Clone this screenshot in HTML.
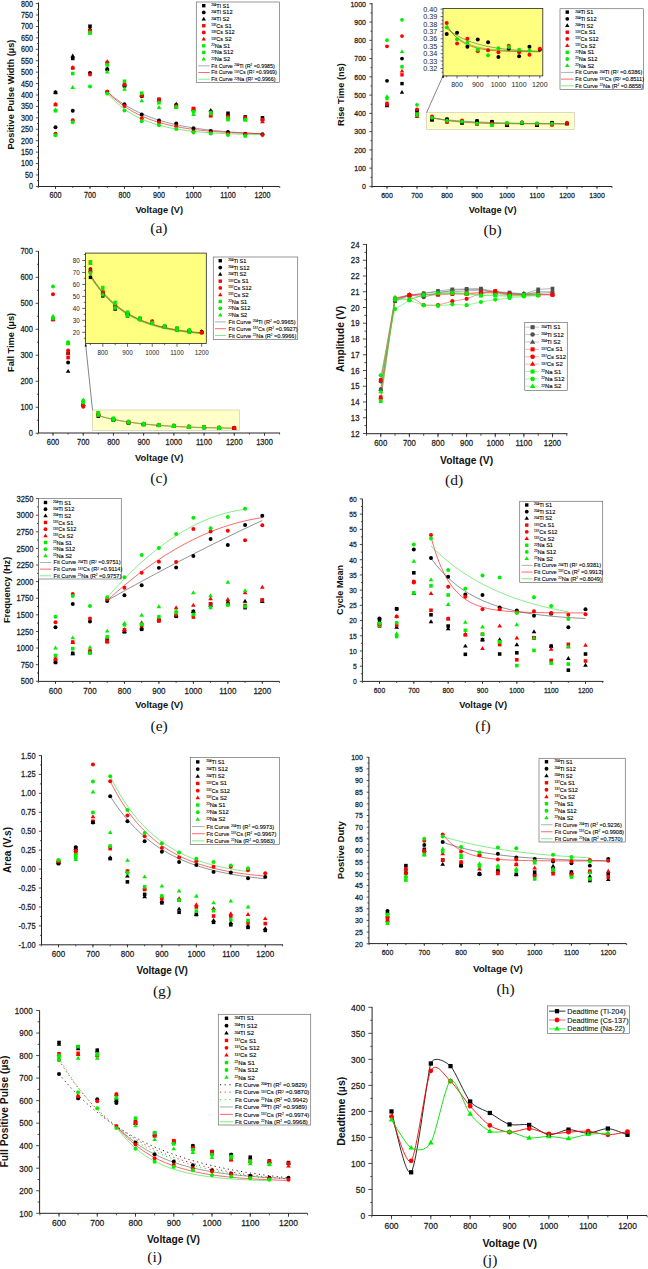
<!DOCTYPE html><html><head><meta charset="utf-8"><style>
html,body{margin:0;padding:0;background:#fff;width:648px;height:1269px;overflow:hidden}
svg{display:block;font-family:"Liberation Sans",sans-serif}
</style></head><body>
<svg width="648" height="1269" viewBox="0 0 648 1269">
<path d="M38.5 2.5V186.5H279.5" fill="none" stroke="#262626" stroke-width="1"/>
<path d="M55.50 186.5v2.6M90.00 186.5v2.6M124.50 186.5v2.6M159.00 186.5v2.6M193.50 186.5v2.6M228.00 186.5v2.6M262.50 186.5v2.6M38.25 186.5v1.5M55.50 186.5v1.5M72.75 186.5v1.5M90.00 186.5v1.5M107.25 186.5v1.5M124.50 186.5v1.5M141.75 186.5v1.5M159.00 186.5v1.5M176.25 186.5v1.5M193.50 186.5v1.5M210.75 186.5v1.5M228.00 186.5v1.5M245.25 186.5v1.5M262.50 186.5v1.5M279.75 186.5v1.5M38.5 186.40h-2.6M38.5 174.97h-2.6M38.5 163.55h-2.6M38.5 152.12h-2.6M38.5 140.70h-2.6M38.5 129.28h-2.6M38.5 117.85h-2.6M38.5 106.42h-2.6M38.5 95.00h-2.6M38.5 83.58h-2.6M38.5 72.15h-2.6M38.5 60.73h-2.6M38.5 49.30h-2.6M38.5 37.88h-2.6M38.5 26.45h-2.6M38.5 15.03h-2.6M38.5 3.60h-2.6M38.5 180.69h-1.5M38.5 169.26h-1.5M38.5 157.84h-1.5M38.5 146.41h-1.5M38.5 134.99h-1.5M38.5 123.56h-1.5M38.5 112.14h-1.5M38.5 100.71h-1.5M38.5 89.29h-1.5M38.5 77.86h-1.5M38.5 66.44h-1.5M38.5 55.01h-1.5M38.5 43.59h-1.5M38.5 32.16h-1.5M38.5 20.74h-1.5M38.5 9.31h-1.5" stroke="#262626" stroke-width="0.8"/>
<text transform="translate(55.50 198.00) scale(1 1.15)" font-size="7.2" text-anchor="middle" fill="#222" stroke="#222" stroke-width="0.22">600</text>
<text transform="translate(90.00 198.00) scale(1 1.15)" font-size="7.2" text-anchor="middle" fill="#222" stroke="#222" stroke-width="0.22">700</text>
<text transform="translate(124.50 198.00) scale(1 1.15)" font-size="7.2" text-anchor="middle" fill="#222" stroke="#222" stroke-width="0.22">800</text>
<text transform="translate(159.00 198.00) scale(1 1.15)" font-size="7.2" text-anchor="middle" fill="#222" stroke="#222" stroke-width="0.22">900</text>
<text transform="translate(193.50 198.00) scale(1 1.15)" font-size="7.2" text-anchor="middle" fill="#222" stroke="#222" stroke-width="0.22">1000</text>
<text transform="translate(228.00 198.00) scale(1 1.15)" font-size="7.2" text-anchor="middle" fill="#222" stroke="#222" stroke-width="0.22">1100</text>
<text transform="translate(262.50 198.00) scale(1 1.15)" font-size="7.2" text-anchor="middle" fill="#222" stroke="#222" stroke-width="0.22">1200</text>
<text transform="translate(33.10 189.34) scale(1 1.15)" font-size="7.2" text-anchor="end" fill="#222" stroke="#222" stroke-width="0.22">0</text>
<text transform="translate(33.10 177.91) scale(1 1.15)" font-size="7.2" text-anchor="end" fill="#222" stroke="#222" stroke-width="0.22">50</text>
<text transform="translate(33.10 166.49) scale(1 1.15)" font-size="7.2" text-anchor="end" fill="#222" stroke="#222" stroke-width="0.22">100</text>
<text transform="translate(33.10 155.06) scale(1 1.15)" font-size="7.2" text-anchor="end" fill="#222" stroke="#222" stroke-width="0.22">150</text>
<text transform="translate(33.10 143.64) scale(1 1.15)" font-size="7.2" text-anchor="end" fill="#222" stroke="#222" stroke-width="0.22">200</text>
<text transform="translate(33.10 132.21) scale(1 1.15)" font-size="7.2" text-anchor="end" fill="#222" stroke="#222" stroke-width="0.22">250</text>
<text transform="translate(33.10 120.79) scale(1 1.15)" font-size="7.2" text-anchor="end" fill="#222" stroke="#222" stroke-width="0.22">300</text>
<text transform="translate(33.10 109.36) scale(1 1.15)" font-size="7.2" text-anchor="end" fill="#222" stroke="#222" stroke-width="0.22">350</text>
<text transform="translate(33.10 97.94) scale(1 1.15)" font-size="7.2" text-anchor="end" fill="#222" stroke="#222" stroke-width="0.22">400</text>
<text transform="translate(33.10 86.51) scale(1 1.15)" font-size="7.2" text-anchor="end" fill="#222" stroke="#222" stroke-width="0.22">450</text>
<text transform="translate(33.10 75.09) scale(1 1.15)" font-size="7.2" text-anchor="end" fill="#222" stroke="#222" stroke-width="0.22">500</text>
<text transform="translate(33.10 63.66) scale(1 1.15)" font-size="7.2" text-anchor="end" fill="#222" stroke="#222" stroke-width="0.22">550</text>
<text transform="translate(33.10 52.24) scale(1 1.15)" font-size="7.2" text-anchor="end" fill="#222" stroke="#222" stroke-width="0.22">600</text>
<text transform="translate(33.10 40.81) scale(1 1.15)" font-size="7.2" text-anchor="end" fill="#222" stroke="#222" stroke-width="0.22">650</text>
<text transform="translate(33.10 29.39) scale(1 1.15)" font-size="7.2" text-anchor="end" fill="#222" stroke="#222" stroke-width="0.22">700</text>
<text transform="translate(33.10 17.96) scale(1 1.15)" font-size="7.2" text-anchor="end" fill="#222" stroke="#222" stroke-width="0.22">750</text>
<text transform="translate(33.10 6.54) scale(1 1.15)" font-size="7.2" text-anchor="end" fill="#222" stroke="#222" stroke-width="0.22">800</text>
<text x="159.20" y="212.90" font-size="9.25" font-weight="bold" text-anchor="middle" fill="#111">Voltage (V)</text>
<text transform="translate(14.40 94.60) rotate(-90)" font-size="9.24" font-weight="bold" text-anchor="middle" fill="#111">Positive Pulse Width (µs)</text>
<text x="158.90" y="233.30" style="font-family:&quot;Liberation Serif&quot;,serif" font-size="15.6" text-anchor="middle" fill="#111">(a)</text>
<path d="M107.25 91.80L109.84 94.02L112.42 96.13L115.01 98.13L117.60 100.03L120.19 101.83L122.78 103.54L125.36 105.17L127.95 106.71L130.54 108.17L133.12 109.56L135.71 110.88L138.30 112.14L140.89 113.33L143.47 114.46L146.06 115.53L148.65 116.55L151.24 117.52L153.82 118.44L156.41 119.31L159.00 120.14L161.59 120.92L164.18 121.67L166.76 122.38L169.35 123.05L171.94 123.69L174.53 124.29L177.11 124.87L179.70 125.41L182.29 125.93L184.88 126.43L187.46 126.89L190.05 127.34L192.64 127.76L195.22 128.16L197.81 128.54L200.40 128.90L202.99 129.24L205.57 129.57L208.16 129.88L210.75 130.17L213.34 130.45L215.93 130.71L218.51 130.96L221.10 131.20L223.69 131.43L226.28 131.64L228.86 131.85L231.45 132.04L234.04 132.22L236.62 132.40L239.21 132.56L241.80 132.72L244.39 132.87L246.97 133.01L249.56 133.15L252.15 133.27L254.74 133.40L257.32 133.51L259.91 133.62L262.50 133.72" fill="none" stroke="#555" stroke-width="0.6"/>
<path d="M107.25 91.80L109.84 94.40L112.42 96.84L115.01 99.13L117.60 101.29L120.19 103.31L122.78 105.21L125.36 107.00L127.95 108.68L130.54 110.25L133.12 111.74L135.71 113.13L138.30 114.44L140.89 115.66L143.47 116.82L146.06 117.90L148.65 118.92L151.24 119.88L153.82 120.78L156.41 121.63L159.00 122.42L161.59 123.17L164.18 123.87L166.76 124.53L169.35 125.14L171.94 125.73L174.53 126.27L177.11 126.79L179.70 127.27L182.29 127.72L184.88 128.15L187.46 128.55L190.05 128.92L192.64 129.27L195.22 129.61L197.81 129.92L200.40 130.21L202.99 130.49L205.57 130.74L208.16 130.99L210.75 131.21L213.34 131.43L215.93 131.63L218.51 131.82L221.10 132.00L223.69 132.16L226.28 132.32L228.86 132.47L231.45 132.61L234.04 132.74L236.62 132.86L239.21 132.97L241.80 133.08L244.39 133.18L246.97 133.28L249.56 133.37L252.15 133.45L254.74 133.53L257.32 133.61L259.91 133.68L262.50 133.74" fill="none" stroke="#ff0000" stroke-width="0.6"/>
<path d="M107.25 93.17L109.84 96.07L112.42 98.78L115.01 101.29L117.60 103.63L120.19 105.81L122.78 107.84L125.36 109.73L127.95 111.49L130.54 113.13L133.12 114.66L135.71 116.08L138.30 117.40L140.89 118.63L143.47 119.77L146.06 120.84L148.65 121.83L151.24 122.76L153.82 123.62L156.41 124.42L159.00 125.16L161.59 125.86L164.18 126.50L166.76 127.10L169.35 127.66L171.94 128.19L174.53 128.67L177.11 129.12L179.70 129.54L182.29 129.93L184.88 130.30L187.46 130.64L190.05 130.95L192.64 131.25L195.22 131.52L197.81 131.78L200.40 132.02L202.99 132.24L205.57 132.44L208.16 132.63L210.75 132.81L213.34 132.98L215.93 133.13L218.51 133.28L221.10 133.41L223.69 133.53L226.28 133.65L228.86 133.76L231.45 133.86L234.04 133.95L236.62 134.04L239.21 134.12L241.80 134.20L244.39 134.27L246.97 134.33L249.56 134.39L252.15 134.45L254.74 134.50L257.32 134.55L259.91 134.60L262.50 134.64" fill="none" stroke="#22dd22" stroke-width="0.6"/>
<path d="M55.50 89.79L57.84 93.74L53.16 93.74Z" fill="#000"/>
<path d="M72.75 53.46L75.09 57.41L70.41 57.41Z" fill="#000"/>
<path d="M90.00 26.27L92.34 30.22L87.66 30.22Z" fill="#000"/>
<path d="M107.25 66.26L109.59 70.20L104.91 70.20Z" fill="#000"/>
<path d="M124.50 82.25L126.84 86.20L122.16 86.20Z" fill="#000"/>
<path d="M141.75 92.53L144.09 96.48L139.41 96.48Z" fill="#000"/>
<path d="M159.00 97.56L161.34 101.51L156.66 101.51Z" fill="#000"/>
<path d="M176.25 101.67L178.59 105.62L173.91 105.62Z" fill="#000"/>
<path d="M193.50 107.38L195.84 111.33L191.16 111.33Z" fill="#000"/>
<path d="M210.75 108.07L213.09 112.02L208.41 112.02Z" fill="#000"/>
<path d="M228.00 111.95L230.34 115.90L225.66 115.90Z" fill="#000"/>
<path d="M245.25 115.38L247.59 119.33L242.91 119.33Z" fill="#000"/>
<path d="M262.50 116.53L264.84 120.47L260.16 120.47Z" fill="#000"/>
<rect x="53.72" y="90.70" width="3.57" height="3.57" fill="#000"/>
<rect x="70.97" y="56.66" width="3.57" height="3.57" fill="#000"/>
<rect x="88.22" y="24.44" width="3.57" height="3.57" fill="#000"/>
<rect x="105.47" y="67.62" width="3.57" height="3.57" fill="#000"/>
<rect x="122.72" y="84.08" width="3.57" height="3.57" fill="#000"/>
<rect x="139.97" y="94.36" width="3.57" height="3.57" fill="#000"/>
<rect x="157.22" y="97.79" width="3.57" height="3.57" fill="#000"/>
<rect x="174.47" y="103.50" width="3.57" height="3.57" fill="#000"/>
<rect x="191.72" y="107.38" width="3.57" height="3.57" fill="#000"/>
<rect x="208.97" y="110.35" width="3.57" height="3.57" fill="#000"/>
<rect x="226.22" y="111.50" width="3.57" height="3.57" fill="#000"/>
<rect x="243.47" y="115.15" width="3.57" height="3.57" fill="#000"/>
<rect x="260.71" y="116.07" width="3.57" height="3.57" fill="#000"/>
<circle cx="55.50" cy="127.22" r="1.99" fill="#000"/>
<circle cx="72.75" cy="110.77" r="1.99" fill="#000"/>
<circle cx="90.00" cy="73.06" r="1.99" fill="#000"/>
<circle cx="107.25" cy="91.80" r="1.99" fill="#000"/>
<circle cx="124.50" cy="104.14" r="1.99" fill="#000"/>
<circle cx="141.75" cy="114.42" r="1.99" fill="#000"/>
<circle cx="159.00" cy="120.59" r="1.99" fill="#000"/>
<circle cx="176.25" cy="123.56" r="1.99" fill="#000"/>
<circle cx="193.50" cy="128.36" r="1.99" fill="#000"/>
<circle cx="210.75" cy="130.87" r="1.99" fill="#000"/>
<circle cx="228.00" cy="132.02" r="1.99" fill="#000"/>
<circle cx="245.25" cy="133.84" r="1.99" fill="#000"/>
<circle cx="262.50" cy="134.30" r="1.99" fill="#000"/>
<path d="M55.50 101.67L57.84 105.62L53.16 105.62Z" fill="#ff0000"/>
<path d="M72.75 65.11L75.09 69.06L70.41 69.06Z" fill="#ff0000"/>
<path d="M90.00 27.64L92.34 31.59L87.66 31.59Z" fill="#ff0000"/>
<path d="M107.25 58.94L109.59 62.89L104.91 62.89Z" fill="#ff0000"/>
<path d="M124.50 81.56L126.84 85.51L122.16 85.51Z" fill="#ff0000"/>
<path d="M141.75 92.53L144.09 96.48L139.41 96.48Z" fill="#ff0000"/>
<path d="M159.00 97.56L161.34 101.51L156.66 101.51Z" fill="#ff0000"/>
<path d="M176.25 103.50L178.59 107.45L173.91 107.45Z" fill="#ff0000"/>
<path d="M193.50 106.70L195.84 110.65L191.16 110.65Z" fill="#ff0000"/>
<path d="M210.75 112.64L213.09 116.59L208.41 116.59Z" fill="#ff0000"/>
<path d="M228.00 115.38L230.34 119.33L225.66 119.33Z" fill="#ff0000"/>
<path d="M245.25 116.53L247.59 120.47L242.91 120.47Z" fill="#ff0000"/>
<path d="M262.50 119.27L264.84 123.22L260.16 123.22Z" fill="#ff0000"/>
<rect x="53.72" y="102.81" width="3.57" height="3.57" fill="#ff0000"/>
<rect x="70.97" y="66.25" width="3.57" height="3.57" fill="#ff0000"/>
<rect x="88.22" y="29.23" width="3.57" height="3.57" fill="#ff0000"/>
<rect x="105.47" y="61.23" width="3.57" height="3.57" fill="#ff0000"/>
<rect x="122.72" y="82.93" width="3.57" height="3.57" fill="#ff0000"/>
<rect x="139.97" y="93.90" width="3.57" height="3.57" fill="#ff0000"/>
<rect x="157.22" y="97.56" width="3.57" height="3.57" fill="#ff0000"/>
<rect x="174.47" y="104.64" width="3.57" height="3.57" fill="#ff0000"/>
<rect x="191.72" y="106.70" width="3.57" height="3.57" fill="#ff0000"/>
<rect x="208.97" y="114.01" width="3.57" height="3.57" fill="#ff0000"/>
<rect x="226.22" y="114.69" width="3.57" height="3.57" fill="#ff0000"/>
<rect x="243.47" y="116.07" width="3.57" height="3.57" fill="#ff0000"/>
<rect x="260.71" y="117.89" width="3.57" height="3.57" fill="#ff0000"/>
<circle cx="55.50" cy="133.62" r="1.99" fill="#ff0000"/>
<circle cx="72.75" cy="120.36" r="1.99" fill="#ff0000"/>
<circle cx="90.00" cy="74.44" r="1.99" fill="#ff0000"/>
<circle cx="107.25" cy="91.80" r="1.99" fill="#ff0000"/>
<circle cx="124.50" cy="105.97" r="1.99" fill="#ff0000"/>
<circle cx="141.75" cy="118.31" r="1.99" fill="#ff0000"/>
<circle cx="159.00" cy="122.42" r="1.99" fill="#ff0000"/>
<circle cx="176.25" cy="126.30" r="1.99" fill="#ff0000"/>
<circle cx="193.50" cy="131.56" r="1.99" fill="#ff0000"/>
<circle cx="210.75" cy="132.70" r="1.99" fill="#ff0000"/>
<circle cx="228.00" cy="133.84" r="1.99" fill="#ff0000"/>
<circle cx="245.25" cy="134.30" r="1.99" fill="#ff0000"/>
<circle cx="262.50" cy="134.99" r="1.99" fill="#ff0000"/>
<path d="M55.50 107.38L57.84 111.33L53.16 111.33Z" fill="#00ee00"/>
<path d="M72.75 84.99L75.09 88.94L70.41 88.94Z" fill="#00ee00"/>
<path d="M90.00 30.84L92.34 34.79L87.66 34.79Z" fill="#00ee00"/>
<path d="M107.25 69.45L109.59 73.40L104.91 73.40Z" fill="#00ee00"/>
<path d="M124.50 86.82L126.84 90.77L122.16 90.77Z" fill="#00ee00"/>
<path d="M141.75 98.25L144.09 102.19L139.41 102.19Z" fill="#00ee00"/>
<path d="M159.00 105.10L161.34 109.05L156.66 109.05Z" fill="#00ee00"/>
<path d="M176.25 105.10L178.59 109.05L173.91 109.05Z" fill="#00ee00"/>
<path d="M193.50 111.95L195.84 115.90L191.16 115.90Z" fill="#00ee00"/>
<path d="M210.75 111.27L213.09 115.22L208.41 115.22Z" fill="#00ee00"/>
<path d="M228.00 115.38L230.34 119.33L225.66 119.33Z" fill="#00ee00"/>
<path d="M245.25 117.67L247.59 121.62L242.91 121.62Z" fill="#00ee00"/>
<rect x="53.72" y="108.98" width="3.57" height="3.57" fill="#00ee00"/>
<rect x="70.97" y="71.74" width="3.57" height="3.57" fill="#00ee00"/>
<rect x="88.22" y="30.83" width="3.57" height="3.57" fill="#00ee00"/>
<rect x="105.47" y="63.05" width="3.57" height="3.57" fill="#00ee00"/>
<rect x="122.72" y="79.51" width="3.57" height="3.57" fill="#00ee00"/>
<rect x="139.97" y="91.39" width="3.57" height="3.57" fill="#00ee00"/>
<rect x="157.22" y="100.98" width="3.57" height="3.57" fill="#00ee00"/>
<rect x="174.47" y="105.33" width="3.57" height="3.57" fill="#00ee00"/>
<rect x="191.72" y="109.90" width="3.57" height="3.57" fill="#00ee00"/>
<rect x="208.97" y="110.81" width="3.57" height="3.57" fill="#00ee00"/>
<rect x="226.22" y="117.89" width="3.57" height="3.57" fill="#00ee00"/>
<rect x="243.47" y="117.89" width="3.57" height="3.57" fill="#00ee00"/>
<circle cx="55.50" cy="135.22" r="1.99" fill="#00ee00"/>
<circle cx="72.75" cy="122.19" r="1.99" fill="#00ee00"/>
<circle cx="90.00" cy="86.55" r="1.99" fill="#00ee00"/>
<circle cx="107.25" cy="93.63" r="1.99" fill="#00ee00"/>
<circle cx="124.50" cy="110.54" r="1.99" fill="#00ee00"/>
<circle cx="141.75" cy="121.28" r="1.99" fill="#00ee00"/>
<circle cx="159.00" cy="125.16" r="1.99" fill="#00ee00"/>
<circle cx="176.25" cy="129.05" r="1.99" fill="#00ee00"/>
<circle cx="193.50" cy="132.47" r="1.99" fill="#00ee00"/>
<circle cx="210.75" cy="133.62" r="1.99" fill="#00ee00"/>
<circle cx="228.00" cy="134.99" r="1.99" fill="#00ee00"/>
<circle cx="245.25" cy="135.90" r="1.99" fill="#00ee00"/>
<rect x="196.25" y="2" width="83.25" height="80.5" fill="#fff" stroke="#555" stroke-width="0.6"/>
<rect x="202.05" y="4.00" width="3.40" height="3.40" fill="#000"/>
<text x="211.2" y="7.72" font-size="5.6" fill="#000" stroke="#000" stroke-width="0.12"><tspan font-size="3.08" dy="-1.57">204</tspan><tspan dy="1.57">Tl S1</tspan></text>
<circle cx="203.75" cy="12.38" r="1.90" fill="#000"/>
<text x="211.2" y="14.40" font-size="5.6" fill="#000" stroke="#000" stroke-width="0.12"><tspan font-size="3.08" dy="-1.57">204</tspan><tspan dy="1.57">Tl S12</tspan></text>
<path d="M203.75 16.71L205.98 20.47L201.52 20.47Z" fill="#000"/>
<text x="211.2" y="21.08" font-size="5.6" fill="#000" stroke="#000" stroke-width="0.12"><tspan font-size="3.08" dy="-1.57">204</tspan><tspan dy="1.57">Tl S2</tspan></text>
<rect x="202.05" y="24.05" width="3.40" height="3.40" fill="#ff0000"/>
<text x="211.2" y="27.76" font-size="5.6" fill="#000" stroke="#000" stroke-width="0.12"><tspan font-size="3.08" dy="-1.57">137</tspan><tspan dy="1.57">Cs S1</tspan></text>
<circle cx="203.75" cy="32.43" r="1.90" fill="#ff0000"/>
<text x="211.2" y="34.44" font-size="5.6" fill="#000" stroke="#000" stroke-width="0.12"><tspan font-size="3.08" dy="-1.57">137</tspan><tspan dy="1.57">Cs S12</tspan></text>
<path d="M203.75 36.76L205.98 40.52L201.52 40.52Z" fill="#ff0000"/>
<text x="211.2" y="41.13" font-size="5.6" fill="#000" stroke="#000" stroke-width="0.12"><tspan font-size="3.08" dy="-1.57">137</tspan><tspan dy="1.57">Cs S2</tspan></text>
<rect x="202.05" y="44.09" width="3.40" height="3.40" fill="#00ee00"/>
<text x="211.2" y="47.81" font-size="5.6" fill="#000" stroke="#000" stroke-width="0.12"><tspan font-size="3.08" dy="-1.57">22</tspan><tspan dy="1.57">Na S1</tspan></text>
<circle cx="203.75" cy="52.47" r="1.90" fill="#00ee00"/>
<text x="211.2" y="54.49" font-size="5.6" fill="#000" stroke="#000" stroke-width="0.12"><tspan font-size="3.08" dy="-1.57">22</tspan><tspan dy="1.57">Na S12</tspan></text>
<path d="M203.75 56.80L205.98 60.56L201.52 60.56Z" fill="#00ee00"/>
<text x="211.2" y="61.17" font-size="5.6" fill="#000" stroke="#000" stroke-width="0.12"><tspan font-size="3.08" dy="-1.57">22</tspan><tspan dy="1.57">Na S2</tspan></text>
<line x1="198.25" y1="65.84" x2="209.8" y2="65.84" stroke="#777" stroke-width="0.6"/>
<text x="211.3" y="67.74" font-size="5.3" fill="#000" stroke="#000" stroke-width="0.1">Fit Curve <tspan font-size="2.92" dy="-1.48">204</tspan><tspan dy="1.48">Tl (R</tspan><tspan font-size="2.92" dy="-1.48">2</tspan><tspan dy="1.48"> =0.9985)</tspan></text>
<line x1="198.25" y1="72.52" x2="209.8" y2="72.52" stroke="#ff0000" stroke-width="0.6"/>
<text x="211.3" y="74.43" font-size="5.3" fill="#000" stroke="#000" stroke-width="0.1">Fit Curve <tspan font-size="2.92" dy="-1.48">137</tspan><tspan dy="1.48">Cs (R</tspan><tspan font-size="2.92" dy="-1.48">2</tspan><tspan dy="1.48"> =0.9969)</tspan></text>
<line x1="198.25" y1="79.20" x2="209.8" y2="79.20" stroke="#33dd33" stroke-width="0.6"/>
<text x="211.3" y="81.11" font-size="5.3" fill="#000" stroke="#000" stroke-width="0.1">Fit Curve <tspan font-size="2.92" dy="-1.48">22</tspan><tspan dy="1.48">Na (R</tspan><tspan font-size="2.92" dy="-1.48">2</tspan><tspan dy="1.48"> =0.9966)</tspan></text>
<path d="M372 3V186.5H612" fill="none" stroke="#262626" stroke-width="1"/>
<path d="M387.00 186.5v2.7M417.00 186.5v2.7M447.00 186.5v2.7M477.00 186.5v2.7M507.00 186.5v2.7M537.00 186.5v2.7M567.00 186.5v2.7M597.00 186.5v2.7M372.00 186.5v1.5M387.00 186.5v1.5M402.00 186.5v1.5M417.00 186.5v1.5M432.00 186.5v1.5M447.00 186.5v1.5M462.00 186.5v1.5M477.00 186.5v1.5M492.00 186.5v1.5M507.00 186.5v1.5M522.00 186.5v1.5M537.00 186.5v1.5M552.00 186.5v1.5M567.00 186.5v1.5M582.00 186.5v1.5M597.00 186.5v1.5M612.00 186.5v1.5M372 186.40h-2.7M372 168.14h-2.7M372 149.88h-2.7M372 131.62h-2.7M372 113.36h-2.7M372 95.10h-2.7M372 76.84h-2.7M372 58.58h-2.7M372 40.32h-2.7M372 22.06h-2.7M372 3.80h-2.7M372 177.27h-1.5M372 159.01h-1.5M372 140.75h-1.5M372 122.49h-1.5M372 104.23h-1.5M372 85.97h-1.5M372 67.71h-1.5M372 49.45h-1.5M372 31.19h-1.5M372 12.93h-1.5" stroke="#262626" stroke-width="0.8"/>
<text transform="translate(387.00 198.00) scale(1 1.15)" font-size="7.0" text-anchor="middle" fill="#222" stroke="#222" stroke-width="0.22">600</text>
<text transform="translate(417.00 198.00) scale(1 1.15)" font-size="7.0" text-anchor="middle" fill="#222" stroke="#222" stroke-width="0.22">700</text>
<text transform="translate(447.00 198.00) scale(1 1.15)" font-size="7.0" text-anchor="middle" fill="#222" stroke="#222" stroke-width="0.22">800</text>
<text transform="translate(477.00 198.00) scale(1 1.15)" font-size="7.0" text-anchor="middle" fill="#222" stroke="#222" stroke-width="0.22">900</text>
<text transform="translate(507.00 198.00) scale(1 1.15)" font-size="7.0" text-anchor="middle" fill="#222" stroke="#222" stroke-width="0.22">1000</text>
<text transform="translate(537.00 198.00) scale(1 1.15)" font-size="7.0" text-anchor="middle" fill="#222" stroke="#222" stroke-width="0.22">1100</text>
<text transform="translate(567.00 198.00) scale(1 1.15)" font-size="7.0" text-anchor="middle" fill="#222" stroke="#222" stroke-width="0.22">1200</text>
<text transform="translate(597.00 198.00) scale(1 1.15)" font-size="7.0" text-anchor="middle" fill="#222" stroke="#222" stroke-width="0.22">1300</text>
<text transform="translate(366.00 189.26) scale(1 1.15)" font-size="7.0" text-anchor="end" fill="#222" stroke="#222" stroke-width="0.22">0</text>
<text transform="translate(366.00 171.00) scale(1 1.15)" font-size="7.0" text-anchor="end" fill="#222" stroke="#222" stroke-width="0.22">100</text>
<text transform="translate(366.00 152.74) scale(1 1.15)" font-size="7.0" text-anchor="end" fill="#222" stroke="#222" stroke-width="0.22">200</text>
<text transform="translate(366.00 134.48) scale(1 1.15)" font-size="7.0" text-anchor="end" fill="#222" stroke="#222" stroke-width="0.22">300</text>
<text transform="translate(366.00 116.22) scale(1 1.15)" font-size="7.0" text-anchor="end" fill="#222" stroke="#222" stroke-width="0.22">400</text>
<text transform="translate(366.00 97.96) scale(1 1.15)" font-size="7.0" text-anchor="end" fill="#222" stroke="#222" stroke-width="0.22">500</text>
<text transform="translate(366.00 79.70) scale(1 1.15)" font-size="7.0" text-anchor="end" fill="#222" stroke="#222" stroke-width="0.22">600</text>
<text transform="translate(366.00 61.44) scale(1 1.15)" font-size="7.0" text-anchor="end" fill="#222" stroke="#222" stroke-width="0.22">700</text>
<text transform="translate(366.00 43.18) scale(1 1.15)" font-size="7.0" text-anchor="end" fill="#222" stroke="#222" stroke-width="0.22">800</text>
<text transform="translate(366.00 24.92) scale(1 1.15)" font-size="7.0" text-anchor="end" fill="#222" stroke="#222" stroke-width="0.22">900</text>
<text transform="translate(366.00 6.66) scale(1 1.15)" font-size="7.0" text-anchor="end" fill="#222" stroke="#222" stroke-width="0.22">1000</text>
<text x="492.70" y="213.00" font-size="9.3" font-weight="bold" text-anchor="middle" fill="#111">Voltage (V)</text>
<text transform="translate(344.20 94.60) rotate(-90)" font-size="9.21" font-weight="bold" text-anchor="middle" fill="#111">Rise Time (ns)</text>
<text x="492.60" y="235.20" style="font-family:&quot;Liberation Serif&quot;,serif" font-size="15.6" text-anchor="middle" fill="#111">(b)</text>
<rect x="426.4" y="112.6" width="148" height="16.8" fill="#ffffc8" stroke="#c4c4b0" stroke-width="0.6"/>
<line x1="426.6" y1="112.6" x2="443" y2="75.9" stroke="#333" stroke-width="0.6"/>
<path d="M441.6 77.6L443.6 74.6L444.2 77.8Z" fill="#111"/>
<path d="M432.00 118.11L434.25 118.41L436.50 118.69L438.75 118.96L441.00 119.22L443.25 119.47L445.50 119.70L447.75 119.92L450.00 120.13L452.25 120.32L454.50 120.51L456.75 120.69L459.00 120.86L461.25 121.02L463.50 121.17L465.75 121.32L468.00 121.46L470.25 121.59L472.50 121.71L474.75 121.83L477.00 121.94L479.25 122.05L481.50 122.15L483.75 122.25L486.00 122.34L488.25 122.42L490.50 122.50L492.75 122.58L495.00 122.66L497.25 122.73L499.50 122.79L501.75 122.86L504.00 122.92L506.25 122.97L508.50 123.03L510.75 123.08L513.00 123.13L515.25 123.17L517.50 123.22L519.75 123.26L522.00 123.30L524.25 123.34L526.50 123.37L528.75 123.41L531.00 123.44L533.25 123.47L535.50 123.50L537.75 123.53L540.00 123.55L542.25 123.58L544.50 123.60L546.75 123.62L549.00 123.64L551.25 123.66L553.50 123.68L555.75 123.70L558.00 123.72L560.25 123.73L562.50 123.75L564.75 123.77L567.00 123.78" fill="none" stroke="#555" stroke-width="0.6"/>
<path d="M432.00 117.19L434.25 117.83L436.50 118.41L438.75 118.94L441.00 119.41L443.25 119.84L445.50 120.22L447.75 120.57L450.00 120.89L452.25 121.17L454.50 121.43L456.75 121.66L459.00 121.87L461.25 122.07L463.50 122.24L465.75 122.39L468.00 122.53L470.25 122.66L472.50 122.78L474.75 122.88L477.00 122.97L479.25 123.06L481.50 123.14L483.75 123.21L486.00 123.27L488.25 123.33L490.50 123.38L492.75 123.42L495.00 123.46L497.25 123.50L499.50 123.54L501.75 123.57L504.00 123.60L506.25 123.62L508.50 123.64L510.75 123.66L513.00 123.68L515.25 123.70L517.50 123.72L519.75 123.73L522.00 123.74L524.25 123.75L526.50 123.76L528.75 123.77L531.00 123.78L533.25 123.79L535.50 123.80L537.75 123.80L540.00 123.81L542.25 123.81L544.50 123.82L546.75 123.82L549.00 123.82L551.25 123.83L553.50 123.83L555.75 123.83L558.00 123.84L560.25 123.84L562.50 123.84L564.75 123.84L567.00 123.84" fill="none" stroke="#ff0000" stroke-width="0.6"/>
<path d="M432.00 117.65L434.25 118.16L436.50 118.63L438.75 119.06L441.00 119.45L443.25 119.81L445.50 120.14L447.75 120.44L450.00 120.72L452.25 120.97L454.50 121.21L456.75 121.42L459.00 121.62L461.25 121.79L463.50 121.96L465.75 122.11L468.00 122.25L470.25 122.37L472.50 122.49L474.75 122.60L477.00 122.69L479.25 122.78L481.50 122.87L483.75 122.94L486.00 123.01L488.25 123.07L490.50 123.13L492.75 123.18L495.00 123.23L497.25 123.28L499.50 123.32L501.75 123.36L504.00 123.39L506.25 123.42L508.50 123.45L510.75 123.48L513.00 123.50L515.25 123.52L517.50 123.54L519.75 123.56L522.00 123.58L524.25 123.60L526.50 123.61L528.75 123.62L531.00 123.64L533.25 123.65L535.50 123.66L537.75 123.67L540.00 123.67L542.25 123.68L544.50 123.69L546.75 123.70L549.00 123.70L551.25 123.71L553.50 123.71L555.75 123.72L558.00 123.72L560.25 123.73L562.50 123.73L564.75 123.73L567.00 123.74" fill="none" stroke="#22dd22" stroke-width="0.6"/>
<path d="M387.00 103.52L389.23 107.28L384.77 107.28Z" fill="#000"/>
<path d="M402.00 90.01L404.23 93.77L399.77 93.77Z" fill="#000"/>
<path d="M417.00 112.47L419.23 116.23L414.77 116.23Z" fill="#000"/>
<path d="M432.00 117.66L434.23 121.42L429.77 121.42Z" fill="#000"/>
<path d="M447.00 117.40L449.23 121.16L444.77 121.16Z" fill="#000"/>
<path d="M462.00 120.82L464.23 124.58L459.77 124.58Z" fill="#000"/>
<path d="M477.00 119.01L479.23 122.77L474.77 122.77Z" fill="#000"/>
<path d="M492.00 119.74L494.23 123.50L489.77 123.50Z" fill="#000"/>
<path d="M507.00 123.35L509.23 127.11L504.77 127.11Z" fill="#000"/>
<path d="M522.00 121.29L524.23 125.05L519.77 125.05Z" fill="#000"/>
<path d="M537.00 123.15L539.23 126.91L534.77 126.91Z" fill="#000"/>
<path d="M552.00 120.82L554.23 124.58L549.77 124.58Z" fill="#000"/>
<path d="M567.00 121.56L569.23 125.32L564.77 125.32Z" fill="#000"/>
<rect x="385.30" y="103.44" width="3.40" height="3.40" fill="#000"/>
<rect x="400.30" y="81.90" width="3.40" height="3.40" fill="#000"/>
<rect x="415.30" y="110.75" width="3.40" height="3.40" fill="#000"/>
<rect x="430.30" y="117.94" width="3.40" height="3.40" fill="#000"/>
<rect x="445.30" y="117.69" width="3.40" height="3.40" fill="#000"/>
<rect x="460.30" y="121.10" width="3.40" height="3.40" fill="#000"/>
<rect x="475.30" y="119.29" width="3.40" height="3.40" fill="#000"/>
<rect x="490.30" y="120.02" width="3.40" height="3.40" fill="#000"/>
<rect x="505.30" y="123.64" width="3.40" height="3.40" fill="#000"/>
<rect x="520.30" y="121.58" width="3.40" height="3.40" fill="#000"/>
<rect x="535.30" y="123.44" width="3.40" height="3.40" fill="#000"/>
<rect x="550.30" y="121.10" width="3.40" height="3.40" fill="#000"/>
<rect x="565.30" y="121.85" width="3.40" height="3.40" fill="#000"/>
<path d="M387.00 102.43L389.23 106.19L384.77 106.19Z" fill="#ff0000"/>
<path d="M402.00 68.83L404.23 72.59L399.77 72.59Z" fill="#ff0000"/>
<path d="M417.00 114.30L419.23 118.06L414.77 118.06Z" fill="#ff0000"/>
<path d="M432.00 114.06L434.23 117.82L429.77 117.82Z" fill="#ff0000"/>
<path d="M447.00 119.08L449.23 122.84L444.77 122.84Z" fill="#ff0000"/>
<path d="M462.00 117.95L464.23 121.71L459.77 121.71Z" fill="#ff0000"/>
<path d="M477.00 121.03L479.23 124.79L474.77 124.79Z" fill="#ff0000"/>
<path d="M492.00 120.74L494.23 124.50L489.77 124.50Z" fill="#ff0000"/>
<path d="M507.00 121.24L509.23 125.00L504.77 125.00Z" fill="#ff0000"/>
<path d="M522.00 119.65L524.23 123.41L519.77 123.41Z" fill="#ff0000"/>
<path d="M537.00 121.27L539.23 125.03L534.77 125.03Z" fill="#ff0000"/>
<path d="M552.00 121.86L554.23 125.62L549.77 125.62Z" fill="#ff0000"/>
<path d="M567.00 120.38L569.23 124.14L564.77 124.14Z" fill="#ff0000"/>
<rect x="385.30" y="101.62" width="3.40" height="3.40" fill="#ff0000"/>
<rect x="400.30" y="73.13" width="3.40" height="3.40" fill="#ff0000"/>
<rect x="415.30" y="112.57" width="3.40" height="3.40" fill="#ff0000"/>
<rect x="430.30" y="115.44" width="3.40" height="3.40" fill="#ff0000"/>
<rect x="445.30" y="120.46" width="3.40" height="3.40" fill="#ff0000"/>
<rect x="460.30" y="119.33" width="3.40" height="3.40" fill="#ff0000"/>
<rect x="475.30" y="122.42" width="3.40" height="3.40" fill="#ff0000"/>
<rect x="490.30" y="122.12" width="3.40" height="3.40" fill="#ff0000"/>
<rect x="505.30" y="122.62" width="3.40" height="3.40" fill="#ff0000"/>
<rect x="520.30" y="121.03" width="3.40" height="3.40" fill="#ff0000"/>
<rect x="535.30" y="122.65" width="3.40" height="3.40" fill="#ff0000"/>
<rect x="550.30" y="123.24" width="3.40" height="3.40" fill="#ff0000"/>
<rect x="565.30" y="121.76" width="3.40" height="3.40" fill="#ff0000"/>
<path d="M387.00 94.21L389.23 97.97L384.77 97.97Z" fill="#00ee00"/>
<path d="M402.00 49.29L404.23 53.05L399.77 53.05Z" fill="#00ee00"/>
<path d="M417.00 113.02L419.23 116.78L414.77 116.78Z" fill="#00ee00"/>
<path d="M432.00 116.23L434.23 119.99L429.77 119.99Z" fill="#00ee00"/>
<path d="M447.00 119.15L449.23 122.91L444.77 122.91Z" fill="#00ee00"/>
<path d="M462.00 120.03L464.23 123.79L459.77 123.79Z" fill="#00ee00"/>
<path d="M477.00 121.75L479.23 125.51L474.77 125.51Z" fill="#00ee00"/>
<path d="M492.00 123.10L494.23 126.86L489.77 126.86Z" fill="#00ee00"/>
<path d="M507.00 121.38L509.23 125.14L504.77 125.14Z" fill="#00ee00"/>
<path d="M522.00 121.05L524.23 124.81L519.77 124.81Z" fill="#00ee00"/>
<path d="M537.00 121.75L539.23 125.51L534.77 125.51Z" fill="#00ee00"/>
<path d="M552.00 121.98L554.23 125.74L549.77 125.74Z" fill="#00ee00"/>
<rect x="385.30" y="96.87" width="3.40" height="3.40" fill="#00ee00"/>
<rect x="400.30" y="65.10" width="3.40" height="3.40" fill="#00ee00"/>
<rect x="415.30" y="111.66" width="3.40" height="3.40" fill="#00ee00"/>
<rect x="430.30" y="116.33" width="3.40" height="3.40" fill="#00ee00"/>
<rect x="445.30" y="119.26" width="3.40" height="3.40" fill="#00ee00"/>
<rect x="460.30" y="120.13" width="3.40" height="3.40" fill="#00ee00"/>
<rect x="475.30" y="121.85" width="3.40" height="3.40" fill="#00ee00"/>
<rect x="490.30" y="123.20" width="3.40" height="3.40" fill="#00ee00"/>
<rect x="505.30" y="121.48" width="3.40" height="3.40" fill="#00ee00"/>
<rect x="520.30" y="121.16" width="3.40" height="3.40" fill="#00ee00"/>
<rect x="535.30" y="121.85" width="3.40" height="3.40" fill="#00ee00"/>
<rect x="550.30" y="122.09" width="3.40" height="3.40" fill="#00ee00"/>
<circle cx="387.00" cy="80.86" r="1.90" fill="#000"/>
<circle cx="402.00" cy="58.58" r="1.90" fill="#000"/>
<circle cx="417.00" cy="110.44" r="1.90" fill="#000"/>
<circle cx="432.00" cy="119.46" r="1.90" fill="#000"/>
<circle cx="447.00" cy="119.20" r="1.90" fill="#000"/>
<circle cx="462.00" cy="122.62" r="1.90" fill="#000"/>
<circle cx="477.00" cy="120.81" r="1.90" fill="#000"/>
<circle cx="492.00" cy="121.54" r="1.90" fill="#000"/>
<circle cx="507.00" cy="125.16" r="1.90" fill="#000"/>
<circle cx="522.00" cy="123.09" r="1.90" fill="#000"/>
<circle cx="537.00" cy="124.96" r="1.90" fill="#000"/>
<circle cx="552.00" cy="122.62" r="1.90" fill="#000"/>
<circle cx="567.00" cy="123.37" r="1.90" fill="#000"/>
<circle cx="387.00" cy="46.35" r="1.90" fill="#ff0000"/>
<circle cx="402.00" cy="36.12" r="1.90" fill="#ff0000"/>
<circle cx="417.00" cy="109.34" r="1.90" fill="#ff0000"/>
<circle cx="432.00" cy="116.77" r="1.90" fill="#ff0000"/>
<circle cx="447.00" cy="121.80" r="1.90" fill="#ff0000"/>
<circle cx="462.00" cy="120.66" r="1.90" fill="#ff0000"/>
<circle cx="477.00" cy="123.75" r="1.90" fill="#ff0000"/>
<circle cx="492.00" cy="123.46" r="1.90" fill="#ff0000"/>
<circle cx="507.00" cy="123.95" r="1.90" fill="#ff0000"/>
<circle cx="522.00" cy="122.36" r="1.90" fill="#ff0000"/>
<circle cx="537.00" cy="123.99" r="1.90" fill="#ff0000"/>
<circle cx="552.00" cy="124.57" r="1.90" fill="#ff0000"/>
<circle cx="567.00" cy="123.09" r="1.90" fill="#ff0000"/>
<circle cx="387.00" cy="40.14" r="1.90" fill="#00ee00"/>
<circle cx="402.00" cy="19.87" r="1.90" fill="#00ee00"/>
<circle cx="417.00" cy="104.78" r="1.90" fill="#00ee00"/>
<circle cx="432.00" cy="117.85" r="1.90" fill="#00ee00"/>
<circle cx="447.00" cy="120.77" r="1.90" fill="#00ee00"/>
<circle cx="462.00" cy="121.65" r="1.90" fill="#00ee00"/>
<circle cx="477.00" cy="123.37" r="1.90" fill="#00ee00"/>
<circle cx="492.00" cy="124.72" r="1.90" fill="#00ee00"/>
<circle cx="507.00" cy="123.00" r="1.90" fill="#00ee00"/>
<circle cx="522.00" cy="122.67" r="1.90" fill="#00ee00"/>
<circle cx="537.00" cy="123.37" r="1.90" fill="#00ee00"/>
<circle cx="552.00" cy="123.60" r="1.90" fill="#00ee00"/>
<rect x="443" y="8.4" width="99.79999999999995" height="67.5" fill="#ffff80" stroke="#262626" stroke-width="0.8"/>
<path d="M457.05 75.9v2.4M477.74 75.9v2.4M498.42 75.9v2.4M519.11 75.9v2.4M539.80 75.9v2.4M446.71 75.9v1.4M467.39 75.9v1.4M488.08 75.9v1.4M508.77 75.9v1.4M529.46 75.9v1.4M443 68.50h-2.4M443 61.07h-2.4M443 53.65h-2.4M443 46.23h-2.4M443 38.80h-2.4M443 31.38h-2.4M443 23.95h-2.4M443 16.53h-2.4M443 9.10h-2.4M443 72.21h-1.4M443 64.79h-1.4M443 57.36h-1.4M443 49.94h-1.4M443 42.51h-1.4M443 35.09h-1.4M443 27.66h-1.4M443 20.24h-1.4M443 12.81h-1.4" stroke="#262626" stroke-width="0.7"/>
<text x="457.05" y="87.30" font-size="7" text-anchor="middle" fill="#222">800</text>
<text x="477.74" y="87.30" font-size="7" text-anchor="middle" fill="#222">900</text>
<text x="498.42" y="87.30" font-size="7" text-anchor="middle" fill="#222">1000</text>
<text x="519.11" y="87.30" font-size="7" text-anchor="middle" fill="#222">1100</text>
<text x="539.80" y="87.30" font-size="7" text-anchor="middle" fill="#222">1200</text>
<text x="423.30" y="71.13" font-size="7.4" textLength="14.1" lengthAdjust="spacingAndGlyphs" fill="#222">0.32</text>
<text x="423.30" y="63.70" font-size="7.4" textLength="14.1" lengthAdjust="spacingAndGlyphs" fill="#222">0.33</text>
<text x="423.30" y="56.28" font-size="7.4" textLength="14.1" lengthAdjust="spacingAndGlyphs" fill="#222">0.34</text>
<text x="423.30" y="48.85" font-size="7.4" textLength="14.1" lengthAdjust="spacingAndGlyphs" fill="#222">0.35</text>
<text x="423.30" y="41.43" font-size="7.4" textLength="14.1" lengthAdjust="spacingAndGlyphs" fill="#222">0.36</text>
<text x="423.30" y="34.00" font-size="7.4" textLength="14.1" lengthAdjust="spacingAndGlyphs" fill="#222">0.37</text>
<text x="423.30" y="26.58" font-size="7.4" textLength="14.1" lengthAdjust="spacingAndGlyphs" fill="#222">0.38</text>
<text x="423.30" y="19.15" font-size="7.4" textLength="14.1" lengthAdjust="spacingAndGlyphs" fill="#222">0.39</text>
<text x="423.30" y="11.73" font-size="7.4" textLength="14.1" lengthAdjust="spacingAndGlyphs" fill="#222">0.40</text>
<path d="M446.71 28.41L448.26 29.63L449.81 30.79L451.36 31.89L452.91 32.93L454.46 33.92L456.02 34.87L457.57 35.76L459.12 36.61L460.67 37.42L462.22 38.18L463.77 38.91L465.32 39.60L466.88 40.25L468.43 40.87L469.98 41.47L471.53 42.03L473.08 42.56L474.63 43.06L476.19 43.54L477.74 44.00L479.29 44.43L480.84 44.84L482.39 45.23L483.94 45.60L485.50 45.95L487.05 46.28L488.60 46.60L490.15 46.90L491.70 47.19L493.25 47.46L494.80 47.71L496.36 47.96L497.91 48.19L499.46 48.41L501.01 48.62L502.56 48.82L504.11 49.01L505.67 49.18L507.22 49.35L508.77 49.51L510.32 49.67L511.87 49.81L513.42 49.95L514.98 50.08L516.53 50.21L518.08 50.32L519.63 50.44L521.18 50.54L522.73 50.64L524.28 50.74L525.84 50.83L527.39 50.92L528.94 51.00L530.49 51.08L532.04 51.15L533.59 51.22L535.15 51.29L536.70 51.35L538.25 51.41L539.80 51.47" fill="none" stroke="#555" stroke-width="0.6"/>
<path d="M446.71 24.69L448.26 27.29L449.81 29.65L451.36 31.77L452.91 33.70L454.46 35.43L456.02 37.00L457.57 38.43L459.12 39.71L460.67 40.87L462.22 41.92L463.77 42.87L465.32 43.72L466.88 44.50L468.43 45.20L469.98 45.83L471.53 46.40L473.08 46.92L474.63 47.39L476.19 47.81L477.74 48.20L479.29 48.54L480.84 48.85L482.39 49.14L483.94 49.39L485.50 49.62L487.05 49.83L488.60 50.02L490.15 50.19L491.70 50.34L493.25 50.48L494.80 50.61L496.36 50.72L497.91 50.83L499.46 50.92L501.01 51.00L502.56 51.08L504.11 51.15L505.67 51.21L507.22 51.27L508.77 51.32L510.32 51.36L511.87 51.40L513.42 51.44L514.98 51.47L516.53 51.51L518.08 51.53L519.63 51.56L521.18 51.58L522.73 51.60L524.28 51.62L525.84 51.64L527.39 51.65L528.94 51.67L530.49 51.68L532.04 51.69L533.59 51.70L535.15 51.71L536.70 51.72L538.25 51.72L539.80 51.73" fill="none" stroke="#e03000" stroke-width="0.7"/>
<path d="M446.71 26.55L448.26 28.62L449.81 30.52L451.36 32.26L452.91 33.86L454.46 35.32L456.02 36.67L457.57 37.90L459.12 39.02L460.67 40.06L462.22 41.00L463.77 41.87L465.32 42.67L466.88 43.40L468.43 44.07L469.98 44.68L471.53 45.24L473.08 45.76L474.63 46.23L476.19 46.66L477.74 47.06L479.29 47.42L480.84 47.75L482.39 48.06L483.94 48.34L485.50 48.60L487.05 48.83L488.60 49.05L490.15 49.25L491.70 49.43L493.25 49.59L494.80 49.75L496.36 49.89L497.91 50.01L499.46 50.13L501.01 50.24L502.56 50.34L504.11 50.43L505.67 50.51L507.22 50.59L508.77 50.66L510.32 50.72L511.87 50.78L513.42 50.83L514.98 50.88L516.53 50.93L518.08 50.97L519.63 51.01L521.18 51.04L522.73 51.07L524.28 51.10L525.84 51.13L527.39 51.15L528.94 51.18L530.49 51.20L532.04 51.21L533.59 51.23L535.15 51.25L536.70 51.26L538.25 51.28L539.80 51.29" fill="none" stroke="#22cc22" stroke-width="0.7"/>
<circle cx="446.71" cy="33.90" r="1.99" fill="#000"/>
<circle cx="457.05" cy="32.86" r="1.99" fill="#000"/>
<circle cx="467.39" cy="46.74" r="1.99" fill="#000"/>
<circle cx="477.74" cy="39.39" r="1.99" fill="#000"/>
<circle cx="488.08" cy="42.36" r="1.99" fill="#000"/>
<circle cx="498.42" cy="57.07" r="1.99" fill="#000"/>
<circle cx="508.77" cy="48.68" r="1.99" fill="#000"/>
<circle cx="519.11" cy="56.25" r="1.99" fill="#000"/>
<circle cx="529.46" cy="46.74" r="1.99" fill="#000"/>
<circle cx="539.80" cy="49.79" r="1.99" fill="#000"/>
<circle cx="446.71" cy="22.98" r="1.99" fill="#ff0000"/>
<circle cx="457.05" cy="43.40" r="1.99" fill="#ff0000"/>
<circle cx="467.39" cy="38.80" r="1.99" fill="#ff0000"/>
<circle cx="477.74" cy="51.35" r="1.99" fill="#ff0000"/>
<circle cx="488.08" cy="50.16" r="1.99" fill="#ff0000"/>
<circle cx="498.42" cy="52.16" r="1.99" fill="#ff0000"/>
<circle cx="508.77" cy="45.71" r="1.99" fill="#ff0000"/>
<circle cx="519.11" cy="52.31" r="1.99" fill="#ff0000"/>
<circle cx="529.46" cy="54.69" r="1.99" fill="#ff0000"/>
<circle cx="539.80" cy="48.68" r="1.99" fill="#ff0000"/>
<circle cx="446.71" cy="27.37" r="1.99" fill="#00ee00"/>
<circle cx="457.05" cy="39.25" r="1.99" fill="#00ee00"/>
<circle cx="467.39" cy="42.81" r="1.99" fill="#00ee00"/>
<circle cx="477.74" cy="49.79" r="1.99" fill="#00ee00"/>
<circle cx="488.08" cy="55.28" r="1.99" fill="#00ee00"/>
<circle cx="498.42" cy="48.30" r="1.99" fill="#00ee00"/>
<circle cx="508.77" cy="46.97" r="1.99" fill="#00ee00"/>
<circle cx="519.11" cy="49.79" r="1.99" fill="#00ee00"/>
<circle cx="529.46" cy="50.75" r="1.99" fill="#00ee00"/>
<rect x="560" y="8.75" width="83.5" height="80.75" fill="#fff" stroke="#555" stroke-width="0.6"/>
<rect x="565.55" y="10.40" width="3.40" height="3.40" fill="#000"/>
<text x="575.25" y="14.12" font-size="5.6" fill="#000" stroke="#000" stroke-width="0.12"><tspan font-size="3.08" dy="-1.57">204</tspan><tspan dy="1.57">Tl S1</tspan></text>
<circle cx="567.25" cy="18.80" r="1.90" fill="#000"/>
<text x="575.25" y="20.82" font-size="5.6" fill="#000" stroke="#000" stroke-width="0.12"><tspan font-size="3.08" dy="-1.57">204</tspan><tspan dy="1.57">Tl S12</tspan></text>
<path d="M567.25 23.15L569.48 26.91L565.02 26.91Z" fill="#000"/>
<text x="575.25" y="27.52" font-size="5.6" fill="#000" stroke="#000" stroke-width="0.12"><tspan font-size="3.08" dy="-1.57">204</tspan><tspan dy="1.57">Tl S2</tspan></text>
<rect x="565.55" y="30.50" width="3.40" height="3.40" fill="#ff0000"/>
<text x="575.25" y="34.22" font-size="5.6" fill="#000" stroke="#000" stroke-width="0.12"><tspan font-size="3.08" dy="-1.57">137</tspan><tspan dy="1.57">Cs S1</tspan></text>
<circle cx="567.25" cy="38.90" r="1.90" fill="#ff0000"/>
<text x="575.25" y="40.92" font-size="5.6" fill="#000" stroke="#000" stroke-width="0.12"><tspan font-size="3.08" dy="-1.57">137</tspan><tspan dy="1.57">Cs S12</tspan></text>
<path d="M567.25 43.25L569.48 47.01L565.02 47.01Z" fill="#ff0000"/>
<text x="575.25" y="47.62" font-size="5.6" fill="#000" stroke="#000" stroke-width="0.12"><tspan font-size="3.08" dy="-1.57">137</tspan><tspan dy="1.57">Cs S2</tspan></text>
<rect x="565.55" y="50.60" width="3.40" height="3.40" fill="#00ee00"/>
<text x="575.25" y="54.32" font-size="5.6" fill="#000" stroke="#000" stroke-width="0.12"><tspan font-size="3.08" dy="-1.57">22</tspan><tspan dy="1.57">Na S1</tspan></text>
<circle cx="567.25" cy="59.00" r="1.90" fill="#00ee00"/>
<text x="575.25" y="61.02" font-size="5.6" fill="#000" stroke="#000" stroke-width="0.12"><tspan font-size="3.08" dy="-1.57">22</tspan><tspan dy="1.57">Na S12</tspan></text>
<path d="M567.25 63.35L569.48 67.11L565.02 67.11Z" fill="#00ee00"/>
<text x="575.25" y="67.72" font-size="5.6" fill="#000" stroke="#000" stroke-width="0.12"><tspan font-size="3.08" dy="-1.57">22</tspan><tspan dy="1.57">Na S2</tspan></text>
<line x1="561" y1="72.40" x2="573.6" y2="72.40" stroke="#777" stroke-width="0.6"/>
<text x="575.25" y="74.42" font-size="5.6" fill="#000" stroke="#000" stroke-width="0.1">Fit Curve <tspan font-size="3.08" dy="-1.57">204</tspan><tspan dy="1.57">Tl (R</tspan><tspan font-size="3.08" dy="-1.57">2</tspan><tspan dy="1.57"> =0.6386)</tspan></text>
<line x1="561" y1="79.10" x2="573.6" y2="79.10" stroke="#ff0000" stroke-width="0.6"/>
<text x="575.25" y="81.12" font-size="5.6" fill="#000" stroke="#000" stroke-width="0.1">Fit Curve <tspan font-size="3.08" dy="-1.57">137</tspan><tspan dy="1.57">Cs (R</tspan><tspan font-size="3.08" dy="-1.57">2</tspan><tspan dy="1.57"> =0.8511)</tspan></text>
<line x1="561" y1="85.80" x2="573.6" y2="85.80" stroke="#33dd33" stroke-width="0.6"/>
<text x="575.25" y="87.82" font-size="5.6" fill="#000" stroke="#000" stroke-width="0.1">Fit Curve <tspan font-size="3.08" dy="-1.57">22</tspan><tspan dy="1.57">Na (R</tspan><tspan font-size="3.08" dy="-1.57">2</tspan><tspan dy="1.57"> =0.8858)</tspan></text>
<path d="M38.5 251V433H280" fill="none" stroke="#262626" stroke-width="1"/>
<path d="M53.00 433v2.9M83.21 433v2.9M113.43 433v2.9M143.64 433v2.9M173.86 433v2.9M204.07 433v2.9M234.29 433v2.9M264.50 433v2.9M37.89 433v1.5M53.00 433v1.5M68.11 433v1.5M83.21 433v1.5M98.32 433v1.5M113.43 433v1.5M128.54 433v1.5M143.64 433v1.5M158.75 433v1.5M173.86 433v1.5M188.96 433v1.5M204.07 433v1.5M219.18 433v1.5M234.29 433v1.5M249.39 433v1.5M264.50 433v1.5M279.61 433v1.5M38.5 433.25h-2.9M38.5 407.26h-2.9M38.5 381.26h-2.9M38.5 355.27h-2.9M38.5 329.28h-2.9M38.5 303.29h-2.9M38.5 277.29h-2.9M38.5 251.30h-2.9M38.5 420.25h-1.5M38.5 394.26h-1.5M38.5 368.27h-1.5M38.5 342.27h-1.5M38.5 316.28h-1.5M38.5 290.29h-1.5M38.5 264.30h-1.5" stroke="#262626" stroke-width="0.8"/>
<text transform="translate(53.00 444.50) scale(1 1.15)" font-size="7.5" text-anchor="middle" fill="#222" stroke="#222" stroke-width="0.22">600</text>
<text transform="translate(83.21 444.50) scale(1 1.15)" font-size="7.5" text-anchor="middle" fill="#222" stroke="#222" stroke-width="0.22">700</text>
<text transform="translate(113.43 444.50) scale(1 1.15)" font-size="7.5" text-anchor="middle" fill="#222" stroke="#222" stroke-width="0.22">800</text>
<text transform="translate(143.64 444.50) scale(1 1.15)" font-size="7.5" text-anchor="middle" fill="#222" stroke="#222" stroke-width="0.22">900</text>
<text transform="translate(173.86 444.50) scale(1 1.15)" font-size="7.5" text-anchor="middle" fill="#222" stroke="#222" stroke-width="0.22">1000</text>
<text transform="translate(204.07 444.50) scale(1 1.15)" font-size="7.5" text-anchor="middle" fill="#222" stroke="#222" stroke-width="0.22">1100</text>
<text transform="translate(234.29 444.50) scale(1 1.15)" font-size="7.5" text-anchor="middle" fill="#222" stroke="#222" stroke-width="0.22">1200</text>
<text transform="translate(264.50 444.50) scale(1 1.15)" font-size="7.5" text-anchor="middle" fill="#222" stroke="#222" stroke-width="0.22">1300</text>
<text transform="translate(32.90 436.31) scale(1 1.15)" font-size="7.5" text-anchor="end" fill="#222" stroke="#222" stroke-width="0.22">0</text>
<text transform="translate(32.90 410.32) scale(1 1.15)" font-size="7.5" text-anchor="end" fill="#222" stroke="#222" stroke-width="0.22">100</text>
<text transform="translate(32.90 384.33) scale(1 1.15)" font-size="7.5" text-anchor="end" fill="#222" stroke="#222" stroke-width="0.22">200</text>
<text transform="translate(32.90 358.33) scale(1 1.15)" font-size="7.5" text-anchor="end" fill="#222" stroke="#222" stroke-width="0.22">300</text>
<text transform="translate(32.90 332.34) scale(1 1.15)" font-size="7.5" text-anchor="end" fill="#222" stroke="#222" stroke-width="0.22">400</text>
<text transform="translate(32.90 306.35) scale(1 1.15)" font-size="7.5" text-anchor="end" fill="#222" stroke="#222" stroke-width="0.22">500</text>
<text transform="translate(32.90 280.35) scale(1 1.15)" font-size="7.5" text-anchor="end" fill="#222" stroke="#222" stroke-width="0.22">600</text>
<text transform="translate(32.90 254.36) scale(1 1.15)" font-size="7.5" text-anchor="end" fill="#222" stroke="#222" stroke-width="0.22">700</text>
<text x="159.20" y="460.60" font-size="9.4" font-weight="bold" text-anchor="middle" fill="#111">Voltage (V)</text>
<text transform="translate(13.60 342.40) rotate(-90)" font-size="9.26" font-weight="bold" text-anchor="middle" fill="#111">Fall Time (µs)</text>
<text x="158.90" y="482.70" style="font-family:&quot;Liberation Serif&quot;,serif" font-size="15.6" text-anchor="middle" fill="#111">(c)</text>
<rect x="92.5" y="410" width="147" height="20.5" fill="#ffffc8" stroke="#c4c4b0" stroke-width="0.6"/>
<line x1="92.5" y1="410" x2="85.6" y2="344" stroke="#333" stroke-width="0.6"/>
<path d="M84.6 346.6L85.7 343.6L86.9 346.6Z" fill="#111"/>
<path d="M98.32 415.57L100.59 416.21L102.85 416.82L105.12 417.40L107.39 417.95L109.65 418.47L111.92 418.97L114.18 419.45L116.45 419.90L118.72 420.33L120.98 420.74L123.25 421.13L125.51 421.50L127.78 421.85L130.05 422.19L132.31 422.51L134.58 422.81L136.84 423.10L139.11 423.38L141.38 423.64L143.64 423.89L145.91 424.13L148.18 424.36L150.44 424.57L152.71 424.78L154.97 424.97L157.24 425.16L159.51 425.34L161.77 425.50L164.04 425.66L166.30 425.82L168.57 425.96L170.84 426.10L173.10 426.23L175.37 426.36L177.63 426.48L179.90 426.59L182.17 426.70L184.43 426.80L186.70 426.90L188.96 426.99L191.23 427.08L193.50 427.16L195.76 427.24L198.03 427.32L200.29 427.39L202.56 427.46L204.83 427.53L207.09 427.59L209.36 427.65L211.62 427.71L213.89 427.76L216.16 427.81L218.42 427.86L220.69 427.91L222.96 427.95L225.22 428.00L227.49 428.04L229.75 428.07L232.02 428.11L234.29 428.15" fill="none" stroke="#ff0000" stroke-width="0.6"/>
<path d="M98.32 415.70L100.59 416.36L102.85 416.98L105.12 417.58L107.39 418.14L109.65 418.67L111.92 419.18L114.18 419.67L116.45 420.12L118.72 420.56L120.98 420.98L123.25 421.37L125.51 421.75L127.78 422.10L130.05 422.44L132.31 422.76L134.58 423.07L136.84 423.36L139.11 423.64L141.38 423.90L143.64 424.15L145.91 424.39L148.18 424.62L150.44 424.83L152.71 425.04L154.97 425.23L157.24 425.41L159.51 425.59L161.77 425.76L164.04 425.91L166.30 426.06L168.57 426.21L170.84 426.34L173.10 426.47L175.37 426.60L177.63 426.71L179.90 426.82L182.17 426.93L184.43 427.03L186.70 427.13L188.96 427.22L191.23 427.30L193.50 427.39L195.76 427.46L198.03 427.54L200.29 427.61L202.56 427.67L204.83 427.74L207.09 427.80L209.36 427.86L211.62 427.91L213.89 427.96L216.16 428.01L218.42 428.06L220.69 428.10L222.96 428.15L225.22 428.19L227.49 428.22L229.75 428.26L232.02 428.30L234.29 428.33" fill="none" stroke="#22dd22" stroke-width="0.6"/>
<rect x="51.22" y="317.62" width="3.57" height="3.57" fill="#000"/>
<rect x="66.32" y="351.67" width="3.57" height="3.57" fill="#000"/>
<rect x="81.43" y="402.87" width="3.57" height="3.57" fill="#000"/>
<rect x="96.54" y="414.34" width="3.57" height="3.57" fill="#000"/>
<rect x="111.64" y="418.36" width="3.57" height="3.57" fill="#000"/>
<rect x="126.75" y="421.22" width="3.57" height="3.57" fill="#000"/>
<rect x="141.86" y="422.73" width="3.57" height="3.57" fill="#000"/>
<rect x="156.97" y="423.49" width="3.57" height="3.57" fill="#000"/>
<rect x="172.07" y="424.24" width="3.57" height="3.57" fill="#000"/>
<rect x="187.18" y="425.15" width="3.57" height="3.57" fill="#000"/>
<rect x="202.29" y="425.75" width="3.57" height="3.57" fill="#000"/>
<rect x="217.39" y="426.16" width="3.57" height="3.57" fill="#000"/>
<rect x="232.50" y="426.32" width="3.57" height="3.57" fill="#000"/>
<path d="M53.00 316.41L55.34 320.36L50.66 320.36Z" fill="#000"/>
<path d="M68.11 368.92L70.45 372.87L65.76 372.87Z" fill="#000"/>
<path d="M83.21 401.67L85.56 405.62L80.87 405.62Z" fill="#000"/>
<path d="M98.32 412.17L100.67 416.12L95.98 416.12Z" fill="#000"/>
<path d="M113.43 417.01L115.77 420.95L111.08 420.95Z" fill="#000"/>
<path d="M128.54 419.74L130.88 423.68L126.19 423.68Z" fill="#000"/>
<path d="M143.64 421.56L145.99 425.50L141.30 425.50Z" fill="#000"/>
<path d="M158.75 422.72L161.09 426.67L156.41 426.67Z" fill="#000"/>
<path d="M173.86 423.50L176.20 427.45L171.51 427.45Z" fill="#000"/>
<path d="M188.96 424.28L191.31 428.23L186.62 428.23Z" fill="#000"/>
<path d="M204.07 424.80L206.42 428.75L201.73 428.75Z" fill="#000"/>
<path d="M219.18 425.19L221.52 429.14L216.83 429.14Z" fill="#000"/>
<path d="M234.29 425.45L236.63 429.40L231.94 429.40Z" fill="#000"/>
<circle cx="53.00" cy="318.88" r="1.99" fill="#000"/>
<circle cx="68.11" cy="362.55" r="1.99" fill="#000"/>
<circle cx="83.21" cy="405.18" r="1.99" fill="#000"/>
<circle cx="98.32" cy="414.33" r="1.99" fill="#000"/>
<circle cx="113.43" cy="419.73" r="1.99" fill="#000"/>
<circle cx="128.54" cy="422.33" r="1.99" fill="#000"/>
<circle cx="143.64" cy="424.02" r="1.99" fill="#000"/>
<circle cx="158.75" cy="425.19" r="1.99" fill="#000"/>
<circle cx="173.86" cy="425.97" r="1.99" fill="#000"/>
<circle cx="188.96" cy="426.75" r="1.99" fill="#000"/>
<circle cx="204.07" cy="427.27" r="1.99" fill="#000"/>
<circle cx="219.18" cy="427.66" r="1.99" fill="#000"/>
<circle cx="234.29" cy="427.92" r="1.99" fill="#000"/>
<rect x="51.22" y="317.62" width="3.57" height="3.57" fill="#ff0000"/>
<rect x="66.32" y="355.83" width="3.57" height="3.57" fill="#ff0000"/>
<rect x="81.43" y="402.87" width="3.57" height="3.57" fill="#ff0000"/>
<rect x="96.54" y="411.06" width="3.57" height="3.57" fill="#ff0000"/>
<rect x="111.64" y="417.43" width="3.57" height="3.57" fill="#ff0000"/>
<rect x="126.75" y="420.47" width="3.57" height="3.57" fill="#ff0000"/>
<rect x="141.86" y="422.13" width="3.57" height="3.57" fill="#ff0000"/>
<rect x="156.97" y="423.28" width="3.57" height="3.57" fill="#ff0000"/>
<rect x="172.07" y="423.90" width="3.57" height="3.57" fill="#ff0000"/>
<rect x="187.18" y="424.97" width="3.57" height="3.57" fill="#ff0000"/>
<rect x="202.29" y="425.49" width="3.57" height="3.57" fill="#ff0000"/>
<rect x="217.39" y="426.01" width="3.57" height="3.57" fill="#ff0000"/>
<rect x="232.50" y="426.32" width="3.57" height="3.57" fill="#ff0000"/>
<path d="M53.00 316.93L55.34 320.88L50.66 320.88Z" fill="#ff0000"/>
<path d="M68.11 350.98L70.45 354.93L65.76 354.93Z" fill="#ff0000"/>
<path d="M83.21 401.67L85.56 405.62L80.87 405.62Z" fill="#ff0000"/>
<path d="M98.32 411.91L100.67 415.86L95.98 415.86Z" fill="#ff0000"/>
<path d="M113.43 416.75L115.77 420.69L111.08 420.69Z" fill="#ff0000"/>
<path d="M128.54 419.79L130.88 423.74L126.19 423.74Z" fill="#ff0000"/>
<path d="M143.64 421.45L145.99 425.40L141.30 425.40Z" fill="#ff0000"/>
<path d="M158.75 422.59L161.09 426.54L156.41 426.54Z" fill="#ff0000"/>
<path d="M173.86 423.22L176.20 427.17L171.51 427.17Z" fill="#ff0000"/>
<path d="M188.96 424.28L191.31 428.23L186.62 428.23Z" fill="#ff0000"/>
<path d="M204.07 424.80L206.42 428.75L201.73 428.75Z" fill="#ff0000"/>
<path d="M219.18 425.32L221.52 429.27L216.83 429.27Z" fill="#ff0000"/>
<path d="M234.29 425.64L236.63 429.58L231.94 429.58Z" fill="#ff0000"/>
<circle cx="53.00" cy="294.19" r="1.99" fill="#ff0000"/>
<circle cx="68.11" cy="350.59" r="1.99" fill="#ff0000"/>
<circle cx="83.21" cy="406.74" r="1.99" fill="#ff0000"/>
<circle cx="98.32" cy="415.13" r="1.99" fill="#ff0000"/>
<circle cx="113.43" cy="419.29" r="1.99" fill="#ff0000"/>
<circle cx="128.54" cy="422.26" r="1.99" fill="#ff0000"/>
<circle cx="143.64" cy="423.92" r="1.99" fill="#ff0000"/>
<circle cx="158.75" cy="425.06" r="1.99" fill="#ff0000"/>
<circle cx="173.86" cy="425.69" r="1.99" fill="#ff0000"/>
<circle cx="188.96" cy="426.75" r="1.99" fill="#ff0000"/>
<circle cx="204.07" cy="427.27" r="1.99" fill="#ff0000"/>
<circle cx="219.18" cy="427.79" r="1.99" fill="#ff0000"/>
<circle cx="234.29" cy="428.10" r="1.99" fill="#ff0000"/>
<rect x="51.22" y="316.58" width="3.57" height="3.57" fill="#00ee00"/>
<rect x="66.32" y="341.27" width="3.57" height="3.57" fill="#00ee00"/>
<rect x="81.43" y="400.79" width="3.57" height="3.57" fill="#00ee00"/>
<rect x="96.54" y="410.93" width="3.57" height="3.57" fill="#00ee00"/>
<rect x="111.64" y="416.52" width="3.57" height="3.57" fill="#00ee00"/>
<rect x="126.75" y="419.77" width="3.57" height="3.57" fill="#00ee00"/>
<rect x="141.86" y="421.87" width="3.57" height="3.57" fill="#00ee00"/>
<rect x="156.97" y="423.15" width="3.57" height="3.57" fill="#00ee00"/>
<rect x="172.07" y="424.24" width="3.57" height="3.57" fill="#00ee00"/>
<rect x="187.18" y="424.81" width="3.57" height="3.57" fill="#00ee00"/>
<rect x="202.29" y="425.30" width="3.57" height="3.57" fill="#00ee00"/>
<rect x="217.39" y="425.80" width="3.57" height="3.57" fill="#00ee00"/>
<path d="M53.00 313.81L55.34 317.76L50.66 317.76Z" fill="#00ee00"/>
<path d="M68.11 341.37L70.45 345.32L65.76 345.32Z" fill="#00ee00"/>
<path d="M83.21 397.51L85.56 401.46L80.87 401.46Z" fill="#00ee00"/>
<path d="M98.32 410.64L100.67 414.59L95.98 414.59Z" fill="#00ee00"/>
<path d="M113.43 416.28L115.77 420.23L111.08 420.23Z" fill="#00ee00"/>
<path d="M128.54 419.42L130.88 423.37L126.19 423.37Z" fill="#00ee00"/>
<path d="M143.64 421.69L145.99 425.63L141.30 425.63Z" fill="#00ee00"/>
<path d="M158.75 422.80L161.09 426.75L156.41 426.75Z" fill="#00ee00"/>
<path d="M173.86 423.63L176.20 427.58L171.51 427.58Z" fill="#00ee00"/>
<path d="M188.96 424.47L191.31 428.41L186.62 428.41Z" fill="#00ee00"/>
<path d="M204.07 425.06L206.42 429.01L201.73 429.01Z" fill="#00ee00"/>
<path d="M219.18 425.48L221.52 429.43L216.83 429.43Z" fill="#00ee00"/>
<circle cx="53.00" cy="286.39" r="1.99" fill="#00ee00"/>
<circle cx="68.11" cy="342.27" r="1.99" fill="#00ee00"/>
<circle cx="83.21" cy="400.76" r="1.99" fill="#00ee00"/>
<circle cx="98.32" cy="415.13" r="1.99" fill="#00ee00"/>
<circle cx="113.43" cy="419.92" r="1.99" fill="#00ee00"/>
<circle cx="128.54" cy="422.77" r="1.99" fill="#00ee00"/>
<circle cx="143.64" cy="424.52" r="1.99" fill="#00ee00"/>
<circle cx="158.75" cy="425.27" r="1.99" fill="#00ee00"/>
<circle cx="173.86" cy="426.02" r="1.99" fill="#00ee00"/>
<circle cx="188.96" cy="426.93" r="1.99" fill="#00ee00"/>
<circle cx="204.07" cy="427.53" r="1.99" fill="#00ee00"/>
<circle cx="219.18" cy="427.95" r="1.99" fill="#00ee00"/>
<rect x="85.5" y="253.1" width="120.80000000000001" height="90.4" fill="#ffff80" stroke="#262626" stroke-width="0.8"/>
<path d="M102.80 343.5v3.3M127.53 343.5v3.3M152.25 343.5v3.3M176.97 343.5v3.3M201.70 343.5v3.3M90.44 343.5v1.7M115.16 343.5v1.7M139.89 343.5v1.7M164.61 343.5v1.7M189.34 343.5v1.7M85.5 332.30h-3.3M85.5 320.33h-3.3M85.5 308.37h-3.3M85.5 296.40h-3.3M85.5 284.43h-3.3M85.5 272.47h-3.3M85.5 260.50h-3.3M85.5 338.28h-1.7M85.5 326.32h-1.7M85.5 314.35h-1.7M85.5 302.38h-1.7M85.5 290.42h-1.7M85.5 278.45h-1.7M85.5 266.48h-1.7M85.5 254.52h-1.7" stroke="#262626" stroke-width="0.7"/>
<text x="102.80" y="355.00" font-size="6.3" text-anchor="middle" fill="#222">800</text>
<text x="127.53" y="355.00" font-size="6.3" text-anchor="middle" fill="#222">900</text>
<text x="152.25" y="355.00" font-size="6.3" text-anchor="middle" fill="#222">1000</text>
<text x="176.97" y="355.00" font-size="6.3" text-anchor="middle" fill="#222">1100</text>
<text x="201.70" y="355.00" font-size="6.3" text-anchor="middle" fill="#222">1200</text>
<text x="79.70" y="334.54" font-size="6.3" text-anchor="end" fill="#222">20</text>
<text x="79.70" y="322.57" font-size="6.3" text-anchor="end" fill="#222">30</text>
<text x="79.70" y="310.60" font-size="6.3" text-anchor="end" fill="#222">40</text>
<text x="79.70" y="298.64" font-size="6.3" text-anchor="end" fill="#222">50</text>
<text x="79.70" y="286.67" font-size="6.3" text-anchor="end" fill="#222">60</text>
<text x="79.70" y="274.70" font-size="6.3" text-anchor="end" fill="#222">70</text>
<text x="79.70" y="262.74" font-size="6.3" text-anchor="end" fill="#222">80</text>
<path d="M90.44 276.65L92.29 279.48L94.15 282.17L96.00 284.74L97.86 287.18L99.71 289.51L101.56 291.73L103.42 293.84L105.27 295.86L107.13 297.78L108.98 299.60L110.84 301.35L112.69 303.01L114.54 304.59L116.40 306.09L118.25 307.53L120.11 308.90L121.96 310.20L123.82 311.44L125.67 312.62L127.53 313.75L129.38 314.83L131.23 315.85L133.09 316.82L134.94 317.75L136.80 318.64L138.65 319.48L140.51 320.28L142.36 321.05L144.21 321.78L146.07 322.47L147.92 323.13L149.78 323.77L151.63 324.37L153.49 324.94L155.34 325.48L157.19 326.00L159.05 326.50L160.90 326.97L162.76 327.42L164.61 327.85L166.47 328.26L168.32 328.65L170.18 329.02L172.03 329.37L173.88 329.70L175.74 330.03L177.59 330.33L179.45 330.62L181.30 330.90L183.16 331.16L185.01 331.41L186.87 331.65L188.72 331.88L190.57 332.10L192.43 332.31L194.28 332.50L196.14 332.69L197.99 332.87L199.85 333.04L201.70 333.21" fill="none" stroke="#444" stroke-width="0.6"/>
<path d="M90.44 274.86L92.29 277.80L94.15 280.60L96.00 283.26L97.86 285.80L99.71 288.21L101.56 290.51L103.42 292.69L105.27 294.77L107.13 296.75L108.98 298.64L110.84 300.43L112.69 302.14L114.54 303.77L116.40 305.31L118.25 306.79L120.11 308.19L121.96 309.52L123.82 310.79L125.67 312.00L127.53 313.15L129.38 314.25L131.23 315.29L133.09 316.28L134.94 317.23L136.80 318.13L138.65 318.98L140.51 319.80L142.36 320.57L144.21 321.31L146.07 322.01L147.92 322.68L149.78 323.32L151.63 323.92L153.49 324.50L155.34 325.05L157.19 325.57L159.05 326.07L160.90 326.54L162.76 326.99L164.61 327.42L166.47 327.83L168.32 328.22L170.18 328.59L172.03 328.94L173.88 329.27L175.74 329.59L177.59 329.89L179.45 330.18L181.30 330.46L183.16 330.72L185.01 330.97L186.87 331.21L188.72 331.43L190.57 331.65L192.43 331.85L194.28 332.05L196.14 332.23L197.99 332.41L199.85 332.57L201.70 332.73" fill="none" stroke="#e03000" stroke-width="0.7"/>
<path d="M90.44 275.46L92.29 278.48L94.15 281.34L96.00 284.07L97.86 286.66L99.71 289.12L101.56 291.47L103.42 293.69L105.27 295.81L107.13 297.82L108.98 299.73L110.84 301.55L112.69 303.28L114.54 304.92L116.40 306.48L118.25 307.96L120.11 309.37L121.96 310.71L123.82 311.99L125.67 313.20L127.53 314.35L129.38 315.44L131.23 316.48L133.09 317.47L134.94 318.41L136.80 319.31L138.65 320.16L140.51 320.96L142.36 321.73L144.21 322.46L146.07 323.15L147.92 323.81L149.78 324.44L151.63 325.04L153.49 325.60L155.34 326.14L157.19 326.65L159.05 327.14L160.90 327.60L162.76 328.04L164.61 328.46L166.47 328.85L168.32 329.23L170.18 329.59L172.03 329.93L173.88 330.26L175.74 330.56L177.59 330.86L179.45 331.14L181.30 331.40L183.16 331.65L185.01 331.89L186.87 332.12L188.72 332.33L190.57 332.54L192.43 332.73L194.28 332.92L196.14 333.10L197.99 333.26L199.85 333.42L201.70 333.58" fill="none" stroke="#22cc22" stroke-width="0.7"/>
<rect x="88.74" y="275.67" width="3.40" height="3.40" fill="#000"/>
<rect x="101.10" y="294.22" width="3.40" height="3.40" fill="#000"/>
<rect x="113.46" y="307.38" width="3.40" height="3.40" fill="#000"/>
<rect x="125.83" y="314.33" width="3.40" height="3.40" fill="#000"/>
<rect x="138.19" y="317.80" width="3.40" height="3.40" fill="#000"/>
<rect x="150.55" y="321.27" width="3.40" height="3.40" fill="#000"/>
<rect x="162.91" y="325.45" width="3.40" height="3.40" fill="#000"/>
<rect x="175.28" y="328.21" width="3.40" height="3.40" fill="#000"/>
<rect x="187.64" y="330.12" width="3.40" height="3.40" fill="#000"/>
<rect x="200.00" y="330.84" width="3.40" height="3.40" fill="#000"/>
<path d="M90.44 268.20L92.67 271.96L88.20 271.96Z" fill="#000"/>
<path d="M102.80 290.46L105.03 294.22L100.57 294.22Z" fill="#000"/>
<path d="M115.16 303.02L117.39 306.79L112.93 306.79Z" fill="#000"/>
<path d="M127.53 311.40L129.76 315.16L125.29 315.16Z" fill="#000"/>
<path d="M139.89 316.79L142.12 320.55L137.66 320.55Z" fill="#000"/>
<path d="M152.25 320.38L154.48 324.14L150.02 324.14Z" fill="#000"/>
<path d="M164.61 323.97L166.84 327.73L162.38 327.73Z" fill="#000"/>
<path d="M176.97 326.36L179.21 330.12L174.74 330.12Z" fill="#000"/>
<path d="M189.34 328.15L191.57 331.92L187.10 331.92Z" fill="#000"/>
<path d="M201.70 329.35L203.93 333.11L199.47 333.11Z" fill="#000"/>
<circle cx="90.44" cy="269.12" r="1.90" fill="#000"/>
<circle cx="102.80" cy="294.01" r="1.90" fill="#000"/>
<circle cx="115.16" cy="305.97" r="1.90" fill="#000"/>
<circle cx="127.53" cy="313.75" r="1.90" fill="#000"/>
<circle cx="139.89" cy="319.14" r="1.90" fill="#000"/>
<circle cx="152.25" cy="322.73" r="1.90" fill="#000"/>
<circle cx="164.61" cy="326.32" r="1.90" fill="#000"/>
<circle cx="176.97" cy="328.71" r="1.90" fill="#000"/>
<circle cx="189.34" cy="330.50" r="1.90" fill="#000"/>
<circle cx="201.70" cy="331.70" r="1.90" fill="#000"/>
<rect x="88.74" y="260.59" width="3.40" height="3.40" fill="#ff0000"/>
<rect x="101.10" y="289.91" width="3.40" height="3.40" fill="#ff0000"/>
<rect x="113.46" y="303.91" width="3.40" height="3.40" fill="#ff0000"/>
<rect x="125.83" y="311.57" width="3.40" height="3.40" fill="#ff0000"/>
<rect x="138.19" y="316.84" width="3.40" height="3.40" fill="#ff0000"/>
<rect x="150.55" y="319.71" width="3.40" height="3.40" fill="#ff0000"/>
<rect x="162.91" y="324.62" width="3.40" height="3.40" fill="#ff0000"/>
<rect x="175.28" y="327.01" width="3.40" height="3.40" fill="#ff0000"/>
<rect x="187.64" y="329.40" width="3.40" height="3.40" fill="#ff0000"/>
<rect x="200.00" y="330.84" width="3.40" height="3.40" fill="#ff0000"/>
<path d="M90.44 267.01L92.67 270.77L88.20 270.77Z" fill="#ff0000"/>
<path d="M102.80 289.26L105.03 293.02L100.57 293.02Z" fill="#ff0000"/>
<path d="M115.16 303.26L117.39 307.02L112.93 307.02Z" fill="#ff0000"/>
<path d="M127.53 310.92L129.76 314.68L125.29 314.68Z" fill="#ff0000"/>
<path d="M139.89 316.19L142.12 319.95L137.66 319.95Z" fill="#ff0000"/>
<path d="M152.25 319.06L154.48 322.82L150.02 322.82Z" fill="#ff0000"/>
<path d="M164.61 323.97L166.84 327.73L162.38 327.73Z" fill="#ff0000"/>
<path d="M176.97 326.36L179.21 330.12L174.74 330.12Z" fill="#ff0000"/>
<path d="M189.34 328.75L191.57 332.51L187.10 332.51Z" fill="#ff0000"/>
<path d="M201.70 330.19L203.93 333.95L199.47 333.95Z" fill="#ff0000"/>
<circle cx="90.44" cy="272.83" r="1.90" fill="#ff0000"/>
<circle cx="102.80" cy="291.97" r="1.90" fill="#ff0000"/>
<circle cx="115.16" cy="305.61" r="1.90" fill="#ff0000"/>
<circle cx="127.53" cy="313.27" r="1.90" fill="#ff0000"/>
<circle cx="139.89" cy="318.54" r="1.90" fill="#ff0000"/>
<circle cx="152.25" cy="321.41" r="1.90" fill="#ff0000"/>
<circle cx="164.61" cy="326.32" r="1.90" fill="#ff0000"/>
<circle cx="176.97" cy="328.71" r="1.90" fill="#ff0000"/>
<circle cx="189.34" cy="331.10" r="1.90" fill="#ff0000"/>
<circle cx="201.70" cy="332.54" r="1.90" fill="#ff0000"/>
<rect x="88.74" y="260.00" width="3.40" height="3.40" fill="#00ee00"/>
<rect x="101.10" y="285.73" width="3.40" height="3.40" fill="#00ee00"/>
<rect x="113.46" y="300.68" width="3.40" height="3.40" fill="#00ee00"/>
<rect x="125.83" y="310.38" width="3.40" height="3.40" fill="#00ee00"/>
<rect x="138.19" y="316.24" width="3.40" height="3.40" fill="#00ee00"/>
<rect x="150.55" y="321.27" width="3.40" height="3.40" fill="#00ee00"/>
<rect x="162.91" y="323.90" width="3.40" height="3.40" fill="#00ee00"/>
<rect x="175.28" y="326.17" width="3.40" height="3.40" fill="#00ee00"/>
<rect x="187.64" y="328.45" width="3.40" height="3.40" fill="#00ee00"/>
<path d="M90.44 261.14L92.67 264.90L88.20 264.90Z" fill="#00ee00"/>
<path d="M102.80 287.11L105.03 290.87L100.57 290.87Z" fill="#00ee00"/>
<path d="M115.16 301.59L117.39 305.35L112.93 305.35Z" fill="#00ee00"/>
<path d="M127.53 312.00L129.76 315.76L125.29 315.76Z" fill="#00ee00"/>
<path d="M139.89 317.15L142.12 320.91L137.66 320.91Z" fill="#00ee00"/>
<path d="M152.25 320.97L154.48 324.74L150.02 324.74Z" fill="#00ee00"/>
<path d="M164.61 324.80L166.84 328.56L162.38 328.56Z" fill="#00ee00"/>
<path d="M176.97 327.56L179.21 331.32L174.74 331.32Z" fill="#00ee00"/>
<path d="M189.34 329.47L191.57 333.23L187.10 333.23Z" fill="#00ee00"/>
<circle cx="90.44" cy="272.83" r="1.90" fill="#00ee00"/>
<circle cx="102.80" cy="294.84" r="1.90" fill="#00ee00"/>
<circle cx="115.16" cy="308.01" r="1.90" fill="#00ee00"/>
<circle cx="127.53" cy="316.03" r="1.90" fill="#00ee00"/>
<circle cx="139.89" cy="319.50" r="1.90" fill="#00ee00"/>
<circle cx="152.25" cy="322.97" r="1.90" fill="#00ee00"/>
<circle cx="164.61" cy="327.15" r="1.90" fill="#00ee00"/>
<circle cx="176.97" cy="329.91" r="1.90" fill="#00ee00"/>
<circle cx="189.34" cy="331.82" r="1.90" fill="#00ee00"/>
<rect x="213.25" y="257" width="84.5" height="82.5" fill="#fff" stroke="#555" stroke-width="0.6"/>
<rect x="218.55" y="259.05" width="3.40" height="3.40" fill="#000"/>
<text x="228.25" y="262.77" font-size="5.6" fill="#000" stroke="#000" stroke-width="0.12"><tspan font-size="3.08" dy="-1.57">204</tspan><tspan dy="1.57">Tl S1</tspan></text>
<circle cx="220.25" cy="267.55" r="1.90" fill="#000"/>
<text x="228.25" y="269.56" font-size="5.6" fill="#000" stroke="#000" stroke-width="0.12"><tspan font-size="3.08" dy="-1.57">204</tspan><tspan dy="1.57">Tl S12</tspan></text>
<path d="M220.25 271.99L222.48 275.75L218.02 275.75Z" fill="#000"/>
<text x="228.25" y="276.36" font-size="5.6" fill="#000" stroke="#000" stroke-width="0.12"><tspan font-size="3.08" dy="-1.57">204</tspan><tspan dy="1.57">Tl S2</tspan></text>
<rect x="218.55" y="279.44" width="3.40" height="3.40" fill="#ff0000"/>
<text x="228.25" y="283.15" font-size="5.6" fill="#000" stroke="#000" stroke-width="0.12"><tspan font-size="3.08" dy="-1.57">137</tspan><tspan dy="1.57">Cs S1</tspan></text>
<circle cx="220.25" cy="287.93" r="1.90" fill="#ff0000"/>
<text x="228.25" y="289.95" font-size="5.6" fill="#000" stroke="#000" stroke-width="0.12"><tspan font-size="3.08" dy="-1.57">137</tspan><tspan dy="1.57">Cs S12</tspan></text>
<path d="M220.25 292.38L222.48 296.14L218.02 296.14Z" fill="#ff0000"/>
<text x="228.25" y="296.74" font-size="5.6" fill="#000" stroke="#000" stroke-width="0.12"><tspan font-size="3.08" dy="-1.57">137</tspan><tspan dy="1.57">Cs S2</tspan></text>
<rect x="218.55" y="299.82" width="3.40" height="3.40" fill="#00ee00"/>
<text x="228.25" y="303.54" font-size="5.6" fill="#000" stroke="#000" stroke-width="0.12"><tspan font-size="3.08" dy="-1.57">22</tspan><tspan dy="1.57">Na S1</tspan></text>
<circle cx="220.25" cy="308.32" r="1.90" fill="#00ee00"/>
<text x="228.25" y="310.33" font-size="5.6" fill="#000" stroke="#000" stroke-width="0.12"><tspan font-size="3.08" dy="-1.57">22</tspan><tspan dy="1.57">Na S12</tspan></text>
<path d="M220.25 312.76L222.48 316.52L218.02 316.52Z" fill="#00ee00"/>
<text x="228.25" y="317.13" font-size="5.6" fill="#000" stroke="#000" stroke-width="0.12"><tspan font-size="3.08" dy="-1.57">22</tspan><tspan dy="1.57">Na S2</tspan></text>
<line x1="215" y1="321.91" x2="226" y2="321.91" stroke="#777" stroke-width="0.6"/>
<text x="228.5" y="323.93" font-size="5.6" fill="#000" stroke="#000" stroke-width="0.1">Fit Curve <tspan font-size="3.08" dy="-1.57">204</tspan><tspan dy="1.57">Tl (R</tspan><tspan font-size="3.08" dy="-1.57">2</tspan><tspan dy="1.57"> =0.9965)</tspan></text>
<line x1="215" y1="328.70" x2="226" y2="328.70" stroke="#ff0000" stroke-width="0.6"/>
<text x="228.5" y="330.72" font-size="5.6" fill="#000" stroke="#000" stroke-width="0.1">Fit Curve <tspan font-size="3.08" dy="-1.57">137</tspan><tspan dy="1.57">Cs (R</tspan><tspan font-size="3.08" dy="-1.57">2</tspan><tspan dy="1.57"> =0.9927)</tspan></text>
<line x1="215" y1="335.50" x2="226" y2="335.50" stroke="#33dd33" stroke-width="0.6"/>
<text x="228.5" y="337.52" font-size="5.6" fill="#000" stroke="#000" stroke-width="0.1">Fit Curve <tspan font-size="3.08" dy="-1.57">22</tspan><tspan dy="1.57">Na (R</tspan><tspan font-size="3.08" dy="-1.57">2</tspan><tspan dy="1.57"> =0.9966)</tspan></text>
<path d="M366.5 244V433.7H567.5" fill="none" stroke="#262626" stroke-width="1"/>
<path d="M380.75 433.7v3.6M409.38 433.7v3.6M438.00 433.7v3.6M466.62 433.7v3.6M495.25 433.7v3.6M523.88 433.7v3.6M552.50 433.7v3.6M366.44 433.7v2.1M380.75 433.7v2.1M395.06 433.7v2.1M409.38 433.7v2.1M423.69 433.7v2.1M438.00 433.7v2.1M452.31 433.7v2.1M466.62 433.7v2.1M480.94 433.7v2.1M495.25 433.7v2.1M509.56 433.7v2.1M523.88 433.7v2.1M538.19 433.7v2.1M552.50 433.7v2.1M566.81 433.7v2.1M366.5 433.50h-3.6M366.5 417.75h-3.6M366.5 402.00h-3.6M366.5 386.25h-3.6M366.5 370.50h-3.6M366.5 354.75h-3.6M366.5 339.00h-3.6M366.5 323.25h-3.6M366.5 307.50h-3.6M366.5 291.75h-3.6M366.5 276.00h-3.6M366.5 260.25h-3.6M366.5 244.50h-3.6M366.5 425.62h-2.1M366.5 409.88h-2.1M366.5 394.12h-2.1M366.5 378.38h-2.1M366.5 362.62h-2.1M366.5 346.88h-2.1M366.5 331.12h-2.1M366.5 315.38h-2.1M366.5 299.62h-2.1M366.5 283.88h-2.1M366.5 268.12h-2.1M366.5 252.38h-2.1" stroke="#262626" stroke-width="0.8"/>
<text transform="translate(380.75 446.00) scale(1 1.15)" font-size="7.8" text-anchor="middle" fill="#222" stroke="#222" stroke-width="0.22">600</text>
<text transform="translate(409.38 446.00) scale(1 1.15)" font-size="7.8" text-anchor="middle" fill="#222" stroke="#222" stroke-width="0.22">700</text>
<text transform="translate(438.00 446.00) scale(1 1.15)" font-size="7.8" text-anchor="middle" fill="#222" stroke="#222" stroke-width="0.22">800</text>
<text transform="translate(466.62 446.00) scale(1 1.15)" font-size="7.8" text-anchor="middle" fill="#222" stroke="#222" stroke-width="0.22">900</text>
<text transform="translate(495.25 446.00) scale(1 1.15)" font-size="7.8" text-anchor="middle" fill="#222" stroke="#222" stroke-width="0.22">1000</text>
<text transform="translate(523.88 446.00) scale(1 1.15)" font-size="7.8" text-anchor="middle" fill="#222" stroke="#222" stroke-width="0.22">1100</text>
<text transform="translate(552.50 446.00) scale(1 1.15)" font-size="7.8" text-anchor="middle" fill="#222" stroke="#222" stroke-width="0.22">1200</text>
<text transform="translate(359.50 436.68) scale(1 1.15)" font-size="7.8" text-anchor="end" fill="#222" stroke="#222" stroke-width="0.22">12</text>
<text transform="translate(359.50 420.93) scale(1 1.15)" font-size="7.8" text-anchor="end" fill="#222" stroke="#222" stroke-width="0.22">13</text>
<text transform="translate(359.50 405.18) scale(1 1.15)" font-size="7.8" text-anchor="end" fill="#222" stroke="#222" stroke-width="0.22">14</text>
<text transform="translate(359.50 389.43) scale(1 1.15)" font-size="7.8" text-anchor="end" fill="#222" stroke="#222" stroke-width="0.22">15</text>
<text transform="translate(359.50 373.68) scale(1 1.15)" font-size="7.8" text-anchor="end" fill="#222" stroke="#222" stroke-width="0.22">16</text>
<text transform="translate(359.50 357.93) scale(1 1.15)" font-size="7.8" text-anchor="end" fill="#222" stroke="#222" stroke-width="0.22">17</text>
<text transform="translate(359.50 342.18) scale(1 1.15)" font-size="7.8" text-anchor="end" fill="#222" stroke="#222" stroke-width="0.22">18</text>
<text transform="translate(359.50 326.43) scale(1 1.15)" font-size="7.8" text-anchor="end" fill="#222" stroke="#222" stroke-width="0.22">19</text>
<text transform="translate(359.50 310.68) scale(1 1.15)" font-size="7.8" text-anchor="end" fill="#222" stroke="#222" stroke-width="0.22">20</text>
<text transform="translate(359.50 294.93) scale(1 1.15)" font-size="7.8" text-anchor="end" fill="#222" stroke="#222" stroke-width="0.22">21</text>
<text transform="translate(359.50 279.18) scale(1 1.15)" font-size="7.8" text-anchor="end" fill="#222" stroke="#222" stroke-width="0.22">22</text>
<text transform="translate(359.50 263.43) scale(1 1.15)" font-size="7.8" text-anchor="end" fill="#222" stroke="#222" stroke-width="0.22">23</text>
<text transform="translate(359.50 247.68) scale(1 1.15)" font-size="7.8" text-anchor="end" fill="#222" stroke="#222" stroke-width="0.22">24</text>
<text x="466.60" y="463.60" font-size="10.3" font-weight="bold" text-anchor="middle" fill="#111">Voltage (V)</text>
<text transform="translate(344.20 338.90) rotate(-90)" font-size="10.2" font-weight="bold" text-anchor="middle" fill="#111">Amplitude (V)</text>
<text x="454.20" y="484.80" style="font-family:&quot;Liberation Serif&quot;,serif" font-size="15.6" text-anchor="middle" fill="#111">(d)</text>
<path d="M380.75 389.40L395.06 301.20L409.38 295.69L423.69 293.33L438.00 290.96L452.31 289.39L466.62 288.91L480.94 288.60L495.25 291.75L509.56 292.54L523.88 294.11L538.19 289.39L552.50 288.60" fill="none" stroke="#666" stroke-width="0.5"/>
<path d="M380.75 381.52L395.06 299.62L409.38 294.90L423.69 297.26L438.00 293.33L452.31 290.17L466.62 289.39L480.94 289.39L495.25 292.54L509.56 293.33L523.88 294.90L538.19 291.75L552.50 291.75" fill="none" stroke="#666" stroke-width="0.5"/>
<path d="M380.75 389.40L395.06 300.41L409.38 294.90L423.69 293.33L438.00 291.75L452.31 291.75L466.62 290.96L480.94 290.17L495.25 292.54L509.56 293.33L523.88 293.33L538.19 293.33L552.50 292.54" fill="none" stroke="#666" stroke-width="0.5"/>
<path d="M380.75 397.27L395.06 298.84L409.38 294.90L423.69 294.90L438.00 294.90L452.31 294.11L466.62 294.11L480.94 292.54L495.25 290.96L509.56 294.11L523.88 294.90L538.19 294.11L552.50 294.90" fill="none" stroke="#f33" stroke-width="0.5"/>
<path d="M380.75 379.95L395.06 298.05L409.38 295.69L423.69 305.14L438.00 305.14L452.31 301.20L466.62 298.84L480.94 293.33L495.25 291.75L509.56 294.90L523.88 294.90L538.19 294.90L552.50 294.90" fill="none" stroke="#f33" stroke-width="0.5"/>
<path d="M380.75 398.06L395.06 298.05L409.38 294.90L423.69 294.90L438.00 294.11L452.31 293.33L466.62 293.33L480.94 292.54L495.25 293.33L509.56 294.90L523.88 294.90L538.19 294.90L552.50 294.11" fill="none" stroke="#f33" stroke-width="0.5"/>
<path d="M380.75 401.21L395.06 299.62L409.38 299.62L423.69 294.90L438.00 293.33L452.31 292.54L466.62 293.33L480.94 295.69L495.25 294.90L509.56 295.69L523.88 294.90L538.19 294.90" fill="none" stroke="#3e3" stroke-width="0.5"/>
<path d="M380.75 375.23L395.06 309.08L409.38 300.41L423.69 305.14L438.00 305.92L452.31 304.35L466.62 305.14L480.94 301.99L495.25 299.62L509.56 298.05L523.88 296.48L538.19 295.69" fill="none" stroke="#3e3" stroke-width="0.5"/>
<path d="M380.75 391.76L395.06 297.26L409.38 299.62L423.69 294.90L438.00 293.33L452.31 293.33L466.62 294.11L480.94 294.90L495.25 295.69L509.56 296.48L523.88 295.69L538.19 294.90" fill="none" stroke="#3e3" stroke-width="0.5"/>
<rect x="378.88" y="387.53" width="3.74" height="3.74" fill="#505050"/>
<rect x="393.19" y="299.33" width="3.74" height="3.74" fill="#505050"/>
<rect x="407.50" y="293.82" width="3.74" height="3.74" fill="#505050"/>
<rect x="421.82" y="291.46" width="3.74" height="3.74" fill="#505050"/>
<rect x="436.13" y="289.09" width="3.74" height="3.74" fill="#505050"/>
<rect x="450.44" y="287.52" width="3.74" height="3.74" fill="#505050"/>
<rect x="464.75" y="287.04" width="3.74" height="3.74" fill="#505050"/>
<rect x="479.07" y="286.73" width="3.74" height="3.74" fill="#505050"/>
<rect x="493.38" y="289.88" width="3.74" height="3.74" fill="#505050"/>
<rect x="507.69" y="290.67" width="3.74" height="3.74" fill="#505050"/>
<rect x="522.00" y="292.24" width="3.74" height="3.74" fill="#505050"/>
<rect x="536.32" y="287.52" width="3.74" height="3.74" fill="#505050"/>
<rect x="550.63" y="286.73" width="3.74" height="3.74" fill="#505050"/>
<circle cx="380.75" cy="381.52" r="2.09" fill="#505050"/>
<circle cx="395.06" cy="299.62" r="2.09" fill="#505050"/>
<circle cx="409.38" cy="294.90" r="2.09" fill="#505050"/>
<circle cx="423.69" cy="297.26" r="2.09" fill="#505050"/>
<circle cx="438.00" cy="293.33" r="2.09" fill="#505050"/>
<circle cx="452.31" cy="290.17" r="2.09" fill="#505050"/>
<circle cx="466.62" cy="289.39" r="2.09" fill="#505050"/>
<circle cx="480.94" cy="289.39" r="2.09" fill="#505050"/>
<circle cx="495.25" cy="292.54" r="2.09" fill="#505050"/>
<circle cx="509.56" cy="293.33" r="2.09" fill="#505050"/>
<circle cx="523.88" cy="294.90" r="2.09" fill="#505050"/>
<circle cx="538.19" cy="291.75" r="2.09" fill="#505050"/>
<circle cx="552.50" cy="291.75" r="2.09" fill="#505050"/>
<path d="M380.75 386.81L383.21 390.95L378.29 390.95Z" fill="#505050"/>
<path d="M395.06 297.83L397.52 301.96L392.61 301.96Z" fill="#505050"/>
<path d="M409.38 292.31L411.83 296.45L406.92 296.45Z" fill="#505050"/>
<path d="M423.69 290.74L426.14 294.88L421.23 294.88Z" fill="#505050"/>
<path d="M438.00 289.17L440.46 293.30L435.54 293.30Z" fill="#505050"/>
<path d="M452.31 289.17L454.77 293.30L449.86 293.30Z" fill="#505050"/>
<path d="M466.62 288.38L469.08 292.51L464.17 292.51Z" fill="#505050"/>
<path d="M480.94 287.59L483.39 291.73L478.48 291.73Z" fill="#505050"/>
<path d="M495.25 289.95L497.71 294.09L492.79 294.09Z" fill="#505050"/>
<path d="M509.56 290.74L512.02 294.88L507.11 294.88Z" fill="#505050"/>
<path d="M523.88 290.74L526.33 294.88L521.42 294.88Z" fill="#505050"/>
<path d="M538.19 290.74L540.64 294.88L535.73 294.88Z" fill="#505050"/>
<path d="M552.50 289.95L554.96 294.09L550.04 294.09Z" fill="#505050"/>
<rect x="378.88" y="395.40" width="3.74" height="3.74" fill="#ff0000"/>
<rect x="393.19" y="296.97" width="3.74" height="3.74" fill="#ff0000"/>
<rect x="407.50" y="293.03" width="3.74" height="3.74" fill="#ff0000"/>
<rect x="421.82" y="293.03" width="3.74" height="3.74" fill="#ff0000"/>
<rect x="436.13" y="293.03" width="3.74" height="3.74" fill="#ff0000"/>
<rect x="450.44" y="292.24" width="3.74" height="3.74" fill="#ff0000"/>
<rect x="464.75" y="292.24" width="3.74" height="3.74" fill="#ff0000"/>
<rect x="479.07" y="290.67" width="3.74" height="3.74" fill="#ff0000"/>
<rect x="493.38" y="289.09" width="3.74" height="3.74" fill="#ff0000"/>
<rect x="507.69" y="292.24" width="3.74" height="3.74" fill="#ff0000"/>
<rect x="522.00" y="293.03" width="3.74" height="3.74" fill="#ff0000"/>
<rect x="536.32" y="292.24" width="3.74" height="3.74" fill="#ff0000"/>
<rect x="550.63" y="293.03" width="3.74" height="3.74" fill="#ff0000"/>
<circle cx="380.75" cy="379.95" r="2.09" fill="#ff0000"/>
<circle cx="395.06" cy="298.05" r="2.09" fill="#ff0000"/>
<circle cx="409.38" cy="295.69" r="2.09" fill="#ff0000"/>
<circle cx="423.69" cy="305.14" r="2.09" fill="#ff0000"/>
<circle cx="438.00" cy="305.14" r="2.09" fill="#ff0000"/>
<circle cx="452.31" cy="301.20" r="2.09" fill="#ff0000"/>
<circle cx="466.62" cy="298.84" r="2.09" fill="#ff0000"/>
<circle cx="480.94" cy="293.33" r="2.09" fill="#ff0000"/>
<circle cx="495.25" cy="291.75" r="2.09" fill="#ff0000"/>
<circle cx="509.56" cy="294.90" r="2.09" fill="#ff0000"/>
<circle cx="523.88" cy="294.90" r="2.09" fill="#ff0000"/>
<circle cx="538.19" cy="294.90" r="2.09" fill="#ff0000"/>
<circle cx="552.50" cy="294.90" r="2.09" fill="#ff0000"/>
<path d="M380.75 395.48L383.21 399.61L378.29 399.61Z" fill="#ff0000"/>
<path d="M395.06 295.46L397.52 299.60L392.61 299.60Z" fill="#ff0000"/>
<path d="M409.38 292.31L411.83 296.45L406.92 296.45Z" fill="#ff0000"/>
<path d="M423.69 292.31L426.14 296.45L421.23 296.45Z" fill="#ff0000"/>
<path d="M438.00 291.53L440.46 295.66L435.54 295.66Z" fill="#ff0000"/>
<path d="M452.31 290.74L454.77 294.88L449.86 294.88Z" fill="#ff0000"/>
<path d="M466.62 290.74L469.08 294.88L464.17 294.88Z" fill="#ff0000"/>
<path d="M480.94 289.95L483.39 294.09L478.48 294.09Z" fill="#ff0000"/>
<path d="M495.25 290.74L497.71 294.88L492.79 294.88Z" fill="#ff0000"/>
<path d="M509.56 292.31L512.02 296.45L507.11 296.45Z" fill="#ff0000"/>
<path d="M523.88 292.31L526.33 296.45L521.42 296.45Z" fill="#ff0000"/>
<path d="M538.19 292.31L540.64 296.45L535.73 296.45Z" fill="#ff0000"/>
<path d="M552.50 291.53L554.96 295.66L550.04 295.66Z" fill="#ff0000"/>
<rect x="378.88" y="399.34" width="3.74" height="3.74" fill="#00ee00"/>
<rect x="393.19" y="297.75" width="3.74" height="3.74" fill="#00ee00"/>
<rect x="407.50" y="297.75" width="3.74" height="3.74" fill="#00ee00"/>
<rect x="421.82" y="293.03" width="3.74" height="3.74" fill="#00ee00"/>
<rect x="436.13" y="291.46" width="3.74" height="3.74" fill="#00ee00"/>
<rect x="450.44" y="290.67" width="3.74" height="3.74" fill="#00ee00"/>
<rect x="464.75" y="291.46" width="3.74" height="3.74" fill="#00ee00"/>
<rect x="479.07" y="293.82" width="3.74" height="3.74" fill="#00ee00"/>
<rect x="493.38" y="293.03" width="3.74" height="3.74" fill="#00ee00"/>
<rect x="507.69" y="293.82" width="3.74" height="3.74" fill="#00ee00"/>
<rect x="522.00" y="293.03" width="3.74" height="3.74" fill="#00ee00"/>
<rect x="536.32" y="293.03" width="3.74" height="3.74" fill="#00ee00"/>
<circle cx="380.75" cy="375.23" r="2.09" fill="#00ee00"/>
<circle cx="395.06" cy="309.08" r="2.09" fill="#00ee00"/>
<circle cx="409.38" cy="300.41" r="2.09" fill="#00ee00"/>
<circle cx="423.69" cy="305.14" r="2.09" fill="#00ee00"/>
<circle cx="438.00" cy="305.92" r="2.09" fill="#00ee00"/>
<circle cx="452.31" cy="304.35" r="2.09" fill="#00ee00"/>
<circle cx="466.62" cy="305.14" r="2.09" fill="#00ee00"/>
<circle cx="480.94" cy="301.99" r="2.09" fill="#00ee00"/>
<circle cx="495.25" cy="299.62" r="2.09" fill="#00ee00"/>
<circle cx="509.56" cy="298.05" r="2.09" fill="#00ee00"/>
<circle cx="523.88" cy="296.48" r="2.09" fill="#00ee00"/>
<circle cx="538.19" cy="295.69" r="2.09" fill="#00ee00"/>
<path d="M380.75 389.18L383.21 393.31L378.29 393.31Z" fill="#00ee00"/>
<path d="M395.06 294.68L397.52 298.81L392.61 298.81Z" fill="#00ee00"/>
<path d="M409.38 297.04L411.83 301.18L406.92 301.18Z" fill="#00ee00"/>
<path d="M423.69 292.31L426.14 296.45L421.23 296.45Z" fill="#00ee00"/>
<path d="M438.00 290.74L440.46 294.88L435.54 294.88Z" fill="#00ee00"/>
<path d="M452.31 290.74L454.77 294.88L449.86 294.88Z" fill="#00ee00"/>
<path d="M466.62 291.53L469.08 295.66L464.17 295.66Z" fill="#00ee00"/>
<path d="M480.94 292.31L483.39 296.45L478.48 296.45Z" fill="#00ee00"/>
<path d="M495.25 293.10L497.71 297.24L492.79 297.24Z" fill="#00ee00"/>
<path d="M509.56 293.89L512.02 298.03L507.11 298.03Z" fill="#00ee00"/>
<path d="M523.88 293.10L526.33 297.24L521.42 297.24Z" fill="#00ee00"/>
<path d="M538.19 292.31L540.64 296.45L535.73 296.45Z" fill="#00ee00"/>
<rect x="524.75" y="322.5" width="42.5" height="68.0" fill="#fff" stroke="#555" stroke-width="0.6"/>
<line x1="525.5" y1="327.20" x2="539" y2="327.20" stroke="#aaa" stroke-width="0.7"/>
<rect x="530.56" y="325.16" width="4.08" height="4.08" fill="#505050"/>
<text x="541.3" y="329.32" font-size="5.9" fill="#000" stroke="#000" stroke-width="0.12"><tspan font-size="3.25" dy="-1.65">204</tspan><tspan dy="1.65">Tl S1</tspan></text>
<line x1="525.5" y1="334.59" x2="539" y2="334.59" stroke="#aaa" stroke-width="0.7"/>
<circle cx="532.60" cy="334.59" r="2.28" fill="#505050"/>
<text x="541.3" y="336.71" font-size="5.9" fill="#000" stroke="#000" stroke-width="0.12"><tspan font-size="3.25" dy="-1.65">204</tspan><tspan dy="1.65">Tl S12</tspan></text>
<line x1="525.5" y1="341.98" x2="539" y2="341.98" stroke="#aaa" stroke-width="0.7"/>
<path d="M532.60 339.16L535.28 343.67L529.92 343.67Z" fill="#505050"/>
<text x="541.3" y="344.10" font-size="5.9" fill="#000" stroke="#000" stroke-width="0.12"><tspan font-size="3.25" dy="-1.65">204</tspan><tspan dy="1.65">Tl S2</tspan></text>
<line x1="525.5" y1="349.36" x2="539" y2="349.36" stroke="#f88" stroke-width="0.7"/>
<rect x="530.56" y="347.32" width="4.08" height="4.08" fill="#ff0000"/>
<text x="541.3" y="351.49" font-size="5.9" fill="#000" stroke="#000" stroke-width="0.12"><tspan font-size="3.25" dy="-1.65">137</tspan><tspan dy="1.65">Cs S1</tspan></text>
<line x1="525.5" y1="356.75" x2="539" y2="356.75" stroke="#f88" stroke-width="0.7"/>
<circle cx="532.60" cy="356.75" r="2.28" fill="#ff0000"/>
<text x="541.3" y="358.87" font-size="5.9" fill="#000" stroke="#000" stroke-width="0.12"><tspan font-size="3.25" dy="-1.65">137</tspan><tspan dy="1.65">Cs S12</tspan></text>
<line x1="525.5" y1="364.14" x2="539" y2="364.14" stroke="#f88" stroke-width="0.7"/>
<path d="M532.60 361.32L535.28 365.83L529.92 365.83Z" fill="#ff0000"/>
<text x="541.3" y="366.26" font-size="5.9" fill="#000" stroke="#000" stroke-width="0.12"><tspan font-size="3.25" dy="-1.65">137</tspan><tspan dy="1.65">Cs S2</tspan></text>
<line x1="525.5" y1="371.52" x2="539" y2="371.52" stroke="#8e8" stroke-width="0.7"/>
<rect x="530.56" y="369.48" width="4.08" height="4.08" fill="#00ee00"/>
<text x="541.3" y="373.65" font-size="5.9" fill="#000" stroke="#000" stroke-width="0.12"><tspan font-size="3.25" dy="-1.65">22</tspan><tspan dy="1.65">Na S1</tspan></text>
<line x1="525.5" y1="378.91" x2="539" y2="378.91" stroke="#8e8" stroke-width="0.7"/>
<circle cx="532.60" cy="378.91" r="2.28" fill="#00ee00"/>
<text x="541.3" y="381.04" font-size="5.9" fill="#000" stroke="#000" stroke-width="0.12"><tspan font-size="3.25" dy="-1.65">22</tspan><tspan dy="1.65">Na S12</tspan></text>
<line x1="525.5" y1="386.30" x2="539" y2="386.30" stroke="#8e8" stroke-width="0.7"/>
<path d="M532.60 383.48L535.28 387.99L529.92 387.99Z" fill="#00ee00"/>
<text x="541.3" y="388.42" font-size="5.9" fill="#000" stroke="#000" stroke-width="0.12"><tspan font-size="3.25" dy="-1.65">22</tspan><tspan dy="1.65">Na S2</tspan></text>
<path d="M38.5 498.6V681.4H279.5" fill="none" stroke="#262626" stroke-width="1"/>
<path d="M55.50 681.4v2.6M89.97 681.4v2.6M124.43 681.4v2.6M158.90 681.4v2.6M193.37 681.4v2.6M227.83 681.4v2.6M262.30 681.4v2.6M38.27 681.4v1.5M55.50 681.4v1.5M72.73 681.4v1.5M89.97 681.4v1.5M107.20 681.4v1.5M124.43 681.4v1.5M141.67 681.4v1.5M158.90 681.4v1.5M176.13 681.4v1.5M193.37 681.4v1.5M210.60 681.4v1.5M227.83 681.4v1.5M245.07 681.4v1.5M262.30 681.4v1.5M279.53 681.4v1.5M38.5 681.25h-2.6M38.5 664.65h-2.6M38.5 648.04h-2.6M38.5 631.44h-2.6M38.5 614.83h-2.6M38.5 598.23h-2.6M38.5 581.62h-2.6M38.5 565.02h-2.6M38.5 548.41h-2.6M38.5 531.81h-2.6M38.5 515.20h-2.6M38.5 498.60h-2.6M38.5 672.95h-1.5M38.5 656.34h-1.5M38.5 639.74h-1.5M38.5 623.13h-1.5M38.5 606.53h-1.5M38.5 589.92h-1.5M38.5 573.32h-1.5M38.5 556.72h-1.5M38.5 540.11h-1.5M38.5 523.51h-1.5M38.5 506.90h-1.5" stroke="#262626" stroke-width="0.8"/>
<text transform="translate(55.50 693.50) scale(1 1.15)" font-size="8.0" text-anchor="middle" fill="#222" stroke="#222" stroke-width="0.22">600</text>
<text transform="translate(89.97 693.50) scale(1 1.15)" font-size="8.0" text-anchor="middle" fill="#222" stroke="#222" stroke-width="0.22">700</text>
<text transform="translate(124.43 693.50) scale(1 1.15)" font-size="8.0" text-anchor="middle" fill="#222" stroke="#222" stroke-width="0.22">800</text>
<text transform="translate(158.90 693.50) scale(1 1.15)" font-size="8.0" text-anchor="middle" fill="#222" stroke="#222" stroke-width="0.22">900</text>
<text transform="translate(193.37 693.50) scale(1 1.15)" font-size="8.0" text-anchor="middle" fill="#222" stroke="#222" stroke-width="0.22">1000</text>
<text transform="translate(227.83 693.50) scale(1 1.15)" font-size="8.0" text-anchor="middle" fill="#222" stroke="#222" stroke-width="0.22">1100</text>
<text transform="translate(262.30 693.50) scale(1 1.15)" font-size="8.0" text-anchor="middle" fill="#222" stroke="#222" stroke-width="0.22">1200</text>
<text transform="translate(33.50 684.35) scale(1 1.15)" font-size="7.6" text-anchor="end" fill="#222" stroke="#222" stroke-width="0.22">500</text>
<text transform="translate(33.50 667.75) scale(1 1.15)" font-size="7.6" text-anchor="end" fill="#222" stroke="#222" stroke-width="0.22">750</text>
<text transform="translate(33.50 651.14) scale(1 1.15)" font-size="7.6" text-anchor="end" fill="#222" stroke="#222" stroke-width="0.22">1000</text>
<text transform="translate(33.50 634.54) scale(1 1.15)" font-size="7.6" text-anchor="end" fill="#222" stroke="#222" stroke-width="0.22">1250</text>
<text transform="translate(33.50 617.93) scale(1 1.15)" font-size="7.6" text-anchor="end" fill="#222" stroke="#222" stroke-width="0.22">1500</text>
<text transform="translate(33.50 601.33) scale(1 1.15)" font-size="7.6" text-anchor="end" fill="#222" stroke="#222" stroke-width="0.22">1750</text>
<text transform="translate(33.50 584.73) scale(1 1.15)" font-size="7.6" text-anchor="end" fill="#222" stroke="#222" stroke-width="0.22">2000</text>
<text transform="translate(33.50 568.12) scale(1 1.15)" font-size="7.6" text-anchor="end" fill="#222" stroke="#222" stroke-width="0.22">2250</text>
<text transform="translate(33.50 551.52) scale(1 1.15)" font-size="7.6" text-anchor="end" fill="#222" stroke="#222" stroke-width="0.22">2500</text>
<text transform="translate(33.50 534.91) scale(1 1.15)" font-size="7.6" text-anchor="end" fill="#222" stroke="#222" stroke-width="0.22">2750</text>
<text transform="translate(33.50 518.31) scale(1 1.15)" font-size="7.6" text-anchor="end" fill="#222" stroke="#222" stroke-width="0.22">3000</text>
<text transform="translate(33.50 501.70) scale(1 1.15)" font-size="7.6" text-anchor="end" fill="#222" stroke="#222" stroke-width="0.22">3250</text>
<text x="159.20" y="708.30" font-size="9.3" font-weight="bold" text-anchor="middle" fill="#111">Voltage (V)</text>
<text transform="translate(10.00 589.90) rotate(-90)" font-size="9.18" font-weight="bold" text-anchor="middle" fill="#111">Frequency (Hz)</text>
<text x="159.10" y="731.10" style="font-family:&quot;Liberation Serif&quot;,serif" font-size="15.6" text-anchor="middle" fill="#111">(e)</text>
<path d="M107.20 600.55L109.78 599.08L112.37 597.62L114.95 596.16L117.54 594.71L120.12 593.26L122.71 591.82L125.30 590.38L127.88 588.94L130.47 587.51L133.05 586.08L135.63 584.66L138.22 583.24L140.81 581.83L143.39 580.42L145.97 579.01L148.56 577.61L151.14 576.22L153.73 574.83L156.31 573.44L158.90 572.06L161.49 570.68L164.07 569.31L166.66 567.94L169.24 566.58L171.82 565.22L174.41 563.86L177.00 562.51L179.58 561.16L182.17 559.82L184.75 558.48L187.34 557.15L189.92 555.82L192.50 554.50L195.09 553.18L197.68 551.87L200.26 550.55L202.84 549.25L205.43 547.95L208.01 546.65L210.60 545.36L213.19 544.07L215.77 542.79L218.35 541.51L220.94 540.23L223.53 538.96L226.11 537.70L228.69 536.44L231.28 535.18L233.87 533.93L236.45 532.68L239.03 531.44L241.62 530.20L244.21 528.96L246.79 527.74L249.38 526.51L251.96 525.29L254.54 524.07L257.13 522.86L259.72 521.65L262.30 520.45" fill="none" stroke="#444" stroke-width="0.6"/>
<path d="M107.20 600.55L109.78 598.18L112.37 595.84L114.95 593.53L117.54 591.26L120.12 589.02L122.71 586.81L125.30 584.64L127.88 582.50L130.47 580.39L133.05 578.32L135.63 576.28L138.22 574.28L140.81 572.31L143.39 570.37L145.97 568.47L148.56 566.60L151.14 564.76L153.73 562.96L156.31 561.19L158.90 559.46L161.49 557.75L164.07 556.09L166.66 554.45L169.24 552.85L171.82 551.28L174.41 549.75L177.00 548.25L179.58 546.78L182.17 545.35L184.75 543.95L187.34 542.59L189.92 541.25L192.50 539.96L195.09 538.69L197.68 537.46L200.26 536.26L202.84 535.10L205.43 533.97L208.01 532.87L210.60 531.81L213.19 530.78L215.77 529.78L218.35 528.82L220.94 527.89L223.53 527.00L226.11 526.14L228.69 525.31L231.28 524.52L233.87 523.76L236.45 523.03L239.03 522.34L241.62 521.68L244.21 521.05L246.79 520.46L249.38 519.90L251.96 519.38L254.54 518.88L257.13 518.43L259.72 518.00L262.30 517.61" fill="none" stroke="#ff0000" stroke-width="0.6"/>
<path d="M107.20 597.56L109.50 594.93L111.80 592.33L114.09 589.77L116.39 587.25L118.69 584.77L120.99 582.33L123.28 579.94L125.58 577.58L127.88 575.25L130.18 572.97L132.48 570.73L134.77 568.53L137.07 566.37L139.37 564.25L141.67 562.16L143.96 560.12L146.26 558.11L148.56 556.15L150.86 554.23L153.16 552.34L155.45 550.49L157.75 548.69L160.05 546.92L162.35 545.19L164.64 543.51L166.94 541.86L169.24 540.25L171.54 538.68L173.84 537.15L176.13 535.66L178.43 534.21L180.73 532.80L183.03 531.43L185.32 530.10L187.62 528.81L189.92 527.55L192.22 526.34L194.52 525.17L196.81 524.03L199.11 522.94L201.41 521.88L203.71 520.87L206.00 519.89L208.30 518.96L210.60 518.06L212.90 517.20L215.20 516.39L217.49 515.61L219.79 514.87L222.09 514.17L224.39 513.51L226.68 512.89L228.98 512.31L231.28 511.77L233.58 511.27L235.88 510.81L238.17 510.39L240.47 510.01L242.77 509.66L245.07 509.36" fill="none" stroke="#33dd33" stroke-width="0.6"/>
<rect x="53.72" y="660.67" width="3.57" height="3.57" fill="#000"/>
<rect x="70.95" y="651.57" width="3.57" height="3.57" fill="#000"/>
<rect x="88.18" y="650.57" width="3.57" height="3.57" fill="#000"/>
<rect x="105.42" y="638.09" width="3.57" height="3.57" fill="#000"/>
<rect x="122.65" y="630.05" width="3.57" height="3.57" fill="#000"/>
<rect x="139.88" y="627.53" width="3.57" height="3.57" fill="#000"/>
<rect x="157.12" y="618.36" width="3.57" height="3.57" fill="#000"/>
<rect x="174.35" y="614.51" width="3.57" height="3.57" fill="#000"/>
<rect x="191.58" y="609.73" width="3.57" height="3.57" fill="#000"/>
<rect x="208.81" y="602.15" width="3.57" height="3.57" fill="#000"/>
<rect x="226.05" y="601.36" width="3.57" height="3.57" fill="#000"/>
<rect x="243.28" y="605.87" width="3.57" height="3.57" fill="#000"/>
<rect x="260.51" y="598.43" width="3.57" height="3.57" fill="#000"/>
<path d="M55.50 658.86L57.84 662.81L53.16 662.81Z" fill="#000"/>
<path d="M72.73 651.22L75.08 655.17L70.39 655.17Z" fill="#000"/>
<path d="M89.97 649.56L92.31 653.51L87.62 653.51Z" fill="#000"/>
<path d="M107.20 638.93L109.54 642.88L104.86 642.88Z" fill="#000"/>
<path d="M124.43 628.97L126.78 632.92L122.09 632.92Z" fill="#000"/>
<path d="M141.67 625.65L144.01 629.60L139.32 629.60Z" fill="#000"/>
<path d="M158.90 617.01L161.24 620.96L156.56 620.96Z" fill="#000"/>
<path d="M176.13 613.03L178.48 616.98L173.79 616.98Z" fill="#000"/>
<path d="M193.37 609.04L195.71 612.99L191.02 612.99Z" fill="#000"/>
<path d="M210.60 603.07L212.94 607.01L208.26 607.01Z" fill="#000"/>
<path d="M227.83 600.41L230.18 604.36L225.49 604.36Z" fill="#000"/>
<path d="M245.07 598.75L247.41 602.70L242.72 602.70Z" fill="#000"/>
<path d="M262.30 599.08L264.64 603.03L259.96 603.03Z" fill="#000"/>
<rect x="53.72" y="657.41" width="3.57" height="3.57" fill="#ff0000"/>
<rect x="70.95" y="640.28" width="3.57" height="3.57" fill="#ff0000"/>
<rect x="88.18" y="649.38" width="3.57" height="3.57" fill="#ff0000"/>
<rect x="105.42" y="640.08" width="3.57" height="3.57" fill="#ff0000"/>
<rect x="122.65" y="628.06" width="3.57" height="3.57" fill="#ff0000"/>
<rect x="139.88" y="623.67" width="3.57" height="3.57" fill="#ff0000"/>
<rect x="157.12" y="619.29" width="3.57" height="3.57" fill="#ff0000"/>
<rect x="174.35" y="613.05" width="3.57" height="3.57" fill="#ff0000"/>
<rect x="191.58" y="615.31" width="3.57" height="3.57" fill="#ff0000"/>
<rect x="208.81" y="602.15" width="3.57" height="3.57" fill="#ff0000"/>
<rect x="226.05" y="602.42" width="3.57" height="3.57" fill="#ff0000"/>
<rect x="243.28" y="603.75" width="3.57" height="3.57" fill="#ff0000"/>
<rect x="260.51" y="598.43" width="3.57" height="3.57" fill="#ff0000"/>
<path d="M55.50 656.20L57.84 660.15L53.16 660.15Z" fill="#ff0000"/>
<path d="M72.73 639.93L75.08 643.88L70.39 643.88Z" fill="#ff0000"/>
<path d="M89.97 648.23L92.31 652.18L87.62 652.18Z" fill="#ff0000"/>
<path d="M107.20 635.61L109.54 639.56L104.86 639.56Z" fill="#ff0000"/>
<path d="M124.43 626.98L126.78 630.92L122.09 630.92Z" fill="#ff0000"/>
<path d="M141.67 620.33L144.01 624.28L139.32 624.28Z" fill="#ff0000"/>
<path d="M158.90 617.01L161.24 620.96L156.56 620.96Z" fill="#ff0000"/>
<path d="M176.13 605.32L178.48 609.27L173.79 609.27Z" fill="#ff0000"/>
<path d="M193.37 602.73L195.71 606.68L191.02 606.68Z" fill="#ff0000"/>
<path d="M210.60 596.29L212.94 600.24L208.26 600.24Z" fill="#ff0000"/>
<path d="M227.83 596.96L230.18 600.90L225.49 600.90Z" fill="#ff0000"/>
<path d="M245.07 590.31L247.41 594.26L242.72 594.26Z" fill="#ff0000"/>
<path d="M262.30 584.73L264.64 588.68L259.96 588.68Z" fill="#ff0000"/>
<rect x="53.72" y="653.63" width="3.57" height="3.57" fill="#00ee00"/>
<rect x="70.95" y="646.85" width="3.57" height="3.57" fill="#00ee00"/>
<rect x="88.18" y="651.37" width="3.57" height="3.57" fill="#00ee00"/>
<rect x="105.42" y="635.10" width="3.57" height="3.57" fill="#00ee00"/>
<rect x="122.65" y="623.01" width="3.57" height="3.57" fill="#00ee00"/>
<rect x="139.88" y="622.54" width="3.57" height="3.57" fill="#00ee00"/>
<rect x="157.12" y="615.04" width="3.57" height="3.57" fill="#00ee00"/>
<rect x="174.35" y="610.79" width="3.57" height="3.57" fill="#00ee00"/>
<rect x="191.58" y="612.71" width="3.57" height="3.57" fill="#00ee00"/>
<rect x="208.81" y="605.74" width="3.57" height="3.57" fill="#00ee00"/>
<rect x="226.05" y="603.22" width="3.57" height="3.57" fill="#00ee00"/>
<rect x="243.28" y="604.74" width="3.57" height="3.57" fill="#00ee00"/>
<path d="M55.50 645.44L57.84 649.39L53.16 649.39Z" fill="#00ee00"/>
<path d="M72.73 635.41L75.08 639.36L70.39 639.36Z" fill="#00ee00"/>
<path d="M89.97 644.91L92.31 648.86L87.62 648.86Z" fill="#00ee00"/>
<path d="M107.20 628.64L109.54 632.58L104.86 632.58Z" fill="#00ee00"/>
<path d="M124.43 621.07L126.78 625.01L122.09 625.01Z" fill="#00ee00"/>
<path d="M141.67 612.83L144.01 616.78L139.32 616.78Z" fill="#00ee00"/>
<path d="M158.90 604.33L161.24 608.28L156.56 608.28Z" fill="#00ee00"/>
<path d="M176.13 608.38L178.48 612.33L173.79 612.33Z" fill="#00ee00"/>
<path d="M193.37 590.25L195.71 594.20L191.02 594.20Z" fill="#00ee00"/>
<path d="M210.60 593.30L212.94 597.25L208.26 597.25Z" fill="#00ee00"/>
<path d="M227.83 579.69L230.18 583.63L225.49 583.63Z" fill="#00ee00"/>
<path d="M245.07 588.19L247.41 592.14L242.72 592.14Z" fill="#00ee00"/>
<circle cx="55.50" cy="627.32" r="1.99" fill="#000"/>
<circle cx="72.73" cy="604.01" r="1.99" fill="#000"/>
<circle cx="89.97" cy="621.54" r="1.99" fill="#000"/>
<circle cx="107.20" cy="601.02" r="1.99" fill="#000"/>
<circle cx="124.43" cy="595.24" r="1.99" fill="#000"/>
<circle cx="141.67" cy="585.21" r="1.99" fill="#000"/>
<circle cx="158.90" cy="567.87" r="1.99" fill="#000"/>
<circle cx="176.13" cy="567.61" r="1.99" fill="#000"/>
<circle cx="193.37" cy="556.05" r="1.99" fill="#000"/>
<circle cx="210.60" cy="539.05" r="1.99" fill="#000"/>
<circle cx="227.83" cy="545.09" r="1.99" fill="#000"/>
<circle cx="245.07" cy="524.97" r="1.99" fill="#000"/>
<circle cx="262.30" cy="515.67" r="1.99" fill="#000"/>
<circle cx="55.50" cy="622.34" r="1.99" fill="#ff0000"/>
<circle cx="72.73" cy="593.98" r="1.99" fill="#ff0000"/>
<circle cx="89.97" cy="618.55" r="1.99" fill="#ff0000"/>
<circle cx="107.20" cy="599.22" r="1.99" fill="#ff0000"/>
<circle cx="124.43" cy="587.73" r="1.99" fill="#ff0000"/>
<circle cx="141.67" cy="572.66" r="1.99" fill="#ff0000"/>
<circle cx="158.90" cy="561.63" r="1.99" fill="#ff0000"/>
<circle cx="176.13" cy="562.10" r="1.99" fill="#ff0000"/>
<circle cx="193.37" cy="529.02" r="1.99" fill="#ff0000"/>
<circle cx="210.60" cy="531.54" r="1.99" fill="#ff0000"/>
<circle cx="227.83" cy="530.75" r="1.99" fill="#ff0000"/>
<circle cx="245.07" cy="540.31" r="1.99" fill="#ff0000"/>
<circle cx="262.30" cy="525.23" r="1.99" fill="#ff0000"/>
<circle cx="55.50" cy="616.82" r="1.99" fill="#00ee00"/>
<circle cx="72.73" cy="595.97" r="1.99" fill="#00ee00"/>
<circle cx="89.97" cy="606.00" r="1.99" fill="#00ee00"/>
<circle cx="107.20" cy="597.23" r="1.99" fill="#00ee00"/>
<circle cx="124.43" cy="577.17" r="1.99" fill="#00ee00"/>
<circle cx="141.67" cy="555.06" r="1.99" fill="#00ee00"/>
<circle cx="158.90" cy="548.08" r="1.99" fill="#00ee00"/>
<circle cx="176.13" cy="534.07" r="1.99" fill="#00ee00"/>
<circle cx="193.37" cy="517.73" r="1.99" fill="#00ee00"/>
<circle cx="210.60" cy="528.29" r="1.99" fill="#00ee00"/>
<circle cx="227.83" cy="517.00" r="1.99" fill="#00ee00"/>
<circle cx="245.07" cy="508.70" r="1.99" fill="#00ee00"/>
<rect x="38.5" y="498.4" width="82.75" height="80.60000000000002" fill="#fff" stroke="#555" stroke-width="0.6"/>
<rect x="43.80" y="500.80" width="3.40" height="3.40" fill="#000"/>
<text x="53" y="504.52" font-size="5.6" fill="#000" stroke="#000" stroke-width="0.12"><tspan font-size="3.08" dy="-1.57">204</tspan><tspan dy="1.57">Tl S1</tspan></text>
<circle cx="45.50" cy="509.16" r="1.90" fill="#000"/>
<text x="53" y="511.18" font-size="5.6" fill="#000" stroke="#000" stroke-width="0.12"><tspan font-size="3.08" dy="-1.57">204</tspan><tspan dy="1.57">Tl S12</tspan></text>
<path d="M45.50 513.48L47.73 517.24L43.27 517.24Z" fill="#000"/>
<text x="53" y="517.84" font-size="5.6" fill="#000" stroke="#000" stroke-width="0.12"><tspan font-size="3.08" dy="-1.57">204</tspan><tspan dy="1.57">Tl S2</tspan></text>
<rect x="43.80" y="520.79" width="3.40" height="3.40" fill="#ff0000"/>
<text x="53" y="524.51" font-size="5.6" fill="#000" stroke="#000" stroke-width="0.12"><tspan font-size="3.08" dy="-1.57">137</tspan><tspan dy="1.57">Cs S1</tspan></text>
<circle cx="45.50" cy="529.15" r="1.90" fill="#ff0000"/>
<text x="53" y="531.17" font-size="5.6" fill="#000" stroke="#000" stroke-width="0.12"><tspan font-size="3.08" dy="-1.57">137</tspan><tspan dy="1.57">Cs S12</tspan></text>
<path d="M45.50 533.47L47.73 537.23L43.27 537.23Z" fill="#ff0000"/>
<text x="53" y="537.83" font-size="5.6" fill="#000" stroke="#000" stroke-width="0.12"><tspan font-size="3.08" dy="-1.57">137</tspan><tspan dy="1.57">Cs S2</tspan></text>
<rect x="43.80" y="540.78" width="3.40" height="3.40" fill="#00ee00"/>
<text x="53" y="544.50" font-size="5.6" fill="#000" stroke="#000" stroke-width="0.12"><tspan font-size="3.08" dy="-1.57">22</tspan><tspan dy="1.57">Na S1</tspan></text>
<circle cx="45.50" cy="549.15" r="1.90" fill="#00ee00"/>
<text x="53" y="551.16" font-size="5.6" fill="#000" stroke="#000" stroke-width="0.12"><tspan font-size="3.08" dy="-1.57">22</tspan><tspan dy="1.57">Na S12</tspan></text>
<path d="M45.50 553.46L47.73 557.22L43.27 557.22Z" fill="#00ee00"/>
<text x="53" y="557.83" font-size="5.6" fill="#000" stroke="#000" stroke-width="0.12"><tspan font-size="3.08" dy="-1.57">22</tspan><tspan dy="1.57">Na S2</tspan></text>
<line x1="40" y1="562.47" x2="51.25" y2="562.47" stroke="#777" stroke-width="0.6"/>
<text x="53.5" y="564.49" font-size="5.6" fill="#000" stroke="#000" stroke-width="0.1">Fit Curve <tspan font-size="3.08" dy="-1.57">204</tspan><tspan dy="1.57">Tl (R</tspan><tspan font-size="3.08" dy="-1.57">2</tspan><tspan dy="1.57"> =0.9751)</tspan></text>
<line x1="40" y1="569.14" x2="51.25" y2="569.14" stroke="#ff0000" stroke-width="0.6"/>
<text x="53.5" y="571.15" font-size="5.6" fill="#000" stroke="#000" stroke-width="0.1">Fit Curve <tspan font-size="3.08" dy="-1.57">137</tspan><tspan dy="1.57">Cs (R</tspan><tspan font-size="3.08" dy="-1.57">2</tspan><tspan dy="1.57"> =0.9114)</tspan></text>
<line x1="40" y1="575.80" x2="51.25" y2="575.80" stroke="#33dd33" stroke-width="0.6"/>
<text x="53.5" y="577.82" font-size="5.6" fill="#000" stroke="#000" stroke-width="0.1">Fit Curve <tspan font-size="3.08" dy="-1.57">22</tspan><tspan dy="1.57">Na (R</tspan><tspan font-size="3.08" dy="-1.57">2</tspan><tspan dy="1.57"> =0.9757)</tspan></text>
<path d="M362.4 498.8V681.4H603.5" fill="none" stroke="#262626" stroke-width="1"/>
<path d="M379.50 681.4v2.6M413.83 681.4v2.6M448.17 681.4v2.6M482.50 681.4v2.6M516.83 681.4v2.6M551.17 681.4v2.6M585.50 681.4v2.6M362.33 681.4v1.5M379.50 681.4v1.5M396.67 681.4v1.5M413.83 681.4v1.5M431.00 681.4v1.5M448.17 681.4v1.5M465.33 681.4v1.5M482.50 681.4v1.5M499.67 681.4v1.5M516.83 681.4v1.5M534.00 681.4v1.5M551.17 681.4v1.5M568.33 681.4v1.5M585.50 681.4v1.5M602.67 681.4v1.5M362.4 681.40h-2.6M362.4 666.19h-2.6M362.4 650.98h-2.6M362.4 635.77h-2.6M362.4 620.57h-2.6M362.4 605.36h-2.6M362.4 590.15h-2.6M362.4 574.94h-2.6M362.4 559.73h-2.6M362.4 544.52h-2.6M362.4 529.32h-2.6M362.4 514.11h-2.6M362.4 498.90h-2.6M362.4 673.80h-1.5M362.4 658.59h-1.5M362.4 643.38h-1.5M362.4 628.17h-1.5M362.4 612.96h-1.5M362.4 597.75h-1.5M362.4 582.55h-1.5M362.4 567.34h-1.5M362.4 552.13h-1.5M362.4 536.92h-1.5M362.4 521.71h-1.5M362.4 506.50h-1.5" stroke="#262626" stroke-width="0.8"/>
<text transform="translate(379.50 692.90) scale(1 1.15)" font-size="6.8" text-anchor="middle" fill="#222" stroke="#222" stroke-width="0.22">600</text>
<text transform="translate(413.83 692.90) scale(1 1.15)" font-size="6.8" text-anchor="middle" fill="#222" stroke="#222" stroke-width="0.22">700</text>
<text transform="translate(448.17 692.90) scale(1 1.15)" font-size="6.8" text-anchor="middle" fill="#222" stroke="#222" stroke-width="0.22">800</text>
<text transform="translate(482.50 692.90) scale(1 1.15)" font-size="6.8" text-anchor="middle" fill="#222" stroke="#222" stroke-width="0.22">900</text>
<text transform="translate(516.83 692.90) scale(1 1.15)" font-size="6.8" text-anchor="middle" fill="#222" stroke="#222" stroke-width="0.22">1000</text>
<text transform="translate(551.17 692.90) scale(1 1.15)" font-size="6.8" text-anchor="middle" fill="#222" stroke="#222" stroke-width="0.22">1100</text>
<text transform="translate(585.50 692.90) scale(1 1.15)" font-size="6.8" text-anchor="middle" fill="#222" stroke="#222" stroke-width="0.22">1200</text>
<text transform="translate(356.80 684.18) scale(1 1.15)" font-size="6.8" text-anchor="end" fill="#222" stroke="#222" stroke-width="0.22">0</text>
<text transform="translate(356.80 668.97) scale(1 1.15)" font-size="6.8" text-anchor="end" fill="#222" stroke="#222" stroke-width="0.22">5</text>
<text transform="translate(356.80 653.76) scale(1 1.15)" font-size="6.8" text-anchor="end" fill="#222" stroke="#222" stroke-width="0.22">10</text>
<text transform="translate(356.80 638.55) scale(1 1.15)" font-size="6.8" text-anchor="end" fill="#222" stroke="#222" stroke-width="0.22">15</text>
<text transform="translate(356.80 623.34) scale(1 1.15)" font-size="6.8" text-anchor="end" fill="#222" stroke="#222" stroke-width="0.22">20</text>
<text transform="translate(356.80 608.13) scale(1 1.15)" font-size="6.8" text-anchor="end" fill="#222" stroke="#222" stroke-width="0.22">25</text>
<text transform="translate(356.80 592.93) scale(1 1.15)" font-size="6.8" text-anchor="end" fill="#222" stroke="#222" stroke-width="0.22">30</text>
<text transform="translate(356.80 577.72) scale(1 1.15)" font-size="6.8" text-anchor="end" fill="#222" stroke="#222" stroke-width="0.22">35</text>
<text transform="translate(356.80 562.51) scale(1 1.15)" font-size="6.8" text-anchor="end" fill="#222" stroke="#222" stroke-width="0.22">40</text>
<text transform="translate(356.80 547.30) scale(1 1.15)" font-size="6.8" text-anchor="end" fill="#222" stroke="#222" stroke-width="0.22">45</text>
<text transform="translate(356.80 532.09) scale(1 1.15)" font-size="6.8" text-anchor="end" fill="#222" stroke="#222" stroke-width="0.22">50</text>
<text transform="translate(356.80 516.88) scale(1 1.15)" font-size="6.8" text-anchor="end" fill="#222" stroke="#222" stroke-width="0.22">55</text>
<text transform="translate(356.80 501.68) scale(1 1.15)" font-size="6.8" text-anchor="end" fill="#222" stroke="#222" stroke-width="0.22">60</text>
<text x="483.10" y="708.30" font-size="9.3" font-weight="bold" text-anchor="middle" fill="#111">Voltage (V)</text>
<text transform="translate(342.80 589.90) rotate(-90)" font-size="9.1" font-weight="bold" text-anchor="middle" fill="#111">Cycle Mean</text>
<text x="483.00" y="731.10" style="font-family:&quot;Liberation Serif&quot;,serif" font-size="15.6" text-anchor="middle" fill="#111">(f)</text>
<path d="M431.00 558.21L433.57 561.65L436.15 564.90L438.73 567.97L441.30 570.87L443.88 573.61L446.45 576.20L449.02 578.64L451.60 580.96L454.18 583.14L456.75 585.20L459.32 587.15L461.90 588.99L464.48 590.74L467.05 592.38L469.62 593.93L472.20 595.40L474.77 596.79L477.35 598.10L479.93 599.34L482.50 600.51L485.07 601.62L487.65 602.66L490.23 603.65L492.80 604.58L495.38 605.46L497.95 606.30L500.52 607.08L503.10 607.83L505.68 608.53L508.25 609.19L510.82 609.82L513.40 610.41L515.98 610.97L518.55 611.50L521.12 612.00L523.70 612.47L526.27 612.92L528.85 613.34L531.42 613.74L534.00 614.12L536.58 614.47L539.15 614.81L541.73 615.12L544.30 615.42L546.88 615.71L549.45 615.98L552.02 616.23L554.60 616.47L557.17 616.69L559.75 616.91L562.33 617.11L564.90 617.30L567.48 617.48L570.05 617.65L572.62 617.81L575.20 617.96L577.77 618.11L580.35 618.24L582.92 618.37L585.50 618.49" fill="none" stroke="#444" stroke-width="0.6"/>
<path d="M431.00 536.92L433.57 546.10L436.15 554.17L438.73 561.26L441.30 567.50L443.88 572.99L446.45 577.81L449.02 582.05L451.60 585.78L454.18 589.06L456.75 591.95L459.32 594.48L461.90 596.71L464.48 598.68L467.05 600.40L469.62 601.92L472.20 603.25L474.77 604.42L477.35 605.45L479.93 606.36L482.50 607.16L485.07 607.86L487.65 608.47L490.23 609.01L492.80 609.49L495.38 609.91L497.95 610.28L500.52 610.60L503.10 610.89L505.68 611.14L508.25 611.36L510.82 611.55L513.40 611.72L515.98 611.87L518.55 612.00L521.12 612.12L523.70 612.22L526.27 612.31L528.85 612.39L531.42 612.46L534.00 612.52L536.58 612.57L539.15 612.62L541.73 612.66L544.30 612.70L546.88 612.73L549.45 612.76L552.02 612.78L554.60 612.80L557.17 612.82L559.75 612.84L562.33 612.85L564.90 612.87L567.48 612.88L570.05 612.89L572.62 612.90L575.20 612.91L577.77 612.91L580.35 612.92L582.92 612.92L585.50 612.93" fill="none" stroke="#ff0000" stroke-width="0.6"/>
<path d="M431.00 546.05L433.29 548.30L435.58 550.49L437.87 552.62L440.16 554.69L442.44 556.70L444.73 558.66L447.02 560.56L449.31 562.41L451.60 564.20L453.89 565.95L456.18 567.65L458.47 569.30L460.76 570.90L463.04 572.46L465.33 573.97L467.62 575.45L469.91 576.88L472.20 578.27L474.49 579.62L476.78 580.94L479.07 582.22L481.36 583.46L483.64 584.67L485.93 585.84L488.22 586.98L490.51 588.09L492.80 589.17L495.09 590.22L497.38 591.24L499.67 592.23L501.96 593.19L504.24 594.12L506.53 595.03L508.82 595.92L511.11 596.78L513.40 597.61L515.69 598.42L517.98 599.21L520.27 599.98L522.56 600.73L524.84 601.45L527.13 602.16L529.42 602.84L531.71 603.51L534.00 604.15L536.29 604.78L538.58 605.39L540.87 605.99L543.16 606.57L545.44 607.13L547.73 607.67L550.02 608.20L552.31 608.72L554.60 609.22L556.89 609.71L559.18 610.18L561.47 610.64L563.76 611.09L566.04 611.53L568.33 611.95" fill="none" stroke="#33dd33" stroke-width="0.6"/>
<rect x="377.71" y="617.87" width="3.57" height="3.57" fill="#000"/>
<rect x="394.88" y="606.92" width="3.57" height="3.57" fill="#000"/>
<rect x="412.05" y="571.03" width="3.57" height="3.57" fill="#000"/>
<rect x="429.21" y="613.00" width="3.57" height="3.57" fill="#000"/>
<rect x="446.38" y="624.26" width="3.57" height="3.57" fill="#000"/>
<rect x="463.55" y="652.54" width="3.57" height="3.57" fill="#000"/>
<rect x="480.71" y="637.94" width="3.57" height="3.57" fill="#000"/>
<rect x="497.88" y="652.24" width="3.57" height="3.57" fill="#000"/>
<rect x="515.05" y="651.02" width="3.57" height="3.57" fill="#000"/>
<rect x="532.22" y="636.12" width="3.57" height="3.57" fill="#000"/>
<rect x="549.38" y="644.33" width="3.57" height="3.57" fill="#000"/>
<rect x="566.55" y="668.36" width="3.57" height="3.57" fill="#000"/>
<rect x="583.72" y="652.24" width="3.57" height="3.57" fill="#000"/>
<path d="M379.50 619.32L381.84 623.26L377.16 623.26Z" fill="#000"/>
<path d="M396.67 624.79L399.01 628.74L394.32 628.74Z" fill="#000"/>
<path d="M413.83 590.72L416.18 594.67L411.49 594.67Z" fill="#000"/>
<path d="M431.00 619.32L433.34 623.26L428.66 623.26Z" fill="#000"/>
<path d="M448.17 626.31L450.51 630.26L445.82 630.26Z" fill="#000"/>
<path d="M465.33 643.65L467.68 647.60L462.99 647.60Z" fill="#000"/>
<path d="M482.50 637.26L484.84 641.21L480.16 641.21Z" fill="#000"/>
<path d="M499.67 637.26L502.01 641.21L497.32 641.21Z" fill="#000"/>
<path d="M516.83 642.28L519.18 646.23L514.49 646.23Z" fill="#000"/>
<path d="M534.00 629.35L536.34 633.30L531.66 633.30Z" fill="#000"/>
<path d="M551.17 643.65L553.51 647.60L548.82 647.60Z" fill="#000"/>
<path d="M568.33 656.12L570.68 660.07L565.99 660.07Z" fill="#000"/>
<path d="M585.50 662.81L587.84 666.76L583.16 666.76Z" fill="#000"/>
<rect x="377.71" y="624.26" width="3.57" height="3.57" fill="#ff0000"/>
<rect x="394.88" y="623.34" width="3.57" height="3.57" fill="#ff0000"/>
<rect x="412.05" y="579.85" width="3.57" height="3.57" fill="#ff0000"/>
<rect x="429.21" y="608.44" width="3.57" height="3.57" fill="#ff0000"/>
<rect x="446.38" y="616.96" width="3.57" height="3.57" fill="#ff0000"/>
<rect x="463.55" y="633.08" width="3.57" height="3.57" fill="#ff0000"/>
<rect x="480.71" y="632.47" width="3.57" height="3.57" fill="#ff0000"/>
<rect x="497.88" y="642.81" width="3.57" height="3.57" fill="#ff0000"/>
<rect x="515.05" y="658.02" width="3.57" height="3.57" fill="#ff0000"/>
<rect x="532.22" y="636.12" width="3.57" height="3.57" fill="#ff0000"/>
<rect x="549.38" y="658.63" width="3.57" height="3.57" fill="#ff0000"/>
<rect x="566.55" y="642.51" width="3.57" height="3.57" fill="#ff0000"/>
<rect x="583.72" y="659.24" width="3.57" height="3.57" fill="#ff0000"/>
<path d="M379.50 622.66L381.84 626.61L377.16 626.61Z" fill="#ff0000"/>
<path d="M396.67 614.14L399.01 618.09L394.32 618.09Z" fill="#ff0000"/>
<path d="M413.83 579.17L416.18 583.11L411.49 583.11Z" fill="#ff0000"/>
<path d="M431.00 591.03L433.34 594.98L428.66 594.98Z" fill="#ff0000"/>
<path d="M448.17 616.27L450.51 620.22L445.82 620.22Z" fill="#ff0000"/>
<path d="M465.33 631.79L467.68 635.73L462.99 635.73Z" fill="#ff0000"/>
<path d="M482.50 646.08L484.84 650.03L480.16 650.03Z" fill="#ff0000"/>
<path d="M499.67 623.57L502.01 627.52L497.32 627.52Z" fill="#ff0000"/>
<path d="M516.83 635.44L519.18 639.38L514.49 639.38Z" fill="#ff0000"/>
<path d="M534.00 635.44L536.34 639.38L531.66 639.38Z" fill="#ff0000"/>
<path d="M551.17 646.69L553.51 650.64L548.82 650.64Z" fill="#ff0000"/>
<path d="M568.33 644.26L570.68 648.21L565.99 648.21Z" fill="#ff0000"/>
<path d="M585.50 642.74L587.84 646.68L583.16 646.68Z" fill="#ff0000"/>
<rect x="377.71" y="623.34" width="3.57" height="3.57" fill="#00ee00"/>
<rect x="394.88" y="634.75" width="3.57" height="3.57" fill="#00ee00"/>
<rect x="412.05" y="591.10" width="3.57" height="3.57" fill="#00ee00"/>
<rect x="429.21" y="584.11" width="3.57" height="3.57" fill="#00ee00"/>
<rect x="446.38" y="593.23" width="3.57" height="3.57" fill="#00ee00"/>
<rect x="463.55" y="628.51" width="3.57" height="3.57" fill="#00ee00"/>
<rect x="480.71" y="632.47" width="3.57" height="3.57" fill="#00ee00"/>
<rect x="497.88" y="640.07" width="3.57" height="3.57" fill="#00ee00"/>
<rect x="515.05" y="663.80" width="3.57" height="3.57" fill="#00ee00"/>
<rect x="532.22" y="648.59" width="3.57" height="3.57" fill="#00ee00"/>
<rect x="549.38" y="661.37" width="3.57" height="3.57" fill="#00ee00"/>
<rect x="566.55" y="662.28" width="3.57" height="3.57" fill="#00ee00"/>
<path d="M379.50 621.14L381.84 625.09L377.16 625.09Z" fill="#00ee00"/>
<path d="M396.67 631.18L399.01 635.13L394.32 635.13Z" fill="#00ee00"/>
<path d="M413.83 558.79L416.18 562.73L411.49 562.73Z" fill="#00ee00"/>
<path d="M431.00 577.34L433.34 581.29L428.66 581.29Z" fill="#00ee00"/>
<path d="M448.17 601.98L450.51 605.93L445.82 605.93Z" fill="#00ee00"/>
<path d="M465.33 619.92L467.68 623.87L462.99 623.87Z" fill="#00ee00"/>
<path d="M482.50 624.49L484.84 628.43L480.16 628.43Z" fill="#00ee00"/>
<path d="M499.67 639.39L502.01 643.34L497.32 643.34Z" fill="#00ee00"/>
<path d="M516.83 622.36L519.18 626.31L514.49 626.31Z" fill="#00ee00"/>
<path d="M534.00 635.44L536.34 639.38L531.66 639.38Z" fill="#00ee00"/>
<path d="M551.17 611.41L553.51 615.36L548.82 615.36Z" fill="#00ee00"/>
<path d="M568.33 644.26L570.68 648.21L565.99 648.21Z" fill="#00ee00"/>
<circle cx="379.50" cy="618.56" r="1.99" fill="#000"/>
<circle cx="396.67" cy="609.01" r="1.99" fill="#000"/>
<circle cx="413.83" cy="549.39" r="1.99" fill="#000"/>
<circle cx="431.00" cy="557.91" r="1.99" fill="#000"/>
<circle cx="448.17" cy="576.77" r="1.99" fill="#000"/>
<circle cx="465.33" cy="594.41" r="1.99" fill="#000"/>
<circle cx="482.50" cy="595.02" r="1.99" fill="#000"/>
<circle cx="499.67" cy="607.49" r="1.99" fill="#000"/>
<circle cx="516.83" cy="610.53" r="1.99" fill="#000"/>
<circle cx="534.00" cy="615.70" r="1.99" fill="#000"/>
<circle cx="551.17" cy="613.57" r="1.99" fill="#000"/>
<circle cx="568.33" cy="627.26" r="1.99" fill="#000"/>
<circle cx="585.50" cy="609.31" r="1.99" fill="#000"/>
<circle cx="379.50" cy="624.22" r="1.99" fill="#ff0000"/>
<circle cx="396.67" cy="616.61" r="1.99" fill="#ff0000"/>
<circle cx="413.83" cy="582.55" r="1.99" fill="#ff0000"/>
<circle cx="431.00" cy="535.10" r="1.99" fill="#ff0000"/>
<circle cx="448.17" cy="586.80" r="1.99" fill="#ff0000"/>
<circle cx="465.33" cy="596.84" r="1.99" fill="#ff0000"/>
<circle cx="482.50" cy="609.31" r="1.99" fill="#ff0000"/>
<circle cx="499.67" cy="609.31" r="1.99" fill="#ff0000"/>
<circle cx="516.83" cy="612.35" r="1.99" fill="#ff0000"/>
<circle cx="534.00" cy="611.14" r="1.99" fill="#ff0000"/>
<circle cx="551.17" cy="612.96" r="1.99" fill="#ff0000"/>
<circle cx="568.33" cy="614.79" r="1.99" fill="#ff0000"/>
<circle cx="585.50" cy="614.18" r="1.99" fill="#ff0000"/>
<circle cx="379.50" cy="623.61" r="1.99" fill="#00ee00"/>
<circle cx="396.67" cy="622.70" r="1.99" fill="#00ee00"/>
<circle cx="413.83" cy="544.52" r="1.99" fill="#00ee00"/>
<circle cx="431.00" cy="538.44" r="1.99" fill="#00ee00"/>
<circle cx="448.17" cy="570.07" r="1.99" fill="#00ee00"/>
<circle cx="465.33" cy="588.63" r="1.99" fill="#00ee00"/>
<circle cx="482.50" cy="575.55" r="1.99" fill="#00ee00"/>
<circle cx="499.67" cy="577.38" r="1.99" fill="#00ee00"/>
<circle cx="516.83" cy="612.96" r="1.99" fill="#00ee00"/>
<circle cx="534.00" cy="597.15" r="1.99" fill="#00ee00"/>
<circle cx="551.17" cy="605.97" r="1.99" fill="#00ee00"/>
<circle cx="568.33" cy="619.05" r="1.99" fill="#00ee00"/>
<rect x="519.75" y="501.25" width="83.0" height="81.25" fill="#fff" stroke="#555" stroke-width="0.6"/>
<rect x="525.05" y="503.30" width="3.40" height="3.40" fill="#000"/>
<text x="534" y="507.02" font-size="5.6" fill="#000" stroke="#000" stroke-width="0.12"><tspan font-size="3.08" dy="-1.57">204</tspan><tspan dy="1.57">Tl S1</tspan></text>
<circle cx="526.75" cy="511.70" r="1.90" fill="#000"/>
<text x="534" y="513.72" font-size="5.6" fill="#000" stroke="#000" stroke-width="0.12"><tspan font-size="3.08" dy="-1.57">204</tspan><tspan dy="1.57">Tl S12</tspan></text>
<path d="M526.75 516.06L528.98 519.82L524.52 519.82Z" fill="#000"/>
<text x="534" y="520.43" font-size="5.6" fill="#000" stroke="#000" stroke-width="0.12"><tspan font-size="3.08" dy="-1.57">204</tspan><tspan dy="1.57">Tl S2</tspan></text>
<rect x="525.05" y="523.41" width="3.40" height="3.40" fill="#ff0000"/>
<text x="534" y="527.13" font-size="5.6" fill="#000" stroke="#000" stroke-width="0.12"><tspan font-size="3.08" dy="-1.57">137</tspan><tspan dy="1.57">Cs S1</tspan></text>
<circle cx="526.75" cy="531.82" r="1.90" fill="#ff0000"/>
<text x="534" y="533.83" font-size="5.6" fill="#000" stroke="#000" stroke-width="0.12"><tspan font-size="3.08" dy="-1.57">137</tspan><tspan dy="1.57">Cs S12</tspan></text>
<path d="M526.75 536.17L528.98 539.93L524.52 539.93Z" fill="#ff0000"/>
<text x="534" y="540.54" font-size="5.6" fill="#000" stroke="#000" stroke-width="0.12"><tspan font-size="3.08" dy="-1.57">137</tspan><tspan dy="1.57">Cs S2</tspan></text>
<rect x="525.05" y="543.53" width="3.40" height="3.40" fill="#00ee00"/>
<text x="534" y="547.24" font-size="5.6" fill="#000" stroke="#000" stroke-width="0.12"><tspan font-size="3.08" dy="-1.57">22</tspan><tspan dy="1.57">Na S1</tspan></text>
<circle cx="526.75" cy="551.93" r="1.90" fill="#00ee00"/>
<text x="534" y="553.95" font-size="5.6" fill="#000" stroke="#000" stroke-width="0.12"><tspan font-size="3.08" dy="-1.57">22</tspan><tspan dy="1.57">Na S12</tspan></text>
<path d="M526.75 556.29L528.98 560.05L524.52 560.05Z" fill="#00ee00"/>
<text x="534" y="560.65" font-size="5.6" fill="#000" stroke="#000" stroke-width="0.12"><tspan font-size="3.08" dy="-1.57">22</tspan><tspan dy="1.57">Na S2</tspan></text>
<line x1="521.5" y1="565.34" x2="532.5" y2="565.34" stroke="#777" stroke-width="0.6"/>
<text x="534" y="567.36" font-size="5.6" fill="#000" stroke="#000" stroke-width="0.1">Fit Curve <tspan font-size="3.08" dy="-1.57">204</tspan><tspan dy="1.57">Tl (R</tspan><tspan font-size="3.08" dy="-1.57">2</tspan><tspan dy="1.57"> =0.9381)</tspan></text>
<line x1="521.5" y1="572.05" x2="532.5" y2="572.05" stroke="#ff0000" stroke-width="0.6"/>
<text x="534" y="574.06" font-size="5.6" fill="#000" stroke="#000" stroke-width="0.1">Fit Curve <tspan font-size="3.08" dy="-1.57">137</tspan><tspan dy="1.57">Cs (R</tspan><tspan font-size="3.08" dy="-1.57">2</tspan><tspan dy="1.57"> =0.9913)</tspan></text>
<line x1="521.5" y1="578.75" x2="532.5" y2="578.75" stroke="#33dd33" stroke-width="0.6"/>
<text x="534" y="580.77" font-size="5.6" fill="#000" stroke="#000" stroke-width="0.1">Fit Curve <tspan font-size="3.08" dy="-1.57">22</tspan><tspan dy="1.57">Na (R</tspan><tspan font-size="3.08" dy="-1.57">2</tspan><tspan dy="1.57"> =0.8049)</tspan></text>
<path d="M41.5 755.3V944.8H283" fill="none" stroke="#262626" stroke-width="1"/>
<path d="M58.50 944.8v2.7M92.96 944.8v2.7M127.42 944.8v2.7M161.88 944.8v2.7M196.33 944.8v2.7M230.79 944.8v2.7M265.25 944.8v2.7M41.27 944.8v1.5M58.50 944.8v1.5M75.73 944.8v1.5M92.96 944.8v1.5M110.19 944.8v1.5M127.42 944.8v1.5M144.65 944.8v1.5M161.88 944.8v1.5M179.10 944.8v1.5M196.33 944.8v1.5M213.56 944.8v1.5M230.79 944.8v1.5M248.02 944.8v1.5M265.25 944.8v1.5M282.48 944.8v1.5M41.5 944.80h-2.7M41.5 925.87h-2.7M41.5 906.94h-2.7M41.5 888.01h-2.7M41.5 869.08h-2.7M41.5 850.15h-2.7M41.5 831.22h-2.7M41.5 812.29h-2.7M41.5 793.36h-2.7M41.5 774.43h-2.7M41.5 755.50h-2.7M41.5 935.33h-1.5M41.5 916.40h-1.5M41.5 897.47h-1.5M41.5 878.54h-1.5M41.5 859.62h-1.5M41.5 840.68h-1.5M41.5 821.75h-1.5M41.5 802.83h-1.5M41.5 783.89h-1.5M41.5 764.97h-1.5" stroke="#262626" stroke-width="0.8"/>
<text transform="translate(58.50 957.30) scale(1 1.15)" font-size="8.0" text-anchor="middle" fill="#222" stroke="#222" stroke-width="0.22">600</text>
<text transform="translate(92.96 957.30) scale(1 1.15)" font-size="8.0" text-anchor="middle" fill="#222" stroke="#222" stroke-width="0.22">700</text>
<text transform="translate(127.42 957.30) scale(1 1.15)" font-size="8.0" text-anchor="middle" fill="#222" stroke="#222" stroke-width="0.22">800</text>
<text transform="translate(161.88 957.30) scale(1 1.15)" font-size="8.0" text-anchor="middle" fill="#222" stroke="#222" stroke-width="0.22">900</text>
<text transform="translate(196.33 957.30) scale(1 1.15)" font-size="8.0" text-anchor="middle" fill="#222" stroke="#222" stroke-width="0.22">1000</text>
<text transform="translate(230.79 957.30) scale(1 1.15)" font-size="8.0" text-anchor="middle" fill="#222" stroke="#222" stroke-width="0.22">1100</text>
<text transform="translate(265.25 957.30) scale(1 1.15)" font-size="8.0" text-anchor="middle" fill="#222" stroke="#222" stroke-width="0.22">1200</text>
<text transform="translate(35.60 947.86) scale(1 1.15)" font-size="7.5" text-anchor="end" fill="#222" stroke="#222" stroke-width="0.22">-1.00</text>
<text transform="translate(35.60 928.93) scale(1 1.15)" font-size="7.5" text-anchor="end" fill="#222" stroke="#222" stroke-width="0.22">-0.75</text>
<text transform="translate(35.60 910.00) scale(1 1.15)" font-size="7.5" text-anchor="end" fill="#222" stroke="#222" stroke-width="0.22">-0.50</text>
<text transform="translate(35.60 891.07) scale(1 1.15)" font-size="7.5" text-anchor="end" fill="#222" stroke="#222" stroke-width="0.22">-0.25</text>
<text transform="translate(35.60 872.14) scale(1 1.15)" font-size="7.5" text-anchor="end" fill="#222" stroke="#222" stroke-width="0.22">0.00</text>
<text transform="translate(35.60 853.21) scale(1 1.15)" font-size="7.5" text-anchor="end" fill="#222" stroke="#222" stroke-width="0.22">0.25</text>
<text transform="translate(35.60 834.28) scale(1 1.15)" font-size="7.5" text-anchor="end" fill="#222" stroke="#222" stroke-width="0.22">0.50</text>
<text transform="translate(35.60 815.35) scale(1 1.15)" font-size="7.5" text-anchor="end" fill="#222" stroke="#222" stroke-width="0.22">0.75</text>
<text transform="translate(35.60 796.42) scale(1 1.15)" font-size="7.5" text-anchor="end" fill="#222" stroke="#222" stroke-width="0.22">1.00</text>
<text transform="translate(35.60 777.49) scale(1 1.15)" font-size="7.5" text-anchor="end" fill="#222" stroke="#222" stroke-width="0.22">1.25</text>
<text transform="translate(35.60 758.56) scale(1 1.15)" font-size="7.5" text-anchor="end" fill="#222" stroke="#222" stroke-width="0.22">1.50</text>
<text x="162.20" y="973.75" font-size="10.0" font-weight="bold" text-anchor="middle" fill="#111">Voltage (V)</text>
<text transform="translate(10.60 850.00) rotate(-90)" font-size="10.07" font-weight="bold" text-anchor="middle" fill="#111">Area (V.s)</text>
<text x="162.00" y="996.10" style="font-family:&quot;Liberation Serif&quot;,serif" font-size="15.6" text-anchor="middle" fill="#111">(g)</text>
<path d="M110.19 796.24L112.77 800.22L115.36 804.02L117.94 807.66L120.53 811.12L123.11 814.43L125.69 817.59L128.28 820.61L130.86 823.49L133.45 826.24L136.03 828.86L138.62 831.37L141.20 833.76L143.78 836.05L146.37 838.23L148.95 840.31L151.54 842.30L154.12 844.20L156.71 846.01L159.29 847.74L161.88 849.39L164.46 850.97L167.04 852.48L169.63 853.91L172.21 855.29L174.80 856.60L177.38 857.85L179.97 859.04L182.55 860.18L185.13 861.27L187.72 862.31L190.30 863.30L192.89 864.25L195.47 865.15L198.06 866.02L200.64 866.84L203.22 867.63L205.81 868.38L208.39 869.10L210.98 869.78L213.56 870.44L216.15 871.06L218.73 871.66L221.32 872.22L223.90 872.77L226.48 873.29L229.07 873.78L231.65 874.25L234.24 874.71L236.82 875.14L239.41 875.55L241.99 875.94L244.57 876.32L247.16 876.67L249.74 877.02L252.33 877.34L254.91 877.65L257.50 877.95L260.08 878.24L262.67 878.51L265.25 878.77" fill="none" stroke="#444" stroke-width="0.6"/>
<path d="M110.19 781.24L112.77 786.30L115.36 791.10L117.94 795.66L120.53 799.98L123.11 804.08L125.69 807.97L128.28 811.67L130.86 815.17L133.45 818.50L136.03 821.66L138.62 824.66L141.20 827.50L143.78 830.20L146.37 832.76L148.95 835.19L151.54 837.50L154.12 839.69L156.71 841.76L159.29 843.74L161.88 845.61L164.46 847.38L167.04 849.07L169.63 850.67L172.21 852.18L174.80 853.63L177.38 854.99L179.97 856.29L182.55 857.52L185.13 858.69L187.72 859.80L190.30 860.85L192.89 861.85L195.47 862.80L198.06 863.70L200.64 864.55L203.22 865.36L205.81 866.13L208.39 866.86L210.98 867.55L213.56 868.21L216.15 868.83L218.73 869.42L221.32 869.98L223.90 870.52L226.48 871.02L229.07 871.50L231.65 871.96L234.24 872.39L236.82 872.80L239.41 873.19L241.99 873.56L244.57 873.91L247.16 874.24L249.74 874.56L252.33 874.86L254.91 875.14L257.50 875.41L260.08 875.67L262.67 875.91L265.25 876.14" fill="none" stroke="#ff0000" stroke-width="0.6"/>
<path d="M110.19 776.25L112.48 780.81L114.78 785.17L117.08 789.34L119.38 793.32L121.67 797.12L123.97 800.75L126.27 804.22L128.57 807.53L130.86 810.69L133.16 813.72L135.46 816.60L137.75 819.36L140.05 821.99L142.35 824.51L144.65 826.91L146.94 829.21L149.24 831.40L151.54 833.50L153.83 835.50L156.13 837.41L158.43 839.23L160.73 840.98L163.02 842.64L165.32 844.24L167.62 845.76L169.92 847.21L172.21 848.59L174.51 849.92L176.81 851.18L179.10 852.39L181.40 853.55L183.70 854.65L186.00 855.70L188.29 856.71L190.59 857.67L192.89 858.59L195.18 859.47L197.48 860.30L199.78 861.10L202.08 861.87L204.37 862.60L206.67 863.29L208.97 863.96L211.27 864.60L213.56 865.21L215.86 865.79L218.16 866.34L220.45 866.87L222.75 867.38L225.05 867.86L227.35 868.32L229.64 868.76L231.94 869.18L234.24 869.59L236.53 869.97L238.83 870.34L241.13 870.69L243.43 871.02L245.72 871.34L248.02 871.65" fill="none" stroke="#33dd33" stroke-width="0.6"/>
<rect x="56.72" y="861.24" width="3.57" height="3.57" fill="#000"/>
<rect x="73.94" y="846.09" width="3.57" height="3.57" fill="#000"/>
<rect x="91.17" y="820.35" width="3.57" height="3.57" fill="#000"/>
<rect x="108.40" y="856.85" width="3.57" height="3.57" fill="#000"/>
<rect x="125.63" y="880.09" width="3.57" height="3.57" fill="#000"/>
<rect x="142.86" y="892.59" width="3.57" height="3.57" fill="#000"/>
<rect x="160.09" y="901.07" width="3.57" height="3.57" fill="#000"/>
<rect x="177.32" y="910.53" width="3.57" height="3.57" fill="#000"/>
<rect x="194.55" y="912.73" width="3.57" height="3.57" fill="#000"/>
<rect x="211.78" y="920.53" width="3.57" height="3.57" fill="#000"/>
<rect x="229.01" y="923.02" width="3.57" height="3.57" fill="#000"/>
<rect x="246.24" y="925.60" width="3.57" height="3.57" fill="#000"/>
<rect x="263.46" y="928.63" width="3.57" height="3.57" fill="#000"/>
<path d="M58.50 859.80L60.84 863.75L56.16 863.75Z" fill="#000"/>
<path d="M75.73 846.17L78.07 850.12L73.39 850.12Z" fill="#000"/>
<path d="M92.96 819.67L95.30 823.61L90.61 823.61Z" fill="#000"/>
<path d="M110.19 855.25L112.53 859.20L107.84 859.20Z" fill="#000"/>
<path d="M127.42 873.65L129.76 877.60L125.07 877.60Z" fill="#000"/>
<path d="M144.65 894.33L146.99 898.27L142.30 898.27Z" fill="#000"/>
<path d="M161.88 899.17L164.22 903.12L159.53 903.12Z" fill="#000"/>
<path d="M179.10 906.59L181.45 910.54L176.76 910.54Z" fill="#000"/>
<path d="M196.33 912.04L198.68 915.99L193.99 915.99Z" fill="#000"/>
<path d="M213.56 918.10L215.91 922.05L211.22 922.05Z" fill="#000"/>
<path d="M230.79 920.37L233.14 924.32L228.45 924.32Z" fill="#000"/>
<path d="M248.02 923.40L250.36 927.35L245.68 927.35Z" fill="#000"/>
<path d="M265.25 926.13L267.59 930.08L262.91 930.08Z" fill="#000"/>
<rect x="56.72" y="859.72" width="3.57" height="3.57" fill="#ff0000"/>
<rect x="73.94" y="850.64" width="3.57" height="3.57" fill="#ff0000"/>
<rect x="91.17" y="819.44" width="3.57" height="3.57" fill="#ff0000"/>
<rect x="108.40" y="846.85" width="3.57" height="3.57" fill="#ff0000"/>
<rect x="125.63" y="869.34" width="3.57" height="3.57" fill="#ff0000"/>
<rect x="142.86" y="887.74" width="3.57" height="3.57" fill="#ff0000"/>
<rect x="160.09" y="897.20" width="3.57" height="3.57" fill="#ff0000"/>
<rect x="177.32" y="898.34" width="3.57" height="3.57" fill="#ff0000"/>
<rect x="194.55" y="905.15" width="3.57" height="3.57" fill="#ff0000"/>
<rect x="211.78" y="914.24" width="3.57" height="3.57" fill="#ff0000"/>
<rect x="229.01" y="914.24" width="3.57" height="3.57" fill="#ff0000"/>
<rect x="246.24" y="921.06" width="3.57" height="3.57" fill="#ff0000"/>
<rect x="263.46" y="921.81" width="3.57" height="3.57" fill="#ff0000"/>
<path d="M58.50 859.04L60.84 862.99L56.16 862.99Z" fill="#ff0000"/>
<path d="M75.73 847.68L78.07 851.63L73.39 851.63Z" fill="#ff0000"/>
<path d="M92.96 814.21L95.30 818.16L90.61 818.16Z" fill="#ff0000"/>
<path d="M110.19 843.90L112.53 847.84L107.84 847.84Z" fill="#ff0000"/>
<path d="M127.42 868.88L129.76 872.83L125.07 872.83Z" fill="#ff0000"/>
<path d="M144.65 885.54L146.99 889.49L142.30 889.49Z" fill="#ff0000"/>
<path d="M161.88 893.87L164.22 897.82L159.53 897.82Z" fill="#ff0000"/>
<path d="M179.10 896.14L181.45 900.09L176.76 900.09Z" fill="#ff0000"/>
<path d="M196.33 902.35L198.68 906.30L193.99 906.30Z" fill="#ff0000"/>
<path d="M213.56 905.99L215.91 909.93L211.22 909.93Z" fill="#ff0000"/>
<path d="M230.79 911.29L233.14 915.24L228.45 915.24Z" fill="#ff0000"/>
<path d="M248.02 912.04L250.36 915.99L245.68 915.99Z" fill="#ff0000"/>
<path d="M265.25 916.13L267.59 920.08L262.91 920.08Z" fill="#ff0000"/>
<rect x="56.72" y="858.97" width="3.57" height="3.57" fill="#00ee00"/>
<rect x="73.94" y="855.63" width="3.57" height="3.57" fill="#00ee00"/>
<rect x="91.17" y="810.66" width="3.57" height="3.57" fill="#00ee00"/>
<rect x="108.40" y="844.35" width="3.57" height="3.57" fill="#00ee00"/>
<rect x="125.63" y="871.08" width="3.57" height="3.57" fill="#00ee00"/>
<rect x="142.86" y="885.09" width="3.57" height="3.57" fill="#00ee00"/>
<rect x="160.09" y="894.25" width="3.57" height="3.57" fill="#00ee00"/>
<rect x="177.32" y="898.34" width="3.57" height="3.57" fill="#00ee00"/>
<rect x="194.55" y="909.32" width="3.57" height="3.57" fill="#00ee00"/>
<rect x="211.78" y="908.94" width="3.57" height="3.57" fill="#00ee00"/>
<rect x="229.01" y="918.03" width="3.57" height="3.57" fill="#00ee00"/>
<rect x="246.24" y="918.78" width="3.57" height="3.57" fill="#00ee00"/>
<path d="M58.50 858.28L60.84 862.23L56.16 862.23Z" fill="#00ee00"/>
<path d="M75.73 857.00L78.07 860.94L73.39 860.94Z" fill="#00ee00"/>
<path d="M92.96 789.53L95.30 793.48L90.61 793.48Z" fill="#00ee00"/>
<path d="M110.19 829.96L112.53 833.91L107.84 833.91Z" fill="#00ee00"/>
<path d="M127.42 857.90L129.76 861.85L125.07 861.85Z" fill="#00ee00"/>
<path d="M144.65 874.41L146.99 878.36L142.30 878.36Z" fill="#00ee00"/>
<path d="M161.88 883.65L164.22 887.60L159.53 887.60Z" fill="#00ee00"/>
<path d="M179.10 888.57L181.45 892.52L176.76 892.52Z" fill="#00ee00"/>
<path d="M196.33 893.87L198.68 897.82L193.99 897.82Z" fill="#00ee00"/>
<path d="M213.56 900.38L215.91 904.33L211.22 904.33Z" fill="#00ee00"/>
<path d="M230.79 898.64L233.14 902.59L228.45 902.59Z" fill="#00ee00"/>
<path d="M248.02 904.47L250.36 908.42L245.68 908.42Z" fill="#00ee00"/>
<circle cx="58.50" cy="863.63" r="1.99" fill="#000"/>
<circle cx="75.73" cy="847.12" r="1.99" fill="#000"/>
<circle cx="92.96" cy="822.44" r="1.99" fill="#000"/>
<circle cx="110.19" cy="796.24" r="1.99" fill="#000"/>
<circle cx="127.42" cy="821.15" r="1.99" fill="#000"/>
<circle cx="144.65" cy="841.14" r="1.99" fill="#000"/>
<circle cx="161.88" cy="851.66" r="1.99" fill="#000"/>
<circle cx="179.10" cy="861.89" r="1.99" fill="#000"/>
<circle cx="196.33" cy="864.92" r="1.99" fill="#000"/>
<circle cx="213.56" cy="871.88" r="1.99" fill="#000"/>
<circle cx="230.79" cy="872.41" r="1.99" fill="#000"/>
<circle cx="248.02" cy="878.17" r="1.99" fill="#000"/>
<circle cx="265.25" cy="876.88" r="1.99" fill="#000"/>
<circle cx="58.50" cy="861.51" r="1.99" fill="#ff0000"/>
<circle cx="75.73" cy="850.91" r="1.99" fill="#ff0000"/>
<circle cx="92.96" cy="764.59" r="1.99" fill="#ff0000"/>
<circle cx="110.19" cy="781.24" r="1.99" fill="#ff0000"/>
<circle cx="127.42" cy="815.47" r="1.99" fill="#ff0000"/>
<circle cx="144.65" cy="836.14" r="1.99" fill="#ff0000"/>
<circle cx="161.88" cy="847.88" r="1.99" fill="#ff0000"/>
<circle cx="179.10" cy="857.42" r="1.99" fill="#ff0000"/>
<circle cx="196.33" cy="861.13" r="1.99" fill="#ff0000"/>
<circle cx="213.56" cy="866.66" r="1.99" fill="#ff0000"/>
<circle cx="230.79" cy="866.81" r="1.99" fill="#ff0000"/>
<circle cx="248.02" cy="870.37" r="1.99" fill="#ff0000"/>
<circle cx="265.25" cy="873.17" r="1.99" fill="#ff0000"/>
<circle cx="58.50" cy="859.92" r="1.99" fill="#00ee00"/>
<circle cx="75.73" cy="854.69" r="1.99" fill="#00ee00"/>
<circle cx="92.96" cy="781.47" r="1.99" fill="#00ee00"/>
<circle cx="110.19" cy="776.25" r="1.99" fill="#00ee00"/>
<circle cx="127.42" cy="809.94" r="1.99" fill="#00ee00"/>
<circle cx="144.65" cy="832.89" r="1.99" fill="#00ee00"/>
<circle cx="161.88" cy="843.34" r="1.99" fill="#00ee00"/>
<circle cx="179.10" cy="852.42" r="1.99" fill="#00ee00"/>
<circle cx="196.33" cy="858.63" r="1.99" fill="#00ee00"/>
<circle cx="213.56" cy="861.89" r="1.99" fill="#00ee00"/>
<circle cx="230.79" cy="865.37" r="1.99" fill="#00ee00"/>
<circle cx="248.02" cy="868.17" r="1.99" fill="#00ee00"/>
<rect x="190.25" y="757.5" width="89.25" height="87.0" fill="#fff" stroke="#555" stroke-width="0.6"/>
<rect x="196.05" y="760.20" width="3.40" height="3.40" fill="#000"/>
<text x="206.3" y="763.93" font-size="5.65" fill="#000" stroke="#000" stroke-width="0.12"><tspan font-size="3.11" dy="-1.58">204</tspan><tspan dy="1.58">Tl S1</tspan></text>
<circle cx="197.75" cy="769.08" r="1.90" fill="#000"/>
<text x="206.3" y="771.12" font-size="5.65" fill="#000" stroke="#000" stroke-width="0.12"><tspan font-size="3.11" dy="-1.58">204</tspan><tspan dy="1.58">Tl S12</tspan></text>
<path d="M197.75 773.91L199.98 777.67L195.52 777.67Z" fill="#000"/>
<text x="206.3" y="778.30" font-size="5.65" fill="#000" stroke="#000" stroke-width="0.12"><tspan font-size="3.11" dy="-1.58">204</tspan><tspan dy="1.58">Tl S2</tspan></text>
<rect x="196.05" y="781.75" width="3.40" height="3.40" fill="#ff0000"/>
<text x="206.3" y="785.48" font-size="5.65" fill="#000" stroke="#000" stroke-width="0.12"><tspan font-size="3.11" dy="-1.58">137</tspan><tspan dy="1.58">Cs S1</tspan></text>
<circle cx="197.75" cy="790.63" r="1.90" fill="#ff0000"/>
<text x="206.3" y="792.66" font-size="5.65" fill="#000" stroke="#000" stroke-width="0.12"><tspan font-size="3.11" dy="-1.58">137</tspan><tspan dy="1.58">Cs S12</tspan></text>
<path d="M197.75 795.46L199.98 799.22L195.52 799.22Z" fill="#ff0000"/>
<text x="206.3" y="799.84" font-size="5.65" fill="#000" stroke="#000" stroke-width="0.12"><tspan font-size="3.11" dy="-1.58">137</tspan><tspan dy="1.58">Cs S2</tspan></text>
<rect x="196.05" y="803.29" width="3.40" height="3.40" fill="#00ee00"/>
<text x="206.3" y="807.02" font-size="5.65" fill="#000" stroke="#000" stroke-width="0.12"><tspan font-size="3.11" dy="-1.58">22</tspan><tspan dy="1.58">Na S1</tspan></text>
<circle cx="197.75" cy="812.17" r="1.90" fill="#00ee00"/>
<text x="206.3" y="814.21" font-size="5.65" fill="#000" stroke="#000" stroke-width="0.12"><tspan font-size="3.11" dy="-1.58">22</tspan><tspan dy="1.58">Na S12</tspan></text>
<path d="M197.75 817.00L199.98 820.76L195.52 820.76Z" fill="#00ee00"/>
<text x="206.3" y="821.39" font-size="5.65" fill="#000" stroke="#000" stroke-width="0.12"><tspan font-size="3.11" dy="-1.58">22</tspan><tspan dy="1.58">Na S2</tspan></text>
<line x1="192" y1="826.54" x2="204.5" y2="826.54" stroke="#777" stroke-width="0.6"/>
<text x="206.5" y="828.57" font-size="5.65" fill="#000" stroke="#000" stroke-width="0.1">Fit Curve <tspan font-size="3.11" dy="-1.58">204</tspan><tspan dy="1.58">Tl (R</tspan><tspan font-size="3.11" dy="-1.58">2</tspan><tspan dy="1.58"> =0.9973)</tspan></text>
<line x1="192" y1="833.72" x2="204.5" y2="833.72" stroke="#ff0000" stroke-width="0.6"/>
<text x="206.5" y="835.75" font-size="5.65" fill="#000" stroke="#000" stroke-width="0.1">Fit Curve <tspan font-size="3.11" dy="-1.58">137</tspan><tspan dy="1.58">Cs (R</tspan><tspan font-size="3.11" dy="-1.58">2</tspan><tspan dy="1.58"> =0.9967)</tspan></text>
<line x1="192" y1="840.90" x2="204.5" y2="840.90" stroke="#33dd33" stroke-width="0.6"/>
<text x="206.5" y="842.93" font-size="5.65" fill="#000" stroke="#000" stroke-width="0.1">Fit Curve <tspan font-size="3.11" dy="-1.58">22</tspan><tspan dy="1.58">Na (R</tspan><tspan font-size="3.11" dy="-1.58">2</tspan><tspan dy="1.58"> =0.9983)</tspan></text>
<path d="M368.9 757V943.6H626.5" fill="none" stroke="#262626" stroke-width="1"/>
<path d="M387.50 943.6v2.3M424.29 943.6v2.3M461.08 943.6v2.3M497.88 943.6v2.3M534.67 943.6v2.3M571.46 943.6v2.3M608.25 943.6v2.3M369.10 943.6v1.5M387.50 943.6v1.5M405.90 943.6v1.5M424.29 943.6v1.5M442.69 943.6v1.5M461.08 943.6v1.5M479.48 943.6v1.5M497.88 943.6v1.5M516.27 943.6v1.5M534.67 943.6v1.5M553.06 943.6v1.5M571.46 943.6v1.5M589.85 943.6v1.5M608.25 943.6v1.5M626.65 943.6v1.5M368.9 943.75h-2.3M368.9 932.09h-2.3M368.9 920.43h-2.3M368.9 908.77h-2.3M368.9 897.11h-2.3M368.9 885.45h-2.3M368.9 873.79h-2.3M368.9 862.13h-2.3M368.9 850.48h-2.3M368.9 838.82h-2.3M368.9 827.16h-2.3M368.9 815.50h-2.3M368.9 803.84h-2.3M368.9 792.18h-2.3M368.9 780.52h-2.3M368.9 768.86h-2.3M368.9 757.20h-2.3M368.9 937.92h-1.5M368.9 926.26h-1.5M368.9 914.60h-1.5M368.9 902.94h-1.5M368.9 891.28h-1.5M368.9 879.62h-1.5M368.9 867.96h-1.5M368.9 856.30h-1.5M368.9 844.65h-1.5M368.9 832.99h-1.5M368.9 821.33h-1.5M368.9 809.67h-1.5M368.9 798.01h-1.5M368.9 786.35h-1.5M368.9 774.69h-1.5M368.9 763.03h-1.5" stroke="#262626" stroke-width="0.8"/>
<text transform="translate(387.50 955.10) scale(1 1.15)" font-size="7.0" text-anchor="middle" fill="#222" stroke="#222" stroke-width="0.22">600</text>
<text transform="translate(424.29 955.10) scale(1 1.15)" font-size="7.0" text-anchor="middle" fill="#222" stroke="#222" stroke-width="0.22">700</text>
<text transform="translate(461.08 955.10) scale(1 1.15)" font-size="7.0" text-anchor="middle" fill="#222" stroke="#222" stroke-width="0.22">800</text>
<text transform="translate(497.88 955.10) scale(1 1.15)" font-size="7.0" text-anchor="middle" fill="#222" stroke="#222" stroke-width="0.22">900</text>
<text transform="translate(534.67 955.10) scale(1 1.15)" font-size="7.0" text-anchor="middle" fill="#222" stroke="#222" stroke-width="0.22">1000</text>
<text transform="translate(571.46 955.10) scale(1 1.15)" font-size="7.0" text-anchor="middle" fill="#222" stroke="#222" stroke-width="0.22">1100</text>
<text transform="translate(608.25 955.10) scale(1 1.15)" font-size="7.0" text-anchor="middle" fill="#222" stroke="#222" stroke-width="0.22">1200</text>
<text transform="translate(362.90 946.61) scale(1 1.15)" font-size="7.0" text-anchor="end" fill="#222" stroke="#222" stroke-width="0.22">20</text>
<text transform="translate(362.90 934.95) scale(1 1.15)" font-size="7.0" text-anchor="end" fill="#222" stroke="#222" stroke-width="0.22">25</text>
<text transform="translate(362.90 923.29) scale(1 1.15)" font-size="7.0" text-anchor="end" fill="#222" stroke="#222" stroke-width="0.22">30</text>
<text transform="translate(362.90 911.63) scale(1 1.15)" font-size="7.0" text-anchor="end" fill="#222" stroke="#222" stroke-width="0.22">35</text>
<text transform="translate(362.90 899.97) scale(1 1.15)" font-size="7.0" text-anchor="end" fill="#222" stroke="#222" stroke-width="0.22">40</text>
<text transform="translate(362.90 888.31) scale(1 1.15)" font-size="7.0" text-anchor="end" fill="#222" stroke="#222" stroke-width="0.22">45</text>
<text transform="translate(362.90 876.65) scale(1 1.15)" font-size="7.0" text-anchor="end" fill="#222" stroke="#222" stroke-width="0.22">50</text>
<text transform="translate(362.90 864.99) scale(1 1.15)" font-size="7.0" text-anchor="end" fill="#222" stroke="#222" stroke-width="0.22">55</text>
<text transform="translate(362.90 853.33) scale(1 1.15)" font-size="7.0" text-anchor="end" fill="#222" stroke="#222" stroke-width="0.22">60</text>
<text transform="translate(362.90 841.67) scale(1 1.15)" font-size="7.0" text-anchor="end" fill="#222" stroke="#222" stroke-width="0.22">65</text>
<text transform="translate(362.90 830.01) scale(1 1.15)" font-size="7.0" text-anchor="end" fill="#222" stroke="#222" stroke-width="0.22">70</text>
<text transform="translate(362.90 818.35) scale(1 1.15)" font-size="7.0" text-anchor="end" fill="#222" stroke="#222" stroke-width="0.22">75</text>
<text transform="translate(362.90 806.70) scale(1 1.15)" font-size="7.0" text-anchor="end" fill="#222" stroke="#222" stroke-width="0.22">80</text>
<text transform="translate(362.90 795.04) scale(1 1.15)" font-size="7.0" text-anchor="end" fill="#222" stroke="#222" stroke-width="0.22">85</text>
<text transform="translate(362.90 783.38) scale(1 1.15)" font-size="7.0" text-anchor="end" fill="#222" stroke="#222" stroke-width="0.22">90</text>
<text transform="translate(362.90 771.72) scale(1 1.15)" font-size="7.0" text-anchor="end" fill="#222" stroke="#222" stroke-width="0.22">95</text>
<text transform="translate(362.90 760.06) scale(1 1.15)" font-size="7.0" text-anchor="end" fill="#222" stroke="#222" stroke-width="0.22">100</text>
<text x="497.90" y="971.90" font-size="9.7" font-weight="bold" text-anchor="middle" fill="#111">Voltage (V)</text>
<text transform="translate(343.80 850.20) rotate(-90)" font-size="9.6" font-weight="bold" text-anchor="middle" fill="#111">Postive Duty</text>
<text x="505.50" y="993.60" style="font-family:&quot;Liberation Serif&quot;,serif" font-size="15.6" text-anchor="middle" fill="#111">(h)</text>
<path d="M442.69 842.08L445.45 843.07L448.21 844.01L450.97 844.91L453.73 845.76L456.48 846.56L459.24 847.33L462.00 848.06L464.76 848.74L467.52 849.40L470.28 850.02L473.04 850.61L475.80 851.17L478.56 851.70L481.32 852.21L484.08 852.69L486.84 853.14L489.60 853.57L492.36 853.98L495.12 854.37L497.88 854.74L500.63 855.09L503.39 855.43L506.15 855.74L508.91 856.04L511.67 856.33L514.43 856.60L517.19 856.86L519.95 857.10L522.71 857.33L525.47 857.55L528.23 857.76L530.99 857.96L533.75 858.14L536.51 858.32L539.27 858.49L542.02 858.65L544.78 858.81L547.54 858.95L550.30 859.09L553.06 859.22L555.82 859.34L558.58 859.46L561.34 859.57L564.10 859.68L566.86 859.78L569.62 859.88L572.38 859.97L575.14 860.05L577.90 860.13L580.66 860.21L583.42 860.29L586.17 860.36L588.93 860.42L591.69 860.49L594.45 860.55L597.21 860.60L599.97 860.66L602.73 860.71L605.49 860.76L608.25 860.80" fill="none" stroke="#444" stroke-width="0.6"/>
<path d="M442.69 834.15L445.45 837.63L448.21 840.66L450.97 843.30L453.73 845.59L456.48 847.59L459.24 849.33L462.00 850.84L464.76 852.15L467.52 853.30L470.28 854.30L473.04 855.16L475.80 855.92L478.56 856.57L481.32 857.14L484.08 857.64L486.84 858.07L489.60 858.45L492.36 858.78L495.12 859.06L497.88 859.31L500.63 859.52L503.39 859.71L506.15 859.87L508.91 860.02L511.67 860.14L514.43 860.25L517.19 860.34L519.95 860.42L522.71 860.49L525.47 860.56L528.23 860.61L530.99 860.66L533.75 860.70L536.51 860.73L539.27 860.76L542.02 860.79L544.78 860.81L547.54 860.83L550.30 860.85L553.06 860.87L555.82 860.88L558.58 860.89L561.34 860.90L564.10 860.91L566.86 860.92L569.62 860.92L572.38 860.93L575.14 860.93L577.90 860.94L580.66 860.94L583.42 860.95L586.17 860.95L588.93 860.95L591.69 860.95L594.45 860.96L597.21 860.96L599.97 860.96L602.73 860.96L605.49 860.96L608.25 860.96" fill="none" stroke="#ff0000" stroke-width="0.6"/>
<path d="M442.69 836.48L445.14 837.24L447.59 837.97L450.05 838.68L452.50 839.37L454.95 840.03L457.40 840.68L459.86 841.31L462.31 841.92L464.76 842.52L467.22 843.09L469.67 843.65L472.12 844.19L474.57 844.72L477.03 845.23L479.48 845.73L481.93 846.21L484.38 846.68L486.84 847.13L489.29 847.57L491.74 848.00L494.20 848.41L496.65 848.82L499.10 849.21L501.55 849.59L504.01 849.96L506.46 850.31L508.91 850.66L511.37 851.00L513.82 851.32L516.27 851.64L518.72 851.95L521.18 852.25L523.63 852.54L526.08 852.82L528.53 853.09L530.99 853.36L533.44 853.62L535.89 853.87L538.35 854.11L540.80 854.34L543.25 854.57L545.70 854.80L548.16 855.01L550.61 855.22L553.06 855.42L555.52 855.62L557.97 855.81L560.42 856.00L562.87 856.18L565.33 856.35L567.78 856.52L570.23 856.69L572.68 856.85L575.14 857.00L577.59 857.15L580.04 857.30L582.50 857.44L584.95 857.58L587.40 857.71L589.85 857.84" fill="none" stroke="#33dd33" stroke-width="0.6"/>
<rect x="385.71" y="911.65" width="3.57" height="3.57" fill="#000"/>
<rect x="404.11" y="863.85" width="3.57" height="3.57" fill="#000"/>
<rect x="422.51" y="847.52" width="3.57" height="3.57" fill="#000"/>
<rect x="440.90" y="858.25" width="3.57" height="3.57" fill="#000"/>
<rect x="459.30" y="863.85" width="3.57" height="3.57" fill="#000"/>
<rect x="477.69" y="872.01" width="3.57" height="3.57" fill="#000"/>
<rect x="496.09" y="868.98" width="3.57" height="3.57" fill="#000"/>
<rect x="514.49" y="872.71" width="3.57" height="3.57" fill="#000"/>
<rect x="532.88" y="870.38" width="3.57" height="3.57" fill="#000"/>
<rect x="551.28" y="867.35" width="3.57" height="3.57" fill="#000"/>
<rect x="569.67" y="870.38" width="3.57" height="3.57" fill="#000"/>
<rect x="588.07" y="878.77" width="3.57" height="3.57" fill="#000"/>
<rect x="606.47" y="872.01" width="3.57" height="3.57" fill="#000"/>
<path d="M387.50 913.30L389.84 917.25L385.16 917.25Z" fill="#000"/>
<path d="M405.90 866.66L408.24 870.61L403.55 870.61Z" fill="#000"/>
<path d="M424.29 848.01L426.64 851.96L421.95 851.96Z" fill="#000"/>
<path d="M442.69 861.77L445.03 865.71L440.34 865.71Z" fill="#000"/>
<path d="M461.08 863.16L463.43 867.11L458.74 867.11Z" fill="#000"/>
<path d="M479.48 871.33L481.82 875.27L477.14 875.27Z" fill="#000"/>
<path d="M497.88 868.29L500.22 872.24L495.53 872.24Z" fill="#000"/>
<path d="M516.27 872.03L518.61 875.97L513.93 875.97Z" fill="#000"/>
<path d="M534.67 871.33L537.01 875.27L532.32 875.27Z" fill="#000"/>
<path d="M553.06 863.86L555.41 867.81L550.72 867.81Z" fill="#000"/>
<path d="M571.46 869.69L573.80 873.64L569.11 873.64Z" fill="#000"/>
<path d="M589.85 873.89L592.20 877.84L587.51 877.84Z" fill="#000"/>
<path d="M608.25 877.16L610.59 881.10L605.91 881.10Z" fill="#000"/>
<rect x="385.71" y="918.65" width="3.57" height="3.57" fill="#ff0000"/>
<rect x="404.11" y="867.11" width="3.57" height="3.57" fill="#ff0000"/>
<rect x="422.51" y="849.62" width="3.57" height="3.57" fill="#ff0000"/>
<rect x="440.90" y="858.25" width="3.57" height="3.57" fill="#ff0000"/>
<rect x="459.30" y="860.35" width="3.57" height="3.57" fill="#ff0000"/>
<rect x="477.69" y="853.35" width="3.57" height="3.57" fill="#ff0000"/>
<rect x="496.09" y="870.84" width="3.57" height="3.57" fill="#ff0000"/>
<rect x="514.49" y="862.68" width="3.57" height="3.57" fill="#ff0000"/>
<rect x="532.88" y="874.11" width="3.57" height="3.57" fill="#ff0000"/>
<rect x="551.28" y="872.01" width="3.57" height="3.57" fill="#ff0000"/>
<rect x="569.67" y="873.17" width="3.57" height="3.57" fill="#ff0000"/>
<rect x="588.07" y="869.44" width="3.57" height="3.57" fill="#ff0000"/>
<rect x="606.47" y="875.27" width="3.57" height="3.57" fill="#ff0000"/>
<path d="M387.50 917.96L389.84 921.91L385.16 921.91Z" fill="#ff0000"/>
<path d="M405.90 870.63L408.24 874.57L403.55 874.57Z" fill="#ff0000"/>
<path d="M424.29 848.01L426.64 851.96L421.95 851.96Z" fill="#ff0000"/>
<path d="M442.69 851.27L445.03 855.22L440.34 855.22Z" fill="#ff0000"/>
<path d="M461.08 859.67L463.43 863.61L458.74 863.61Z" fill="#ff0000"/>
<path d="M479.48 866.43L481.82 870.38L477.14 870.38Z" fill="#ff0000"/>
<path d="M497.88 871.33L500.22 875.27L495.53 875.27Z" fill="#ff0000"/>
<path d="M516.27 862.00L518.61 865.95L513.93 865.95Z" fill="#ff0000"/>
<path d="M534.67 865.50L537.01 869.44L532.32 869.44Z" fill="#ff0000"/>
<path d="M553.06 868.99L555.41 872.94L550.72 872.94Z" fill="#ff0000"/>
<path d="M571.46 871.33L573.80 875.27L569.11 875.27Z" fill="#ff0000"/>
<path d="M589.85 868.76L592.20 872.71L587.51 872.71Z" fill="#ff0000"/>
<path d="M608.25 868.76L610.59 872.71L605.91 872.71Z" fill="#ff0000"/>
<rect x="385.71" y="921.44" width="3.57" height="3.57" fill="#00ee00"/>
<rect x="404.11" y="878.30" width="3.57" height="3.57" fill="#00ee00"/>
<rect x="422.51" y="852.89" width="3.57" height="3.57" fill="#00ee00"/>
<rect x="440.90" y="849.62" width="3.57" height="3.57" fill="#00ee00"/>
<rect x="459.30" y="853.82" width="3.57" height="3.57" fill="#00ee00"/>
<rect x="477.69" y="864.55" width="3.57" height="3.57" fill="#00ee00"/>
<rect x="496.09" y="865.71" width="3.57" height="3.57" fill="#00ee00"/>
<rect x="514.49" y="869.44" width="3.57" height="3.57" fill="#00ee00"/>
<rect x="532.88" y="877.14" width="3.57" height="3.57" fill="#00ee00"/>
<rect x="551.28" y="868.28" width="3.57" height="3.57" fill="#00ee00"/>
<rect x="569.67" y="875.27" width="3.57" height="3.57" fill="#00ee00"/>
<rect x="588.07" y="877.14" width="3.57" height="3.57" fill="#00ee00"/>
<path d="M387.50 913.30L389.84 917.25L385.16 917.25Z" fill="#00ee00"/>
<path d="M405.90 874.36L408.24 878.31L403.55 878.31Z" fill="#00ee00"/>
<path d="M424.29 852.20L426.64 856.15L421.95 856.15Z" fill="#00ee00"/>
<path d="M442.69 846.38L445.03 850.32L440.34 850.32Z" fill="#00ee00"/>
<path d="M461.08 855.00L463.43 858.95L458.74 858.95Z" fill="#00ee00"/>
<path d="M479.48 861.30L481.82 865.25L477.14 865.25Z" fill="#00ee00"/>
<path d="M497.88 863.16L500.22 867.11L495.53 867.11Z" fill="#00ee00"/>
<path d="M516.27 866.43L518.61 870.38L513.93 870.38Z" fill="#00ee00"/>
<path d="M534.67 860.60L537.01 864.55L532.32 864.55Z" fill="#00ee00"/>
<path d="M553.06 866.43L555.41 870.38L550.72 870.38Z" fill="#00ee00"/>
<path d="M571.46 857.10L573.80 861.05L569.11 861.05Z" fill="#00ee00"/>
<path d="M589.85 870.16L592.20 874.11L587.51 874.11Z" fill="#00ee00"/>
<circle cx="387.50" cy="910.87" r="1.99" fill="#000"/>
<circle cx="405.90" cy="872.63" r="1.99" fill="#000"/>
<circle cx="424.29" cy="845.11" r="1.99" fill="#000"/>
<circle cx="442.69" cy="842.08" r="1.99" fill="#000"/>
<circle cx="461.08" cy="865.63" r="1.99" fill="#000"/>
<circle cx="479.48" cy="874.26" r="1.99" fill="#000"/>
<circle cx="497.88" cy="853.74" r="1.99" fill="#000"/>
<circle cx="516.27" cy="857.47" r="1.99" fill="#000"/>
<circle cx="534.67" cy="858.87" r="1.99" fill="#000"/>
<circle cx="553.06" cy="861.43" r="1.99" fill="#000"/>
<circle cx="571.46" cy="863.30" r="1.99" fill="#000"/>
<circle cx="589.85" cy="865.63" r="1.99" fill="#000"/>
<circle cx="608.25" cy="858.87" r="1.99" fill="#000"/>
<circle cx="387.50" cy="918.10" r="1.99" fill="#ff0000"/>
<circle cx="405.90" cy="873.09" r="1.99" fill="#ff0000"/>
<circle cx="424.29" cy="840.68" r="1.99" fill="#ff0000"/>
<circle cx="442.69" cy="834.39" r="1.99" fill="#ff0000"/>
<circle cx="461.08" cy="851.41" r="1.99" fill="#ff0000"/>
<circle cx="479.48" cy="855.14" r="1.99" fill="#ff0000"/>
<circle cx="497.88" cy="859.57" r="1.99" fill="#ff0000"/>
<circle cx="516.27" cy="859.57" r="1.99" fill="#ff0000"/>
<circle cx="534.67" cy="860.97" r="1.99" fill="#ff0000"/>
<circle cx="553.06" cy="860.04" r="1.99" fill="#ff0000"/>
<circle cx="571.46" cy="861.43" r="1.99" fill="#ff0000"/>
<circle cx="589.85" cy="860.04" r="1.99" fill="#ff0000"/>
<circle cx="608.25" cy="860.74" r="1.99" fill="#ff0000"/>
<circle cx="387.50" cy="914.60" r="1.99" fill="#00ee00"/>
<circle cx="405.90" cy="876.83" r="1.99" fill="#00ee00"/>
<circle cx="424.29" cy="838.82" r="1.99" fill="#00ee00"/>
<circle cx="442.69" cy="836.48" r="1.99" fill="#00ee00"/>
<circle cx="461.08" cy="846.98" r="1.99" fill="#00ee00"/>
<circle cx="479.48" cy="852.57" r="1.99" fill="#00ee00"/>
<circle cx="497.88" cy="847.44" r="1.99" fill="#00ee00"/>
<circle cx="516.27" cy="848.14" r="1.99" fill="#00ee00"/>
<circle cx="534.67" cy="861.43" r="1.99" fill="#00ee00"/>
<circle cx="553.06" cy="854.67" r="1.99" fill="#00ee00"/>
<circle cx="571.46" cy="857.00" r="1.99" fill="#00ee00"/>
<circle cx="589.85" cy="861.43" r="1.99" fill="#00ee00"/>
<rect x="539" y="758.25" width="86.25" height="83.75" fill="#fff" stroke="#555" stroke-width="0.6"/>
<rect x="544.80" y="760.05" width="3.40" height="3.40" fill="#000"/>
<text x="554.5" y="763.77" font-size="5.6" fill="#000" stroke="#000" stroke-width="0.12"><tspan font-size="3.08" dy="-1.57">204</tspan><tspan dy="1.57">Tl S1</tspan></text>
<circle cx="546.50" cy="768.75" r="1.90" fill="#000"/>
<text x="554.5" y="770.77" font-size="5.6" fill="#000" stroke="#000" stroke-width="0.12"><tspan font-size="3.08" dy="-1.57">204</tspan><tspan dy="1.57">Tl S12</tspan></text>
<path d="M546.50 773.40L548.73 777.16L544.27 777.16Z" fill="#000"/>
<text x="554.5" y="777.77" font-size="5.6" fill="#000" stroke="#000" stroke-width="0.12"><tspan font-size="3.08" dy="-1.57">204</tspan><tspan dy="1.57">Tl S2</tspan></text>
<rect x="544.80" y="781.05" width="3.40" height="3.40" fill="#ff0000"/>
<text x="554.5" y="784.77" font-size="5.6" fill="#000" stroke="#000" stroke-width="0.12"><tspan font-size="3.08" dy="-1.57">137</tspan><tspan dy="1.57">Cs S1</tspan></text>
<circle cx="546.50" cy="789.75" r="1.90" fill="#ff0000"/>
<text x="554.5" y="791.77" font-size="5.6" fill="#000" stroke="#000" stroke-width="0.12"><tspan font-size="3.08" dy="-1.57">137</tspan><tspan dy="1.57">Cs S12</tspan></text>
<path d="M546.50 794.40L548.73 798.16L544.27 798.16Z" fill="#ff0000"/>
<text x="554.5" y="798.77" font-size="5.6" fill="#000" stroke="#000" stroke-width="0.12"><tspan font-size="3.08" dy="-1.57">137</tspan><tspan dy="1.57">Cs S2</tspan></text>
<rect x="544.80" y="802.05" width="3.40" height="3.40" fill="#00ee00"/>
<text x="554.5" y="805.77" font-size="5.6" fill="#000" stroke="#000" stroke-width="0.12"><tspan font-size="3.08" dy="-1.57">22</tspan><tspan dy="1.57">Na S1</tspan></text>
<circle cx="546.50" cy="810.75" r="1.90" fill="#00ee00"/>
<text x="554.5" y="812.77" font-size="5.6" fill="#000" stroke="#000" stroke-width="0.12"><tspan font-size="3.08" dy="-1.57">22</tspan><tspan dy="1.57">Na S12</tspan></text>
<path d="M546.50 815.40L548.73 819.16L544.27 819.16Z" fill="#00ee00"/>
<text x="554.5" y="819.77" font-size="5.6" fill="#000" stroke="#000" stroke-width="0.12"><tspan font-size="3.08" dy="-1.57">22</tspan><tspan dy="1.57">Na S2</tspan></text>
<line x1="541" y1="824.75" x2="552.5" y2="824.75" stroke="#777" stroke-width="0.6"/>
<text x="554.75" y="826.77" font-size="5.6" fill="#000" stroke="#000" stroke-width="0.1">Fit Curve <tspan font-size="3.08" dy="-1.57">204</tspan><tspan dy="1.57">Tl (R</tspan><tspan font-size="3.08" dy="-1.57">2</tspan><tspan dy="1.57"> =0.9236)</tspan></text>
<line x1="541" y1="831.75" x2="552.5" y2="831.75" stroke="#ff0000" stroke-width="0.6"/>
<text x="554.75" y="833.77" font-size="5.6" fill="#000" stroke="#000" stroke-width="0.1">Fit Curve <tspan font-size="3.08" dy="-1.57">137</tspan><tspan dy="1.57">Cs (R</tspan><tspan font-size="3.08" dy="-1.57">2</tspan><tspan dy="1.57"> =0.9908)</tspan></text>
<line x1="541" y1="838.75" x2="552.5" y2="838.75" stroke="#33dd33" stroke-width="0.6"/>
<text x="554.75" y="840.77" font-size="5.6" fill="#000" stroke="#000" stroke-width="0.1">Fit Curve <tspan font-size="3.08" dy="-1.57">22</tspan><tspan dy="1.57">Na (R</tspan><tspan font-size="3.08" dy="-1.57">2</tspan><tspan dy="1.57"> =0.7570)</tspan></text>
<path d="M39.6 1010.3V1213.3H307.5" fill="none" stroke="#262626" stroke-width="1"/>
<path d="M59.00 1213.3v3.5M97.25 1213.3v3.5M135.50 1213.3v3.5M173.75 1213.3v3.5M212.00 1213.3v3.5M250.25 1213.3v3.5M288.50 1213.3v3.5M39.88 1213.3v2.0M59.00 1213.3v2.0M78.12 1213.3v2.0M97.25 1213.3v2.0M116.38 1213.3v2.0M135.50 1213.3v2.0M154.62 1213.3v2.0M173.75 1213.3v2.0M192.88 1213.3v2.0M212.00 1213.3v2.0M231.12 1213.3v2.0M250.25 1213.3v2.0M269.38 1213.3v2.0M288.50 1213.3v2.0M307.62 1213.3v2.0M39.6 1213.30h-3.5M39.6 1190.77h-3.5M39.6 1168.23h-3.5M39.6 1145.70h-3.5M39.6 1123.17h-3.5M39.6 1100.63h-3.5M39.6 1078.10h-3.5M39.6 1055.57h-3.5M39.6 1033.03h-3.5M39.6 1010.50h-3.5M39.6 1202.03h-2.0M39.6 1179.50h-2.0M39.6 1156.97h-2.0M39.6 1134.43h-2.0M39.6 1111.90h-2.0M39.6 1089.37h-2.0M39.6 1066.83h-2.0M39.6 1044.30h-2.0M39.6 1021.77h-2.0" stroke="#262626" stroke-width="0.8"/>
<text transform="translate(59.00 1225.90) scale(1 1.15)" font-size="8.5" text-anchor="middle" fill="#222" stroke="#222" stroke-width="0.22">600</text>
<text transform="translate(97.25 1225.90) scale(1 1.15)" font-size="8.5" text-anchor="middle" fill="#222" stroke="#222" stroke-width="0.22">700</text>
<text transform="translate(135.50 1225.90) scale(1 1.15)" font-size="8.5" text-anchor="middle" fill="#222" stroke="#222" stroke-width="0.22">800</text>
<text transform="translate(173.75 1225.90) scale(1 1.15)" font-size="8.5" text-anchor="middle" fill="#222" stroke="#222" stroke-width="0.22">900</text>
<text transform="translate(212.00 1225.90) scale(1 1.15)" font-size="8.5" text-anchor="middle" fill="#222" stroke="#222" stroke-width="0.22">1000</text>
<text transform="translate(250.25 1225.90) scale(1 1.15)" font-size="8.5" text-anchor="middle" fill="#222" stroke="#222" stroke-width="0.22">1100</text>
<text transform="translate(288.50 1225.90) scale(1 1.15)" font-size="8.5" text-anchor="middle" fill="#222" stroke="#222" stroke-width="0.22">1200</text>
<text transform="translate(32.60 1216.57) scale(1 1.15)" font-size="8.0" text-anchor="end" fill="#222" stroke="#222" stroke-width="0.22">100</text>
<text transform="translate(32.60 1194.03) scale(1 1.15)" font-size="8.0" text-anchor="end" fill="#222" stroke="#222" stroke-width="0.22">200</text>
<text transform="translate(32.60 1171.50) scale(1 1.15)" font-size="8.0" text-anchor="end" fill="#222" stroke="#222" stroke-width="0.22">300</text>
<text transform="translate(32.60 1148.97) scale(1 1.15)" font-size="8.0" text-anchor="end" fill="#222" stroke="#222" stroke-width="0.22">400</text>
<text transform="translate(32.60 1126.43) scale(1 1.15)" font-size="8.0" text-anchor="end" fill="#222" stroke="#222" stroke-width="0.22">500</text>
<text transform="translate(32.60 1103.90) scale(1 1.15)" font-size="8.0" text-anchor="end" fill="#222" stroke="#222" stroke-width="0.22">600</text>
<text transform="translate(32.60 1081.37) scale(1 1.15)" font-size="8.0" text-anchor="end" fill="#222" stroke="#222" stroke-width="0.22">700</text>
<text transform="translate(32.60 1058.83) scale(1 1.15)" font-size="8.0" text-anchor="end" fill="#222" stroke="#222" stroke-width="0.22">800</text>
<text transform="translate(32.60 1036.30) scale(1 1.15)" font-size="8.0" text-anchor="end" fill="#222" stroke="#222" stroke-width="0.22">900</text>
<text transform="translate(32.60 1013.77) scale(1 1.15)" font-size="8.0" text-anchor="end" fill="#222" stroke="#222" stroke-width="0.22">1000</text>
<text x="173.50" y="1242.60" font-size="10.3" font-weight="bold" text-anchor="middle" fill="#111">Voltage (V)</text>
<text transform="translate(7.90 1111.50) rotate(-90)" font-size="10.25" font-weight="bold" text-anchor="middle" fill="#111">Full Positive Pulse (µs)</text>
<text x="154.60" y="1261.60" style="font-family:&quot;Liberation Serif&quot;,serif" font-size="15.6" text-anchor="middle" fill="#111">(i)</text>
<path d="M59.00 1074.04L62.83 1078.62L66.65 1083.02L70.47 1087.23L74.30 1091.28L78.12 1095.16L81.95 1098.88L85.78 1102.46L89.60 1105.89L93.42 1109.18L97.25 1112.34L101.08 1115.37L104.90 1118.28L108.72 1121.07L112.55 1123.75L116.38 1126.32L120.20 1128.79L124.03 1131.15L127.85 1133.43L131.68 1135.61L135.50 1137.70L139.32 1139.70L143.15 1141.63L146.97 1143.48L150.80 1145.25L154.62 1146.95L158.45 1148.59L162.28 1150.15L166.10 1151.66L169.93 1153.10L173.75 1154.49L177.57 1155.82L181.40 1157.09L185.22 1158.31L189.05 1159.49L192.88 1160.62L196.70 1161.70L200.53 1162.73L204.35 1163.73L208.18 1164.69L212.00 1165.60L215.82 1166.48L219.65 1167.33L223.47 1168.14L227.30 1168.92L231.12 1169.66L234.95 1170.38L238.78 1171.06L242.60 1171.72L246.43 1172.36L250.25 1172.96L254.07 1173.55L257.90 1174.11L261.73 1174.64L265.55 1175.16L269.38 1175.65L273.20 1176.12L277.02 1176.58L280.85 1177.02L284.68 1177.43L288.50 1177.84" fill="none" stroke="#111" stroke-width="1.0" stroke-dasharray="1.1 3.4"/>
<path d="M59.00 1060.07L62.83 1066.18L66.65 1071.98L70.47 1077.51L74.30 1082.76L78.12 1087.76L81.95 1092.51L85.78 1097.03L89.60 1101.33L93.42 1105.42L97.25 1109.31L101.08 1113.01L104.90 1116.53L108.72 1119.88L112.55 1123.07L116.38 1126.10L120.20 1128.98L124.03 1131.72L127.85 1134.33L131.68 1136.81L135.50 1139.16L139.32 1141.41L143.15 1143.54L146.97 1145.57L150.80 1147.50L154.62 1149.34L158.45 1151.09L162.28 1152.75L166.10 1154.33L169.93 1155.83L173.75 1157.26L177.57 1158.62L181.40 1159.92L185.22 1161.15L189.05 1162.32L192.88 1163.43L196.70 1164.49L200.53 1165.50L204.35 1166.46L208.18 1167.37L212.00 1168.24L215.82 1169.06L219.65 1169.85L223.47 1170.59L227.30 1171.30L231.12 1171.98L234.95 1172.62L238.78 1173.23L242.60 1173.81L246.43 1174.36L250.25 1174.89L254.07 1175.39L257.90 1175.86L261.73 1176.32L265.55 1176.75L269.38 1177.16L273.20 1177.55L277.02 1177.92L280.85 1178.27L284.68 1178.60L288.50 1178.92" fill="none" stroke="#ff0000" stroke-width="1.0" stroke-dasharray="1.1 3.4"/>
<path d="M59.00 1057.82L62.51 1063.86L66.01 1069.62L69.52 1075.10L73.02 1080.32L76.53 1085.29L80.04 1090.03L83.54 1094.54L87.05 1098.84L90.56 1102.94L94.06 1106.84L97.57 1110.55L101.08 1114.09L104.58 1117.46L108.09 1120.68L111.59 1123.73L115.10 1126.65L118.61 1129.42L122.11 1132.07L125.62 1134.59L129.12 1136.98L132.63 1139.27L136.14 1141.45L139.64 1143.52L143.15 1145.49L146.66 1147.37L150.16 1149.17L153.67 1150.87L157.18 1152.50L160.68 1154.05L164.19 1155.52L167.69 1156.93L171.20 1158.27L174.71 1159.54L178.21 1160.76L181.72 1161.91L185.22 1163.01L188.73 1164.06L192.24 1165.06L195.74 1166.02L199.25 1166.92L202.76 1167.79L206.26 1168.61L209.77 1169.40L213.27 1170.14L216.78 1170.85L220.29 1171.53L223.79 1172.18L227.30 1172.79L230.81 1173.38L234.31 1173.93L237.82 1174.47L241.33 1174.97L244.83 1175.45L248.34 1175.91L251.84 1176.35L255.35 1176.77L258.86 1177.17L262.36 1177.54L265.87 1177.90L269.38 1178.25" fill="none" stroke="#22dd22" stroke-width="1.0" stroke-dasharray="1.1 3.4"/>
<path d="M116.38 1126.10L119.24 1128.99L122.11 1131.73L124.98 1134.32L127.85 1136.78L130.72 1139.10L133.59 1141.31L136.46 1143.39L139.32 1145.37L142.19 1147.24L145.06 1149.01L147.93 1150.69L150.80 1152.28L153.67 1153.78L156.54 1155.20L159.41 1156.55L162.28 1157.83L165.14 1159.04L168.01 1160.18L170.88 1161.27L173.75 1162.30L176.62 1163.27L179.49 1164.19L182.36 1165.06L185.22 1165.89L188.09 1166.67L190.96 1167.41L193.83 1168.11L196.70 1168.77L199.57 1169.40L202.44 1170.00L205.31 1170.56L208.18 1171.10L211.04 1171.60L213.91 1172.08L216.78 1172.53L219.65 1172.96L222.52 1173.37L225.39 1173.75L228.26 1174.12L231.12 1174.46L233.99 1174.79L236.86 1175.10L239.73 1175.39L242.60 1175.67L245.47 1175.93L248.34 1176.18L251.21 1176.42L254.07 1176.64L256.94 1176.85L259.81 1177.05L262.68 1177.24L265.55 1177.42L268.42 1177.59L271.29 1177.75L274.16 1177.91L277.02 1178.05L279.89 1178.19L282.76 1178.32L285.63 1178.44L288.50 1178.56" fill="none" stroke="#555" stroke-width="0.6"/>
<path d="M116.38 1126.10L119.24 1129.48L122.11 1132.66L124.98 1135.65L127.85 1138.45L130.72 1141.08L133.59 1143.56L136.46 1145.88L139.32 1148.06L142.19 1150.11L145.06 1152.03L147.93 1153.84L150.80 1155.54L153.67 1157.13L156.54 1158.63L159.41 1160.04L162.28 1161.36L165.14 1162.60L168.01 1163.76L170.88 1164.86L173.75 1165.88L176.62 1166.85L179.49 1167.76L182.36 1168.61L185.22 1169.41L188.09 1170.16L190.96 1170.86L193.83 1171.52L196.70 1172.15L199.57 1172.73L202.44 1173.28L205.31 1173.80L208.18 1174.28L211.04 1174.73L213.91 1175.16L216.78 1175.56L219.65 1175.94L222.52 1176.29L225.39 1176.62L228.26 1176.94L231.12 1177.23L233.99 1177.50L236.86 1177.76L239.73 1178.01L242.60 1178.23L245.47 1178.45L248.34 1178.65L251.21 1178.84L254.07 1179.01L256.94 1179.18L259.81 1179.34L262.68 1179.48L265.55 1179.62L268.42 1179.75L271.29 1179.87L274.16 1179.99L277.02 1180.10L279.89 1180.20L282.76 1180.29L285.63 1180.38L288.50 1180.46" fill="none" stroke="#ff0000" stroke-width="0.6"/>
<path d="M116.38 1127.00L118.92 1130.47L121.48 1133.72L124.03 1136.76L126.57 1139.61L129.12 1142.29L131.68 1144.79L134.22 1147.13L136.78 1149.32L139.32 1151.38L141.88 1153.31L144.43 1155.11L146.97 1156.80L149.52 1158.38L152.08 1159.86L154.62 1161.25L157.17 1162.55L159.73 1163.76L162.28 1164.91L164.82 1165.97L167.38 1166.97L169.93 1167.91L172.47 1168.79L175.03 1169.61L177.57 1170.38L180.12 1171.10L182.68 1171.78L185.22 1172.41L187.77 1173.00L190.33 1173.55L192.88 1174.07L195.42 1174.56L197.98 1175.02L200.53 1175.44L203.07 1175.84L205.63 1176.22L208.18 1176.57L210.72 1176.90L213.28 1177.21L215.82 1177.49L218.38 1177.76L220.92 1178.02L223.47 1178.25L226.03 1178.48L228.57 1178.68L231.12 1178.88L233.68 1179.06L236.22 1179.23L238.78 1179.39L241.33 1179.54L243.87 1179.68L246.43 1179.81L248.98 1179.94L251.52 1180.05L254.07 1180.16L256.62 1180.26L259.17 1180.35L261.73 1180.44L264.28 1180.53L266.82 1180.60L269.38 1180.68" fill="none" stroke="#33dd33" stroke-width="0.6"/>
<rect x="57.22" y="1040.71" width="3.57" height="3.57" fill="#000"/>
<rect x="76.34" y="1044.99" width="3.57" height="3.57" fill="#000"/>
<rect x="95.47" y="1048.37" width="3.57" height="3.57" fill="#000"/>
<rect x="114.59" y="1098.85" width="3.57" height="3.57" fill="#000"/>
<rect x="133.72" y="1120.25" width="3.57" height="3.57" fill="#000"/>
<rect x="152.84" y="1131.52" width="3.57" height="3.57" fill="#000"/>
<rect x="171.97" y="1139.41" width="3.57" height="3.57" fill="#000"/>
<rect x="191.09" y="1144.14" width="3.57" height="3.57" fill="#000"/>
<rect x="210.22" y="1150.22" width="3.57" height="3.57" fill="#000"/>
<rect x="229.34" y="1152.93" width="3.57" height="3.57" fill="#000"/>
<rect x="248.47" y="1155.41" width="3.57" height="3.57" fill="#000"/>
<rect x="267.59" y="1159.24" width="3.57" height="3.57" fill="#000"/>
<rect x="286.71" y="1160.81" width="3.57" height="3.57" fill="#000"/>
<path d="M59.00 1041.83L61.34 1045.78L56.66 1045.78Z" fill="#000"/>
<path d="M78.12 1046.34L80.47 1050.29L75.78 1050.29Z" fill="#000"/>
<path d="M97.25 1048.59L99.59 1052.54L94.91 1052.54Z" fill="#000"/>
<path d="M116.38 1098.17L118.72 1102.11L114.03 1102.11Z" fill="#000"/>
<path d="M135.50 1120.70L137.84 1124.65L133.16 1124.65Z" fill="#000"/>
<path d="M154.62 1131.97L156.97 1135.91L152.28 1135.91Z" fill="#000"/>
<path d="M173.75 1139.85L176.09 1143.80L171.41 1143.80Z" fill="#000"/>
<path d="M192.88 1143.46L195.22 1147.41L190.53 1147.41Z" fill="#000"/>
<path d="M212.00 1149.99L214.34 1153.94L209.66 1153.94Z" fill="#000"/>
<path d="M231.12 1152.25L233.47 1156.19L228.78 1156.19Z" fill="#000"/>
<path d="M250.25 1155.63L252.59 1159.57L247.91 1159.57Z" fill="#000"/>
<path d="M269.38 1159.01L271.72 1162.95L267.03 1162.95Z" fill="#000"/>
<path d="M288.50 1160.81L290.84 1164.76L286.16 1164.76Z" fill="#000"/>
<rect x="57.22" y="1051.98" width="3.57" height="3.57" fill="#ff0000"/>
<rect x="76.34" y="1051.53" width="3.57" height="3.57" fill="#ff0000"/>
<rect x="95.47" y="1053.78" width="3.57" height="3.57" fill="#ff0000"/>
<rect x="114.59" y="1092.54" width="3.57" height="3.57" fill="#ff0000"/>
<rect x="133.72" y="1120.48" width="3.57" height="3.57" fill="#ff0000"/>
<rect x="152.84" y="1134.00" width="3.57" height="3.57" fill="#ff0000"/>
<rect x="171.97" y="1138.96" width="3.57" height="3.57" fill="#ff0000"/>
<rect x="191.09" y="1146.17" width="3.57" height="3.57" fill="#ff0000"/>
<rect x="210.22" y="1149.77" width="3.57" height="3.57" fill="#ff0000"/>
<rect x="229.34" y="1157.89" width="3.57" height="3.57" fill="#ff0000"/>
<rect x="248.47" y="1159.69" width="3.57" height="3.57" fill="#ff0000"/>
<rect x="267.59" y="1159.69" width="3.57" height="3.57" fill="#ff0000"/>
<rect x="286.71" y="1161.49" width="3.57" height="3.57" fill="#ff0000"/>
<path d="M59.00 1051.97L61.34 1055.92L56.66 1055.92Z" fill="#ff0000"/>
<path d="M78.12 1051.97L80.47 1055.92L75.78 1055.92Z" fill="#ff0000"/>
<path d="M97.25 1053.10L99.59 1057.05L94.91 1057.05Z" fill="#ff0000"/>
<path d="M116.38 1091.86L118.72 1095.80L114.03 1095.80Z" fill="#ff0000"/>
<path d="M135.50 1120.70L137.84 1124.65L133.16 1124.65Z" fill="#ff0000"/>
<path d="M154.62 1133.32L156.97 1137.27L152.28 1137.27Z" fill="#ff0000"/>
<path d="M173.75 1138.73L176.09 1142.67L171.41 1142.67Z" fill="#ff0000"/>
<path d="M192.88 1146.61L195.22 1150.56L190.53 1150.56Z" fill="#ff0000"/>
<path d="M212.00 1151.12L214.34 1155.07L209.66 1155.07Z" fill="#ff0000"/>
<path d="M231.12 1157.20L233.47 1161.15L228.78 1161.15Z" fill="#ff0000"/>
<path d="M250.25 1159.01L252.59 1162.95L247.91 1162.95Z" fill="#ff0000"/>
<path d="M269.38 1160.13L271.72 1164.08L267.03 1164.08Z" fill="#ff0000"/>
<path d="M288.50 1163.51L290.84 1167.46L286.16 1167.46Z" fill="#ff0000"/>
<rect x="57.22" y="1053.78" width="3.57" height="3.57" fill="#00ee00"/>
<rect x="76.34" y="1044.77" width="3.57" height="3.57" fill="#00ee00"/>
<rect x="95.47" y="1052.88" width="3.57" height="3.57" fill="#00ee00"/>
<rect x="114.59" y="1095.92" width="3.57" height="3.57" fill="#00ee00"/>
<rect x="133.72" y="1116.42" width="3.57" height="3.57" fill="#00ee00"/>
<rect x="152.84" y="1130.85" width="3.57" height="3.57" fill="#00ee00"/>
<rect x="171.97" y="1142.11" width="3.57" height="3.57" fill="#00ee00"/>
<rect x="191.09" y="1147.97" width="3.57" height="3.57" fill="#00ee00"/>
<rect x="210.22" y="1152.93" width="3.57" height="3.57" fill="#00ee00"/>
<rect x="229.34" y="1154.73" width="3.57" height="3.57" fill="#00ee00"/>
<rect x="248.47" y="1159.69" width="3.57" height="3.57" fill="#00ee00"/>
<rect x="267.59" y="1162.62" width="3.57" height="3.57" fill="#00ee00"/>
<path d="M59.00 1054.23L61.34 1058.17L56.66 1058.17Z" fill="#00ee00"/>
<path d="M78.12 1055.80L80.47 1059.75L75.78 1059.75Z" fill="#00ee00"/>
<path d="M97.25 1055.80L99.59 1059.75L94.91 1059.75Z" fill="#00ee00"/>
<path d="M116.38 1095.24L118.72 1099.18L114.03 1099.18Z" fill="#00ee00"/>
<path d="M135.50 1123.40L137.84 1127.35L133.16 1127.35Z" fill="#00ee00"/>
<path d="M154.62 1137.15L156.97 1141.10L152.28 1141.10Z" fill="#00ee00"/>
<path d="M173.75 1146.39L176.09 1150.34L171.41 1150.34Z" fill="#00ee00"/>
<path d="M192.88 1149.99L195.22 1153.94L190.53 1153.94Z" fill="#00ee00"/>
<path d="M212.00 1155.18L214.34 1159.12L209.66 1159.12Z" fill="#00ee00"/>
<path d="M231.12 1155.63L233.47 1159.57L228.78 1159.57Z" fill="#00ee00"/>
<path d="M250.25 1161.26L252.59 1165.21L247.91 1165.21Z" fill="#00ee00"/>
<path d="M269.38 1161.94L271.72 1165.88L267.03 1165.88Z" fill="#00ee00"/>
<circle cx="59.00" cy="1074.04" r="1.99" fill="#000"/>
<circle cx="78.12" cy="1098.38" r="1.99" fill="#000"/>
<circle cx="97.25" cy="1099.28" r="1.99" fill="#000"/>
<circle cx="116.38" cy="1103.11" r="1.99" fill="#000"/>
<circle cx="135.50" cy="1142.55" r="1.99" fill="#000"/>
<circle cx="154.62" cy="1154.26" r="1.99" fill="#000"/>
<circle cx="173.75" cy="1161.47" r="1.99" fill="#000"/>
<circle cx="192.88" cy="1165.30" r="1.99" fill="#000"/>
<circle cx="212.00" cy="1170.26" r="1.99" fill="#000"/>
<circle cx="231.12" cy="1173.42" r="1.99" fill="#000"/>
<circle cx="250.25" cy="1175.67" r="1.99" fill="#000"/>
<circle cx="269.38" cy="1177.70" r="1.99" fill="#000"/>
<circle cx="288.50" cy="1177.70" r="1.99" fill="#000"/>
<circle cx="59.00" cy="1060.07" r="1.99" fill="#ff0000"/>
<circle cx="78.12" cy="1096.35" r="1.99" fill="#ff0000"/>
<circle cx="97.25" cy="1101.31" r="1.99" fill="#ff0000"/>
<circle cx="116.38" cy="1126.10" r="1.99" fill="#ff0000"/>
<circle cx="135.50" cy="1144.57" r="1.99" fill="#ff0000"/>
<circle cx="154.62" cy="1158.32" r="1.99" fill="#ff0000"/>
<circle cx="173.75" cy="1164.85" r="1.99" fill="#ff0000"/>
<circle cx="192.88" cy="1168.23" r="1.99" fill="#ff0000"/>
<circle cx="212.00" cy="1171.39" r="1.99" fill="#ff0000"/>
<circle cx="231.12" cy="1173.87" r="1.99" fill="#ff0000"/>
<circle cx="250.25" cy="1177.70" r="1.99" fill="#ff0000"/>
<circle cx="269.38" cy="1178.82" r="1.99" fill="#ff0000"/>
<circle cx="288.50" cy="1179.73" r="1.99" fill="#ff0000"/>
<circle cx="59.00" cy="1060.07" r="1.99" fill="#00ee00"/>
<circle cx="78.12" cy="1092.30" r="1.99" fill="#00ee00"/>
<circle cx="97.25" cy="1108.29" r="1.99" fill="#00ee00"/>
<circle cx="116.38" cy="1128.12" r="1.99" fill="#00ee00"/>
<circle cx="135.50" cy="1148.85" r="1.99" fill="#00ee00"/>
<circle cx="154.62" cy="1161.70" r="1.99" fill="#00ee00"/>
<circle cx="173.75" cy="1166.88" r="1.99" fill="#00ee00"/>
<circle cx="192.88" cy="1170.26" r="1.99" fill="#00ee00"/>
<circle cx="212.00" cy="1175.22" r="1.99" fill="#00ee00"/>
<circle cx="231.12" cy="1176.57" r="1.99" fill="#00ee00"/>
<circle cx="250.25" cy="1178.15" r="1.99" fill="#00ee00"/>
<circle cx="269.38" cy="1179.73" r="1.99" fill="#00ee00"/>
<rect x="218.25" y="1014.25" width="92.5" height="110.75" fill="#fff" stroke="#555" stroke-width="0.6"/>
<rect x="224.80" y="1016.55" width="3.40" height="3.40" fill="#000"/>
<text x="234.5" y="1020.41" font-size="6.0" fill="#000" stroke="#000" stroke-width="0.12"><tspan font-size="3.30" dy="-1.68">204</tspan><tspan dy="1.68">Tl S1</tspan></text>
<circle cx="226.50" cy="1025.64" r="1.90" fill="#000"/>
<text x="234.5" y="1027.80" font-size="6.0" fill="#000" stroke="#000" stroke-width="0.12"><tspan font-size="3.30" dy="-1.68">204</tspan><tspan dy="1.68">Tl S12</tspan></text>
<path d="M226.50 1030.69L228.73 1034.45L224.27 1034.45Z" fill="#000"/>
<text x="234.5" y="1035.20" font-size="6.0" fill="#000" stroke="#000" stroke-width="0.12"><tspan font-size="3.30" dy="-1.68">204</tspan><tspan dy="1.68">Tl S2</tspan></text>
<rect x="224.80" y="1038.73" width="3.40" height="3.40" fill="#ff0000"/>
<text x="234.5" y="1042.59" font-size="6.0" fill="#000" stroke="#000" stroke-width="0.12"><tspan font-size="3.30" dy="-1.68">137</tspan><tspan dy="1.68">Cs S1</tspan></text>
<circle cx="226.50" cy="1047.82" r="1.90" fill="#ff0000"/>
<text x="234.5" y="1049.98" font-size="6.0" fill="#000" stroke="#000" stroke-width="0.12"><tspan font-size="3.30" dy="-1.68">137</tspan><tspan dy="1.68">Cs S12</tspan></text>
<path d="M226.50 1052.86L228.73 1056.62L224.27 1056.62Z" fill="#ff0000"/>
<text x="234.5" y="1057.37" font-size="6.0" fill="#000" stroke="#000" stroke-width="0.12"><tspan font-size="3.30" dy="-1.68">137</tspan><tspan dy="1.68">Cs S2</tspan></text>
<rect x="224.80" y="1060.91" width="3.40" height="3.40" fill="#00ee00"/>
<text x="234.5" y="1064.77" font-size="6.0" fill="#000" stroke="#000" stroke-width="0.12"><tspan font-size="3.30" dy="-1.68">22</tspan><tspan dy="1.68">Na S1</tspan></text>
<circle cx="226.50" cy="1070.00" r="1.90" fill="#00ee00"/>
<text x="234.5" y="1072.16" font-size="6.0" fill="#000" stroke="#000" stroke-width="0.12"><tspan font-size="3.30" dy="-1.68">22</tspan><tspan dy="1.68">Na S12</tspan></text>
<path d="M226.50 1075.04L228.73 1078.80L224.27 1078.80Z" fill="#00ee00"/>
<text x="234.5" y="1079.55" font-size="6.0" fill="#000" stroke="#000" stroke-width="0.12"><tspan font-size="3.30" dy="-1.68">22</tspan><tspan dy="1.68">Na S2</tspan></text>
<line x1="220" y1="1084.79" x2="233" y2="1084.79" stroke="#000" stroke-width="0.9" stroke-dasharray="1.1 3.6"/>
<text x="235" y="1086.95" font-size="6.0" fill="#000" stroke="#000" stroke-width="0.1">Fit Curve <tspan font-size="3.30" dy="-1.68">204</tspan><tspan dy="1.68">Tl (R</tspan><tspan font-size="3.30" dy="-1.68">2</tspan><tspan dy="1.68"> =0.9829)</tspan></text>
<line x1="220" y1="1092.18" x2="233" y2="1092.18" stroke="#ff0000" stroke-width="0.9" stroke-dasharray="1.1 3.6"/>
<text x="235" y="1094.34" font-size="6.0" fill="#000" stroke="#000" stroke-width="0.1">Fit Curve <tspan font-size="3.30" dy="-1.68">137</tspan><tspan dy="1.68">Cs (R</tspan><tspan font-size="3.30" dy="-1.68">2</tspan><tspan dy="1.68"> =0.9870)</tspan></text>
<line x1="220" y1="1099.57" x2="233" y2="1099.57" stroke="#00ee00" stroke-width="0.9" stroke-dasharray="1.1 3.6"/>
<text x="235" y="1101.73" font-size="6.0" fill="#000" stroke="#000" stroke-width="0.1">Fit Curve <tspan font-size="3.30" dy="-1.68">22</tspan><tspan dy="1.68">Na (R</tspan><tspan font-size="3.30" dy="-1.68">2</tspan><tspan dy="1.68"> =0.9942)</tspan></text>
<line x1="220" y1="1106.96" x2="233" y2="1106.96" stroke="#777" stroke-width="0.6"/>
<text x="235" y="1109.12" font-size="6.0" fill="#000" stroke="#000" stroke-width="0.1">Fit Curve <tspan font-size="3.30" dy="-1.68">204</tspan><tspan dy="1.68">Tl (R</tspan><tspan font-size="3.30" dy="-1.68">2</tspan><tspan dy="1.68"> =0.9989)</tspan></text>
<line x1="220" y1="1114.36" x2="233" y2="1114.36" stroke="#ff0000" stroke-width="0.6"/>
<text x="235" y="1116.52" font-size="6.0" fill="#000" stroke="#000" stroke-width="0.1">Fit Curve <tspan font-size="3.30" dy="-1.68">137</tspan><tspan dy="1.68">Cs (R</tspan><tspan font-size="3.30" dy="-1.68">2</tspan><tspan dy="1.68"> =0.9974)</tspan></text>
<line x1="220" y1="1121.75" x2="233" y2="1121.75" stroke="#33dd33" stroke-width="0.6"/>
<text x="235" y="1123.91" font-size="6.0" fill="#000" stroke="#000" stroke-width="0.1">Fit Curve <tspan font-size="3.30" dy="-1.68">22</tspan><tspan dy="1.68">Na (R</tspan><tspan font-size="3.30" dy="-1.68">2</tspan><tspan dy="1.68"> =0.9968)</tspan></text>
<path d="M372.1 1007V1215.5H647" fill="none" stroke="#262626" stroke-width="1"/>
<path d="M391.50 1215.5v3.8M430.83 1215.5v3.8M470.17 1215.5v3.8M509.50 1215.5v3.8M548.83 1215.5v3.8M588.17 1215.5v3.8M627.50 1215.5v3.8M371.83 1215.5v1.8M391.50 1215.5v1.8M411.17 1215.5v1.8M430.83 1215.5v1.8M450.50 1215.5v1.8M470.17 1215.5v1.8M489.83 1215.5v1.8M509.50 1215.5v1.8M529.17 1215.5v1.8M548.83 1215.5v1.8M568.50 1215.5v1.8M588.17 1215.5v1.8M607.83 1215.5v1.8M627.50 1215.5v1.8M647.17 1215.5v1.8M372.1 1215.50h-3.8M372.1 1189.47h-3.8M372.1 1163.45h-3.8M372.1 1137.42h-3.8M372.1 1111.40h-3.8M372.1 1085.38h-3.8M372.1 1059.35h-3.8M372.1 1033.33h-3.8M372.1 1007.30h-3.8M372.1 1202.49h-1.8M372.1 1176.46h-1.8M372.1 1150.44h-1.8M372.1 1124.41h-1.8M372.1 1098.39h-1.8M372.1 1072.36h-1.8M372.1 1046.34h-1.8M372.1 1020.31h-1.8" stroke="#262626" stroke-width="0.8"/>
<text transform="translate(391.50 1228.85) scale(1 1.15)" font-size="8.4" text-anchor="middle" fill="#222" stroke="#222" stroke-width="0.22">600</text>
<text transform="translate(430.83 1228.85) scale(1 1.15)" font-size="8.4" text-anchor="middle" fill="#222" stroke="#222" stroke-width="0.22">700</text>
<text transform="translate(470.17 1228.85) scale(1 1.15)" font-size="8.4" text-anchor="middle" fill="#222" stroke="#222" stroke-width="0.22">800</text>
<text transform="translate(509.50 1228.85) scale(1 1.15)" font-size="8.4" text-anchor="middle" fill="#222" stroke="#222" stroke-width="0.22">900</text>
<text transform="translate(548.83 1228.85) scale(1 1.15)" font-size="8.4" text-anchor="middle" fill="#222" stroke="#222" stroke-width="0.22">1000</text>
<text transform="translate(588.17 1228.85) scale(1 1.15)" font-size="8.4" text-anchor="middle" fill="#222" stroke="#222" stroke-width="0.22">1100</text>
<text transform="translate(627.50 1228.85) scale(1 1.15)" font-size="8.4" text-anchor="middle" fill="#222" stroke="#222" stroke-width="0.22">1200</text>
<text transform="translate(365.10 1218.93) scale(1 1.15)" font-size="8.4" text-anchor="end" fill="#222" stroke="#222" stroke-width="0.22">0</text>
<text transform="translate(365.10 1192.90) scale(1 1.15)" font-size="8.4" text-anchor="end" fill="#222" stroke="#222" stroke-width="0.22">50</text>
<text transform="translate(365.10 1166.88) scale(1 1.15)" font-size="8.4" text-anchor="end" fill="#222" stroke="#222" stroke-width="0.22">100</text>
<text transform="translate(365.10 1140.85) scale(1 1.15)" font-size="8.4" text-anchor="end" fill="#222" stroke="#222" stroke-width="0.22">150</text>
<text transform="translate(365.10 1114.83) scale(1 1.15)" font-size="8.4" text-anchor="end" fill="#222" stroke="#222" stroke-width="0.22">200</text>
<text transform="translate(365.10 1088.80) scale(1 1.15)" font-size="8.4" text-anchor="end" fill="#222" stroke="#222" stroke-width="0.22">250</text>
<text transform="translate(365.10 1062.78) scale(1 1.15)" font-size="8.4" text-anchor="end" fill="#222" stroke="#222" stroke-width="0.22">300</text>
<text transform="translate(365.10 1036.75) scale(1 1.15)" font-size="8.4" text-anchor="end" fill="#222" stroke="#222" stroke-width="0.22">350</text>
<text transform="translate(365.10 1010.73) scale(1 1.15)" font-size="8.4" text-anchor="end" fill="#222" stroke="#222" stroke-width="0.22">400</text>
<text x="509.70" y="1246.50" font-size="10.6" font-weight="bold" text-anchor="middle" fill="#111">Voltage (V)</text>
<text transform="translate(344.50 1111.30) rotate(-90)" font-size="10.5" font-weight="bold" text-anchor="middle" fill="#111">Deadtime (µs)</text>
<text x="490.00" y="1264.90" style="font-family:&quot;Liberation Serif&quot;,serif" font-size="15.6" text-anchor="middle" fill="#111">(j)</text>
<path d="M391.50 1111.40C394.12 1119.52 405.55 1179.14 411.17 1172.30C416.79 1165.46 427.56 1072.36 430.83 1063.51C434.11 1054.67 446.13 1061.89 450.50 1066.12C454.87 1070.34 464.92 1095.26 470.17 1101.51C475.41 1107.76 484.59 1109.91 489.83 1112.96C495.08 1116.02 504.26 1122.82 509.50 1124.41C514.74 1126.01 523.92 1123.55 529.17 1124.93C534.41 1126.32 543.59 1134.20 548.83 1134.82C554.08 1135.45 563.26 1129.83 568.50 1129.62C573.74 1129.41 582.92 1133.40 588.17 1133.26C593.41 1133.12 602.59 1128.37 607.83 1128.58C613.08 1128.78 624.88 1133.99 627.50 1134.82" fill="none" stroke="#111" stroke-width="0.9"/>
<path d="M391.50 1116.61C394.12 1122.50 405.92 1166.95 411.17 1160.85C416.41 1154.74 425.59 1081.42 430.83 1070.80C436.08 1060.18 445.26 1076.49 450.50 1081.21C455.74 1085.93 464.92 1100.30 470.17 1106.19C475.41 1112.09 484.59 1121.98 489.83 1125.45C495.08 1128.92 504.26 1131.80 509.50 1132.22C514.74 1132.64 523.92 1128.37 529.17 1128.58C534.41 1128.78 543.59 1133.30 548.83 1133.78C554.08 1134.27 563.26 1132.57 568.50 1132.22C573.74 1131.87 582.92 1130.83 588.17 1131.18C593.41 1131.53 602.59 1134.75 607.83 1134.82C613.08 1134.89 624.88 1132.12 627.50 1131.70" fill="none" stroke="#ff0000" stroke-width="0.9"/>
<path d="M391.50 1119.73C394.12 1123.48 405.92 1144.78 411.17 1147.84C416.41 1150.89 425.59 1151.58 430.83 1142.63C436.08 1133.68 445.26 1084.51 450.50 1080.69C455.74 1076.87 464.92 1107.27 470.17 1114.00C475.41 1120.73 484.59 1128.82 489.83 1131.18C495.08 1133.54 504.26 1130.80 509.50 1131.70C514.74 1132.60 523.92 1137.32 529.17 1137.95C534.41 1138.57 543.59 1136.31 548.83 1136.38C554.08 1136.45 563.26 1138.74 568.50 1138.47C573.74 1138.19 582.92 1135.00 588.17 1134.30C593.41 1133.61 605.21 1133.40 607.83 1133.26" fill="none" stroke="#00dd00" stroke-width="0.9"/>
<rect x="389.38" y="1109.28" width="4.25" height="4.25" fill="#000"/>
<rect x="409.04" y="1170.17" width="4.25" height="4.25" fill="#000"/>
<rect x="428.71" y="1061.39" width="4.25" height="4.25" fill="#000"/>
<rect x="448.38" y="1063.99" width="4.25" height="4.25" fill="#000"/>
<rect x="468.04" y="1099.39" width="4.25" height="4.25" fill="#000"/>
<rect x="487.71" y="1110.84" width="4.25" height="4.25" fill="#000"/>
<rect x="507.38" y="1122.29" width="4.25" height="4.25" fill="#000"/>
<rect x="527.04" y="1122.81" width="4.25" height="4.25" fill="#000"/>
<rect x="546.71" y="1132.70" width="4.25" height="4.25" fill="#000"/>
<rect x="566.38" y="1127.49" width="4.25" height="4.25" fill="#000"/>
<rect x="586.04" y="1131.14" width="4.25" height="4.25" fill="#000"/>
<rect x="605.71" y="1126.45" width="4.25" height="4.25" fill="#000"/>
<rect x="625.38" y="1132.70" width="4.25" height="4.25" fill="#000"/>
<circle cx="391.50" cy="1116.61" r="2.38" fill="#ff0000"/>
<circle cx="411.17" cy="1160.85" r="2.38" fill="#ff0000"/>
<circle cx="430.83" cy="1070.80" r="2.38" fill="#ff0000"/>
<circle cx="450.50" cy="1081.21" r="2.38" fill="#ff0000"/>
<circle cx="470.17" cy="1106.19" r="2.38" fill="#ff0000"/>
<circle cx="489.83" cy="1125.45" r="2.38" fill="#ff0000"/>
<circle cx="509.50" cy="1132.22" r="2.38" fill="#ff0000"/>
<circle cx="529.17" cy="1128.58" r="2.38" fill="#ff0000"/>
<circle cx="548.83" cy="1133.78" r="2.38" fill="#ff0000"/>
<circle cx="568.50" cy="1132.22" r="2.38" fill="#ff0000"/>
<circle cx="588.17" cy="1131.18" r="2.38" fill="#ff0000"/>
<circle cx="607.83" cy="1134.82" r="2.38" fill="#ff0000"/>
<circle cx="627.50" cy="1131.70" r="2.38" fill="#ff0000"/>
<path d="M391.50 1116.79L394.29 1121.49L388.71 1121.49Z" fill="#00ee00"/>
<path d="M411.17 1144.90L413.96 1149.60L408.38 1149.60Z" fill="#00ee00"/>
<path d="M430.83 1139.69L433.62 1144.39L428.04 1144.39Z" fill="#00ee00"/>
<path d="M450.50 1077.75L453.29 1082.45L447.71 1082.45Z" fill="#00ee00"/>
<path d="M470.17 1111.07L472.96 1115.77L467.38 1115.77Z" fill="#00ee00"/>
<path d="M489.83 1128.24L492.62 1132.94L487.04 1132.94Z" fill="#00ee00"/>
<path d="M509.50 1128.76L512.29 1133.46L506.71 1133.46Z" fill="#00ee00"/>
<path d="M529.17 1135.01L531.96 1139.71L526.38 1139.71Z" fill="#00ee00"/>
<path d="M548.83 1133.45L551.62 1138.15L546.04 1138.15Z" fill="#00ee00"/>
<path d="M568.50 1135.53L571.29 1140.23L565.71 1140.23Z" fill="#00ee00"/>
<path d="M588.17 1131.36L590.96 1136.06L585.38 1136.06Z" fill="#00ee00"/>
<path d="M607.83 1130.32L610.62 1135.02L605.04 1135.02Z" fill="#00ee00"/>
<rect x="547.5" y="1005.9" width="82.0" height="27.600000000000023" fill="#fff" stroke="#555" stroke-width="0.6"/>
<line x1="549" y1="1011.20" x2="565.5" y2="1011.20" stroke="#777" stroke-width="1.5"/>
<rect x="554.88" y="1009.08" width="4.25" height="4.25" fill="#000"/>
<text x="567.3" y="1013.81" font-size="7.25" fill="#111" stroke="#111" stroke-width="0.1">Deadtime (Tl-204)</text>
<line x1="549" y1="1020.00" x2="565.5" y2="1020.00" stroke="#f99" stroke-width="1.5"/>
<circle cx="557.00" cy="1020.00" r="2.38" fill="#ff0000"/>
<text x="567.3" y="1022.61" font-size="7.25" fill="#111" stroke="#111" stroke-width="0.1">Deadtime (Cs-137)</text>
<line x1="549" y1="1028.80" x2="565.5" y2="1028.80" stroke="#7f7" stroke-width="1.5"/>
<path d="M557.00 1025.86L559.79 1030.56L554.21 1030.56Z" fill="#00ee00"/>
<text x="567.3" y="1031.41" font-size="7.25" fill="#111" stroke="#111" stroke-width="0.1">Deadtime (Na-22)</text>
</svg></body></html>
